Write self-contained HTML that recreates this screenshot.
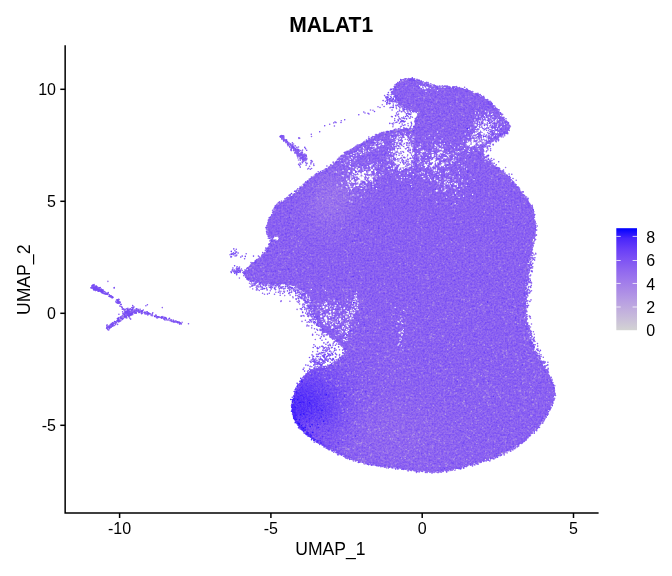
<!DOCTYPE html>
<html lang="en"><head><meta charset="utf-8"><title>MALAT1</title>
<style>html,body{margin:0;padding:0;background:#fff;overflow:hidden}svg{display:block;font-family:"Liberation Sans",sans-serif}</style></head>
<body>
<svg width="672" height="576" viewBox="0 0 672 576">
<rect width="672" height="576" fill="#fff"/>
<defs><linearGradient id="lg" x1="0" y1="0" x2="0" y2="1"><stop offset="0.000" stop-color="#0000FF"/><stop offset="0.100" stop-color="#4926FB"/><stop offset="0.200" stop-color="#673DF8"/><stop offset="0.300" stop-color="#7C51F4"/><stop offset="0.400" stop-color="#8E65F0"/><stop offset="0.500" stop-color="#9D77EC"/><stop offset="0.600" stop-color="#AA89E7"/><stop offset="0.700" stop-color="#B69CE3"/><stop offset="0.800" stop-color="#C1AEDE"/><stop offset="0.900" stop-color="#CAC0D9"/><stop offset="1.000" stop-color="#D3D3D3"/></linearGradient>
<radialGradient id="b0" cx="0.5" cy="0.5" r="0.5"><stop offset="0.00" stop-color="#4B28FB" stop-opacity="1.000"/><stop offset="0.12" stop-color="#4B28FB" stop-opacity="0.927"/><stop offset="0.25" stop-color="#4B28FB" stop-opacity="0.739"/><stop offset="0.38" stop-color="#4B28FB" stop-opacity="0.506"/><stop offset="0.50" stop-color="#4B28FB" stop-opacity="0.298"/><stop offset="0.62" stop-color="#4B28FB" stop-opacity="0.151"/><stop offset="0.75" stop-color="#4B28FB" stop-opacity="0.066"/><stop offset="0.88" stop-color="#4B28FB" stop-opacity="0.025"/><stop offset="1.00" stop-color="#4B28FB" stop-opacity="0.008"/></radialGradient>
<radialGradient id="b1" cx="0.5" cy="0.5" r="0.5"><stop offset="0.00" stop-color="#7C51F4" stop-opacity="1.000"/><stop offset="0.12" stop-color="#7C51F4" stop-opacity="0.927"/><stop offset="0.25" stop-color="#7C51F4" stop-opacity="0.739"/><stop offset="0.38" stop-color="#7C51F4" stop-opacity="0.506"/><stop offset="0.50" stop-color="#7C51F4" stop-opacity="0.298"/><stop offset="0.62" stop-color="#7C51F4" stop-opacity="0.151"/><stop offset="0.75" stop-color="#7C51F4" stop-opacity="0.066"/><stop offset="0.88" stop-color="#7C51F4" stop-opacity="0.025"/><stop offset="1.00" stop-color="#7C51F4" stop-opacity="0.008"/></radialGradient>
<radialGradient id="b2" cx="0.5" cy="0.5" r="0.5"><stop offset="0.00" stop-color="#9A74ED" stop-opacity="1.000"/><stop offset="0.12" stop-color="#9A74ED" stop-opacity="0.927"/><stop offset="0.25" stop-color="#9A74ED" stop-opacity="0.739"/><stop offset="0.38" stop-color="#9A74ED" stop-opacity="0.506"/><stop offset="0.50" stop-color="#9A74ED" stop-opacity="0.298"/><stop offset="0.62" stop-color="#9A74ED" stop-opacity="0.151"/><stop offset="0.75" stop-color="#9A74ED" stop-opacity="0.066"/><stop offset="0.88" stop-color="#9A74ED" stop-opacity="0.025"/><stop offset="1.00" stop-color="#9A74ED" stop-opacity="0.008"/></radialGradient>
<radialGradient id="b3" cx="0.5" cy="0.5" r="0.5"><stop offset="0.00" stop-color="#9067EF" stop-opacity="1.000"/><stop offset="0.12" stop-color="#9067EF" stop-opacity="0.927"/><stop offset="0.25" stop-color="#9067EF" stop-opacity="0.739"/><stop offset="0.38" stop-color="#9067EF" stop-opacity="0.506"/><stop offset="0.50" stop-color="#9067EF" stop-opacity="0.298"/><stop offset="0.62" stop-color="#9067EF" stop-opacity="0.151"/><stop offset="0.75" stop-color="#9067EF" stop-opacity="0.066"/><stop offset="0.88" stop-color="#9067EF" stop-opacity="0.025"/><stop offset="1.00" stop-color="#9067EF" stop-opacity="0.008"/></radialGradient>
<filter id="tex" x="200" y="60" width="380" height="430" filterUnits="userSpaceOnUse" color-interpolation-filters="sRGB"><feTurbulence type="fractalNoise" baseFrequency="0.55" numOctaves="2" seed="11" result="n"/><feColorMatrix in="n" type="matrix" values="-0.243 0 0 0 0.622  -0.271 0 0 0 0.635  0.058 0 0 0 0.471  0 0 0 0 1" result="c"/><feComposite in="SourceGraphic" in2="c" operator="arithmetic" k1="0" k2="1" k3="1" k4="-0.5" result="s"/><feComposite in="s" in2="SourceAlpha" operator="in"/></filter><clipPath id="cp"><path d="M245.2 273L245.2 273.1L245.4 273.7L245.8 274.7L246.5 275.8L247.2 276.8L248 277.6L248.7 278.1L249.4 278.5L250.3 278.8L251.6 279.2L253.5 279.7L255.9 280.3L258.9 281L262.1 281.6L265.3 282.2L268.2 282.6L270.8 282.8L273.4 282.8L275.9 282.7L275.9 282.7L278.4 282.6L278.5 282.6L281 282.6L281 282.6L283.5 282.7L286 282.7L286.1 282.7L288.5 282.8L288.6 282.8L291 283.1L291.2 283.1L293.4 283.7L293.6 283.7L293.7 283.7L295.8 284.6L296.1 284.7L298.1 285.9L298.2 286L300.1 287.3L300.2 287.3L302 288.7L302 288.7L303.6 290L305.2 291.1L305.2 291.2L306.6 292.3L306.7 292.3L308 293.4L308.1 293.5L309.3 294.8L309.4 294.9L310.5 296.3L310.6 296.5L311.6 298L311.7 298.1L312.5 299.7L312.6 299.8L313.4 301.5L313.4 301.6L314.2 303.6L314.2 303.7L315.1 306L315.1 306.1L316 309.1L316.1 309.2L317 312.6L317 312.6L318 316.3L319 319.7L320.1 322.6L321.2 324.9L322.3 326.9L323.5 328.7L324.9 330.4L326.3 331.9L327.9 333.2L329.7 334.4L331.8 335.5L331.8 335.5L333.9 336.8L334.1 336.9L336.2 338.5L336.2 338.6L338.5 340.5L338.5 340.5L341.1 342.7L341.2 342.8L343.6 345.2L343.8 345.4L345.7 347.7L345.8 347.8L345.9 348L345.9 348.2L346.8 350.3L346.8 350.5L346.9 350.7L346.9 350.9L346.9 351.1L346.9 351.2L346.9 351.4L346.4 353.4L346.3 353.6L346.3 353.8L346.2 354L346 354.1L344.6 356L344.5 356.2L344.3 356.3L342.3 358.1L342.2 358.2L339.9 359.9L337.9 361.5L336.1 362.9L336 363L334.1 364.3L334 364.4L332.1 365.6L332 365.6L329.9 366.7L329.7 366.8L327.4 367.8L327.2 367.8L324.5 368.6L324.3 368.6L321.4 369.1L321.3 369.1L318.3 369.5L315.5 370L313.2 370.8L311.4 371.7L309.8 372.8L308.4 374.1L306.9 375.6L305.4 377.2L303.9 379.1L302.4 381.1L300.9 383.2L299.6 385.4L298.4 387.6L297.3 389.7L296.4 392L295.6 394.2L294.9 396.5L294.4 398.7L293.9 400.9L293.6 403.2L293.5 405.4L293.4 407.6L293.6 409.8L293.9 412.1L294.3 414.3L294.9 416.6L295.7 418.7L296.7 420.8L297.9 422.8L299.4 424.7L301 426.6L302.8 428.5L304.6 430.4L306.4 432.1L308.2 433.7L310 435.3L311.9 436.9L314.1 438.4L316.5 440.1L319 441.7L321.8 443.3L324.6 445L327.6 446.6L330.7 448.3L334 450.1L337.4 451.8L340.7 453.5L344 455L347.3 456.3L350.6 457.5L353.9 458.7L357.2 459.7L360.5 460.7L363.8 461.5L367.1 462.2L370.4 462.8L373.7 463.4L377 463.9L380.3 464.5L383.6 465L386.9 465.5L390.2 465.9L390.3 465.9L393.6 466.4L393.6 466.4L397 466.9L397 466.9L400.6 467.5L404.1 468L407.4 468.5L410.2 468.9L412.5 469.2L414.3 469.4L416 469.5L417.8 469.7L420.1 469.8L420.1 469.8L423.1 470L423.1 470L426.3 470.3L429.8 470.5L433.3 470.7L436.6 470.6L439.8 470.3L443.1 469.9L446.3 469.4L449.6 468.8L452.9 468.1L456.2 467.4L459.5 466.6L462.8 465.8L466.2 464.9L469.5 464L472.8 463L476.2 462.1L479.5 461.1L482.8 460.1L486.1 459L489.4 457.8L492.7 456.6L495.9 455.3L499.2 454L502.5 452.5L505.8 450.9L509.3 449.1L512.6 447.3L515.9 445.4L518.9 443.4L521.8 441.3L524.6 439L527.2 436.6L529.7 434.2L531.9 432L533.9 429.9L535.7 427.9L537.2 426L538.7 424.1L540.2 422.2L541.6 420.2L543 418.3L544.3 416.4L545.5 414.4L546.6 412.4L547.8 410.2L548.8 407.9L549.9 405.6L550.8 403.3L551.5 401.1L552.1 399.1L552.5 397.1L552.8 395.2L553 393.4L553.1 391.7L553 390.1L552.8 388.6L552.5 387.2L552.1 385.6L551.5 384L550.8 382.2L549.9 380.3L548.9 378.4L547.8 376.3L546.6 374.2L545.4 372L544.1 369.8L542.8 367.5L542.8 367.4L541.4 365.1L541.4 365L540 362.6L540 362.6L538.7 360.1L538.7 360.1L537.2 357.5L537.2 357.5L535.8 354.9L535.8 354.9L534.5 352.3L534.5 352.3L533.3 349.8L533.3 349.8L532.3 347.5L532.2 347.5L531.3 345.4L531.3 345.3L530.5 343.2L530.5 343.2L529.8 341.1L529.7 341.1L529 338.9L529 338.9L528.3 336.6L528.2 336.6L527.5 334.3L527.5 334.3L526.8 331.9L526.8 331.9L526.2 329.5L526.2 329.5L525.6 327.1L525.6 327.1L525.2 324.8L525.2 324.7L524.8 322.4L524.7 322.4L524.4 320.1L524.4 320L524.1 317.7L524.1 317.6L523.9 315.2L523.9 315.1L523.8 312.6L523.8 312.5L523.7 309.9L523.7 309.9L523.8 307.2L523.8 307.2L523.8 304.5L523.8 304.4L523.9 301.6L523.9 301.6L524 298.7L524 298.7L524.2 295.7L524.2 295.6L524.3 292.6L524.4 292.5L524.6 289.5L524.6 289.5L524.8 286.5L524.8 286.5L525.1 283.7L525.1 283.6L525.4 280.8L525.4 280.8L525.8 278.1L526.1 275.5L526.4 273.1L526.6 270.9L526.7 268.9L526.9 266.9L526.9 266.9L527 264.9L527 264.8L527.3 262.8L527.3 262.7L527.7 260.4L527.7 260.4L528.2 258.1L528.2 258.1L528.8 255.7L528.8 255.7L529.3 253.4L529.9 251.3L529.9 251.2L530.4 249.1L530.4 249.1L530.9 247.1L530.9 247.1L531.4 245.1L531.9 243.1L532.4 241.3L532.8 239.5L532.8 239.5L533.1 238L533.5 236.5L533.7 234.9L533.9 233.1L534 231.1L534.1 228.8L534.2 226.5L534.1 224.2L533.9 221.9L533.6 219.6L533.2 217.3L532.7 215L532.2 212.8L531.5 210.6L530.8 208.6L529.9 206.7L529 204.8L527.9 203L526.7 201.1L525.3 199.2L523.8 197.2L522 195.3L520.3 193.3L520.3 193.2L518.6 191.2L518.5 191.2L516.9 189.2L516.9 189.2L515.3 187.1L513.7 185.1L512 183.2L510.3 181.3L508.5 179.5L506.5 177.7L504.5 175.9L502.5 174.2L500.5 172.5L498.5 170.9L496.4 169.3L494.4 167.8L494.4 167.8L492.4 166.3L492.4 166.2L490.5 164.8L488.7 163.4L487 162.1L486.9 162.1L485.3 160.8L485.2 160.7L483.8 159.4L483.7 159.3L483.6 159.2L482.5 157.9L482.4 157.7L482.3 157.5L481.7 156.3L481.6 156L481.5 155.8L481.2 154.6L481.2 154.4L481.2 154.2L481.2 152.9L481.2 152.7L481.4 151.4L481.4 151.3L481.6 150.1L481.7 150.1L481.9 148.9L482 148.8L482.3 147.7L482.4 147.6L482.4 147.5L482.9 146.4L483 146.2L483.1 146.1L484 145L484.1 144.9L484.2 144.8L485.4 143.6L485.6 143.4L487.4 142.2L487.6 142.1L489.9 140.7L490 140.7L492.6 139.2L492.6 139.2L495.1 137.9L497.4 136.6L499.3 135.5L499.3 135.5L501.2 134.4L503 133.4L504.4 132.5L505.6 131.8L506.3 131.2L506.7 130.8L506.8 130.6L507 130.2L507.3 129.7L507.3 129.7L507.6 129L507.9 128.4L508.1 127.9L508.1 127.4L508.1 127L508 126.5L507.6 125.8L507.2 125L506.6 124L505.9 123.1L505.3 122.2L504.5 121.2L503.7 120.2L503.7 120.2L502.8 119.1L502.8 119.1L501.8 117.9L501.8 117.8L500.7 116.4L500.7 116.4L499.6 114.9L498.5 113.3L497.3 111.7L496.1 110.3L494.7 108.8L493.3 107.3L491.8 105.9L490.3 104.5L488.8 103.1L487.2 101.9L485.7 100.7L484.2 99.5L482.6 98.4L481 97.4L479.4 96.5L477.7 95.6L476 94.8L474.2 94L472.3 93.3L470.3 92.5L468.2 91.8L466.1 91.1L463.8 90.4L461.3 89.9L458.4 89.4L455.2 88.9L451.8 88.5L448.6 88.2L445.9 87.9L443.7 87.8L441.9 87.8L440.3 87.8L440.2 87.8L438.7 87.8L438.5 87.8L436.9 87.7L436.7 87.7L435 87.4L434.9 87.4L433.2 87.1L433.1 87L431.4 86.6L431.3 86.6L429.7 86.1L429.6 86.1L427.9 85.6L427.8 85.6L426.2 85L426.1 85L424.5 84.3L424.5 84.3L422.9 83.5L421.4 82.9L419.9 82.3L418.2 81.7L416.5 81.2L414.8 80.7L413.2 80.3L411.8 80.1L410.5 80L409.4 80.1L408.2 80.2L407.1 80.4L405.9 80.7L404.8 80.9L403.8 81.2L402.8 81.6L401.8 82L400.9 82.5L400.1 83L399.2 83.6L398.4 84.2L397.7 84.9L396.9 85.7L396.2 86.6L395.5 87.5L394.9 88.4L394.6 89.2L394.4 90.1L394.5 91.2L394.8 92.7L395.3 94.3L396 95.9L396.7 97.4L397.4 98.8L398.2 100.1L399.1 101.3L400.1 102.5L401.2 103.6L402.6 104.6L404.1 105.6L405.7 106.5L407.5 107.4L409.1 108.3L410.8 109L412.6 109.6L414.5 110.1L414.7 110.2L416.2 110.9L416.4 111L416.6 111.1L416.7 111.2L417.7 112.1L417.9 112.2L418 112.3L418.1 112.5L418.2 112.6L418.3 112.8L418.3 112.9L418.6 114L418.7 114.2L418.7 114.4L418.7 114.6L418.7 114.7L418.7 114.9L418.5 116.1L418.5 116.3L418.4 116.5L417.9 117.8L417.8 117.9L417.3 119.2L416.9 120.4L416.6 121.8L416.5 123.6L416.5 123.7L416.3 125.5L416.3 125.7L416.2 125.9L415.7 127.4L415.7 127.6L415.6 127.8L415.5 127.9L415.4 128.1L414.5 129.2L414.3 129.3L414.2 129.5L414.1 129.6L413.9 129.7L413.8 129.7L413.6 129.8L412.1 130.3L411.9 130.3L411.7 130.4L411.5 130.4L409.6 130.4L409.4 130.4L407.3 130.1L405.1 129.9L403.1 129.9L401.1 130.2L399 130.6L396.7 131.1L394.4 131.6L392.1 132.1L392.1 132.2L389.9 132.6L389.8 132.6L387.7 133L385.7 133.4L383.4 134L380.7 135.1L377.5 136.6L373.7 138.5L369.8 140.7L365.8 142.9L365.8 143L362.2 145L362.2 145L358.8 146.8L358.8 146.8L355.5 148.6L352.4 150.3L349.7 151.8L347.4 153.3L345.8 154.4L344.9 155.3L344 156.3L344 156.3L343 157.4L342.8 157.5L341.3 158.9L341.2 159L338.9 160.8L338.9 160.8L336.3 162.8L336.3 162.8L333.4 165L333.4 165L330.5 167.1L330.5 167.1L327.8 169L327.8 169.1L325.3 170.8L325.2 170.8L322.8 172.3L322.7 172.3L320.4 173.8L318.1 175.2L316.1 176.6L314.3 177.9L312.8 179.1L311.3 180.3L309.8 181.6L309.7 181.6L307.9 183.1L305.8 185L303.5 187L303.5 187L301.1 189.1L301.1 189.1L298.6 191.2L298.6 191.3L296.2 193.2L296.1 193.2L293.7 195L293.6 195L291.2 196.7L291.1 196.7L288.7 198.3L288.7 198.3L286.4 199.7L284.4 201.1L284.3 201.1L282.5 202.3L282.5 202.3L280.9 203.2L279.5 204.1L278.4 205L277.3 206.2L276.2 207.8L275.2 210L274.2 212.3L273.2 214.7L273.2 214.7L272.2 216.8L272.2 216.9L271.2 218.6L271.2 218.7L270.3 220.1L269.5 221.3L268.9 222.4L268.6 223.7L268.3 225.3L268.3 227.3L268.3 229.3L268.6 231.2L268.8 232.8L269.3 234L270 235.2L270.9 236.4L271 236.5L271.7 237.7L271.8 237.9L271.9 238L271.9 238.2L272.3 239.5L272.4 239.6L272.4 239.8L272.4 240L272.4 241.3L272.4 241.4L272.4 241.6L272.2 242.8L272.2 243L272.1 243.1L271.7 244.4L271.6 244.6L270.9 246L270.9 246.1L269.9 247.7L269.9 247.8L268.6 249.6L268.5 249.7L266.9 251.8L266.9 251.8L265.1 254L265 254.1L263.2 256.1L263.1 256.2L261.4 258L261.3 258.1L259.6 259.6L259.5 259.7L257.7 261.1L257.7 261.1L256 262.4L254.4 263.5L253 264.7L251.6 266L250.3 267.4L249 268.8L247.9 270.1L247 271.2L246.9 271.3L246.1 272.1L246 272.2L245.4 272.8L245.2 273Z"/></clipPath></defs>
<g filter="url(#tex)"><g clip-path="url(#cp)">
<rect x="200" y="60" width="380" height="430" fill="#8A61F1"/>
<ellipse cx="298" cy="413" rx="96.80000000000001" ry="88.0" transform="rotate(0 298 413)" fill="url(#b0)"/>
<ellipse cx="318" cy="436" rx="57.2" ry="30.800000000000004" transform="rotate(30 318 436)" fill="url(#b1)"/>
<ellipse cx="332" cy="200" rx="48.400000000000006" ry="61.60000000000001" transform="rotate(20 332 200)" fill="url(#b2)"/>
<ellipse cx="395" cy="435" rx="132.0" ry="88.0" transform="rotate(0 395 435)" fill="url(#b3)"/>
</g></g>
<g fill="none" stroke-linecap="round" stroke-width="1.6">
<path stroke="#fff" stroke-width="1.3" d="M432 85.8h0M430.3 88.2h0M427.3 86.6h0M425.4 84.6h0M426 91.3h0M437.4 90.6h0M433.9 88.3h0M424.4 87.5h0M422.8 88.7h0M423.8 86.7h0M419.4 85.7h0M366.2 169.6h0M349.4 186h0M350.4 161.6h0M367.5 177.1h0M382.9 174.6h0M350.5 187.7h0M349.8 201h0M358.9 169.2h0M359.1 177.4h0M373.8 167.6h0M370.2 178.7h0M353.1 182.4h0M353.2 182h0M356.3 173.5h0M370.2 172.5h0M376.8 176.6h0M336.3 172h0M357.2 181.2h0M367.2 176.5h0M372.7 180.2h0M362.8 179.6h0M357.2 175.4h0M359.1 180.6h0M354 171.3h0M376.5 188.5h0M363.6 177.5h0M373 186.7h0M352.1 180.5h0M366 188.1h0M358.2 180.7h0M372.2 165.1h0M348 174h0M368.2 172h0M379.5 166.7h0M361.8 188.6h0M355.1 176.6h0M342.3 175.6h0M362.4 167h0M364.9 185.4h0M353.3 180.8h0M372.5 179.3h0M366.5 175.9h0M381.8 162.6h0M354.4 182.2h0M370.3 165.3h0M391.6 168.6h0M368.3 160.1h0M357.8 184.5h0M361 182.1h0M350.8 176h0M371.9 164.4h0M362.9 168.8h0M382 172.8h0M337.1 184.9h0M342.1 183.5h0M354.9 175.3h0M356.5 175.8h0M360.7 176.2h0M377.4 162.9h0M362.2 176.7h0M350.4 163.7h0M343 170.4h0M346.7 179.6h0M371.1 179.4h0M358 194.9h0M376.2 176h0M366.5 179h0M354.7 185.6h0M376.1 176.9h0M347 187.2h0M358 181.7h0M366.9 173.1h0M346.2 186.6h0M357 167.5h0M361.1 188.4h0M375.2 182.8h0M365.4 171.4h0M357.9 182.1h0M353.2 167.7h0M376.5 178.6h0M360.9 174.4h0M368.7 173.7h0M358.5 169.5h0M357.6 172.2h0M379.5 174.3h0M343.6 175.8h0M351 178.1h0M375 170.6h0M350.9 188.3h0M354.9 173.3h0M356.2 173.5h0M359.9 173.9h0M348.1 183.8h0M364.4 180.2h0M350.6 178h0M362.3 179.8h0M363 184.2h0M370.8 181.3h0M373.2 163.8h0M372.7 176.2h0M365.4 181h0M361.2 185.6h0M376 172.7h0M353.4 186.9h0M373.4 168.3h0M358.5 185.2h0M369.9 175.1h0M366.3 186.7h0M352.8 174.7h0M375.5 174.4h0M359.3 175.3h0M354.6 186.4h0M341.8 182.7h0M363.1 186.1h0M353.4 179.3h0M356.4 185.3h0M370.6 168.1h0M359 183.3h0M360.9 173.8h0M365 171.8h0M380 175.9h0M376.6 164.6h0M372.9 184.2h0M358.2 175.9h0M351.5 189.7h0M352.7 174.2h0M348.4 191.1h0M352 188.7h0M376.8 165.2h0M359.5 168.7h0M354.4 172.6h0M358.5 168.7h0M352 202h0M361.3 197.2h0M367.8 176.8h0M358.2 164.8h0M351.5 187.7h0M375 175.8h0M374 168.8h0M371.9 179h0M366.3 182.3h0M357.6 170.2h0M371.1 173.1h0M341.9 188h0M350.5 179.5h0M354.7 185.1h0M346.9 178.8h0M356.4 182.1h0M358.8 180.2h0M372 180.4h0M372.6 181.8h0M365.5 172.9h0M352.7 180.3h0M363.2 174.1h0M352.3 176.9h0M355.8 178.5h0M387.3 166.2h0M356.8 170.4h0M367.4 166.7h0M363.3 170.1h0M350.2 182.4h0M350.4 166.7h0M364.7 191.2h0M363.5 180.2h0M396.4 165.1h0M353 195h0M349.3 184.5h0M376.1 165.9h0M372.1 149.6h0M378.3 149.8h0M345.7 164.6h0M353.6 155.6h0M349.4 166h0M363.4 147.3h0M370.8 146.4h0M380.3 140.9h0M344.5 163.1h0M375.7 147.8h0M363.9 148.5h0M375 144.9h0M356.1 158.6h0M363.3 150.2h0M350.1 159.4h0M379.6 145.7h0M357.8 151.5h0M368.5 150.3h0M346.7 154.8h0M379 145.7h0M340.1 160.6h0M351.6 157.7h0M359.9 148.8h0M343.8 158.7h0M376 146.9h0M382.6 144.2h0M353.9 153.4h0M359.1 152.7h0M351.1 154.4h0M361.6 153.9h0M348.9 158.4h0M375.8 141.7h0M374.1 148.4h0M383.7 144.5h0M354.7 160.1h0M375.7 146.7h0M379 141.6h0M356.1 152.8h0M376.3 143.3h0M373 146.7h0M348 155.7h0M360.5 154.4h0M380 142.3h0M381.9 142.6h0M382.3 141.7h0M375 146.4h0M363.6 152.5h0M380.2 144.8h0M347.1 161h0M356.5 155.1h0M365.8 151.2h0M342 163.6h0M363.2 150.4h0M373.2 146.5h0M374.9 146.8h0M374.5 141.1h0M383.4 143.3h0M352.5 158.1h0M363.9 151.3h0M369.1 151.4h0M413 154.9h0M399.6 158.2h0M410.2 165.3h0M390.8 157.8h0M406.8 137.9h0M400 158h0M411 147.8h0M399.8 166.3h0M403 145.4h0M397.8 155.9h0M398 164.1h0M401.6 145.3h0M407.8 172.1h0M408.3 144.1h0M398.6 168.7h0M400.1 168.6h0M405.4 145h0M409.5 148.9h0M388 145.8h0M408.8 146h0M388.6 150.2h0M412 158.2h0M410.9 151.2h0M400.9 147.2h0M387.1 160h0M409.5 156.4h0M411.7 159.5h0M404.3 177.7h0M396.6 145.6h0M407.7 173.4h0M401.3 167.9h0M392.4 159.1h0M405.7 136.7h0M404.9 166h0M394.8 144.2h0M396.3 160.3h0M409.5 165.8h0M410.4 150.3h0M400.1 165.5h0M396.6 158.5h0M401.4 147.5h0M397.9 154.2h0M392.5 138.3h0M412 147.2h0M396.5 161.1h0M413.1 158.7h0M411 184.3h0M392.6 145.9h0M404.3 161.5h0M401.5 177.6h0M395.2 154.1h0M396.4 157.9h0M405.5 141.7h0M397.1 152.8h0M402.6 164.9h0M408.8 156.6h0M407.9 164.7h0M413.5 156.9h0M405 167.3h0M400.4 165h0M398.2 149.6h0M397.2 179.3h0M390.9 158.8h0M411.6 186.7h0M413.2 174.7h0M411.9 138.8h0M411.2 152.5h0M401.9 163.4h0M398.7 144.4h0M390.5 165.7h0M399.8 159.1h0M408.9 160h0M412.2 150.1h0M395.9 154.6h0M410.5 150h0M406.7 166.8h0M411.5 157.5h0M405.8 167.2h0M412.8 165.2h0M407 177.3h0M408.7 149.8h0M392.5 157.6h0M408 139.5h0M401.9 166.2h0M389.6 153.7h0M388.8 169.5h0M399.3 134.1h0M399.7 174.4h0M395.9 150.6h0M394.5 145.1h0M399.4 149.6h0M406.6 140.3h0M395.5 147.8h0M395.2 139.7h0M401.4 180h0M394.8 161.4h0M409.6 162.3h0M406.7 145.7h0M400.5 164h0M399.4 157.5h0M410.6 146.4h0M402.5 167.4h0M411.4 151.5h0M398.1 156.7h0M402.3 141.8h0M398.3 146.6h0M408.9 166.7h0M398.9 147.2h0M410.3 163.5h0M404.4 168.3h0M412.1 164h0M402.4 144.7h0M401.4 145.3h0M396.9 163.7h0M394 152.4h0M398.5 170.1h0M398.4 151.8h0M404.8 140.9h0M388.3 160.1h0M410.2 178.7h0M411 153.8h0M410.4 166.1h0M396.5 149.8h0M409.2 162.5h0M408.3 142.1h0M397 137.9h0M398.4 154.5h0M399.1 151.6h0M400.6 131.2h0M413.1 167.6h0M395.7 166h0M407.9 168h0M399.6 161h0M408.8 145.9h0M396.6 133.1h0M407.7 163.9h0M403.8 163.4h0M413.5 174.6h0M408.7 158.6h0M409.5 160.6h0M392.3 172.2h0M395 155.3h0M409.9 144.7h0M397.4 164h0M408.1 148.8h0M396.4 141.7h0M395.6 145.1h0M402.9 167h0M412.8 153.6h0M395.7 143.6h0M400.3 170.7h0M394.9 155.2h0M409.1 160h0M395.8 152h0M400.7 148h0M387.2 156.9h0M401.7 146.2h0M409.2 146.3h0M402 143.4h0M398.5 160.3h0M398.4 138h0M400.7 170.6h0M396.9 163.1h0M399.6 138.9h0M397.1 147.3h0M396.1 133.7h0M413.6 155.3h0M409.9 147.3h0M410.7 145.1h0M410.2 171.5h0M399.4 163.2h0M410.2 143.1h0M409.6 165.2h0M409.8 150.2h0M407.1 144.6h0M410.5 159.9h0M406.2 165.7h0M409.2 149.7h0M398.2 169.1h0M400.3 166.5h0M405.7 164h0M405.7 143.5h0M389 164.7h0M403 161.1h0M408.1 166.4h0M395.7 152.3h0M397.3 144h0M393.4 161h0M395 156.7h0M399.3 141.2h0M397.7 151.8h0M411.1 152.8h0M399.4 136.7h0M400 163.7h0M410.5 171.5h0M410.4 155.8h0M409.9 159.6h0M391.3 151.6h0M391.9 151.2h0M392.1 154h0M393.9 166.5h0M409.6 135.9h0M399.7 139.1h0M406.5 136.6h0M410.6 134.3h0M405.5 143.7h0M403.2 143.3h0M402.5 139h0M398.3 144.6h0M392.9 142.7h0M409.8 141.2h0M401.2 136.2h0M412.8 144.9h0M395.3 139.9h0M407.7 141.1h0M397.1 138.9h0M404.5 142.6h0M403.7 145.3h0M405.8 137.3h0M395.3 141.6h0M400.4 141.3h0M406.8 141.2h0M399.8 139.4h0M403.7 145.2h0M404.7 133.5h0M390.7 136.8h0M397.2 141.7h0M405.3 133.4h0M391.4 132.6h0M390.9 138.2h0M398.5 142.9h0M400 142.1h0M397.7 137h0M400.9 136h0M399.9 145.3h0M395.2 139.9h0M413 137.1h0M409 142.1h0M407.7 141.4h0M399.6 138h0M413 139.7h0M392.4 133.9h0M413.4 137.2h0M394.5 137.9h0M403.4 132.7h0M405.1 137.7h0M406.9 140.4h0M436.9 180.5h0M461.9 165.7h0M422.1 163.6h0M435.1 144.7h0M448.5 171.3h0M424.3 165.2h0M453.6 157.4h0M433.7 162.7h0M430.3 159.3h0M448.4 156.7h0M432.8 141.8h0M436.9 146h0M419.8 159.1h0M440.3 141h0M436.5 170.5h0M423 172.3h0M441.8 162.6h0M426.7 154.5h0M435.2 157.5h0M429.2 135.3h0M444.4 166.6h0M456 151.7h0M434.1 164.2h0M426.9 152.4h0M419.2 162h0M420.7 144.2h0M425.5 167.5h0M427.7 164.4h0M421.6 153.9h0M451.2 161.8h0M441.7 145.6h0M417.9 163.5h0M438 174.3h0M432.2 168.8h0M435.5 145.5h0M442.3 152.6h0M455.6 155.6h0M423.8 178.6h0M427.9 164h0M421.9 151.9h0M446.2 154.6h0M434.8 137.8h0M434.7 177.8h0M443.8 157.9h0M453.6 159.2h0M449 179.3h0M438.1 160.8h0M422.3 176.4h0M419.2 147.2h0M437 162h0M446.1 163.1h0M451.7 163.5h0M419.6 155.9h0M437.9 156.8h0M430.9 180.5h0M436.3 169.2h0M448.2 155h0M439.3 149h0M433.8 158.8h0M433.6 163.9h0M422.9 176.7h0M458.7 170.6h0M437.6 181h0M465.5 159.8h0M426.2 157.4h0M443.8 163.2h0M438.1 147.2h0M442.7 163.9h0M449.4 183.9h0M436.6 168.1h0M426.2 165.3h0M431.9 152.3h0M440.7 145h0M440.8 149.3h0M424.5 172.9h0M440.4 166.6h0M433.9 161.7h0M446.2 157.7h0M444.2 153.4h0M449.9 154.6h0M442.2 164.6h0M442.3 150h0M444.4 143.3h0M439.2 157.4h0M435.3 155.1h0M439.2 153.9h0M440 165.8h0M420.2 157.5h0M438 162.5h0M438 155.3h0M417.7 153.6h0M417.2 148.6h0M421.1 151.2h0M428.5 176.3h0M453.3 160.9h0M422.5 151.8h0M418.3 155.8h0M440.4 173.3h0M446.1 171.4h0M437.7 132h0M433.6 161.3h0M442.2 138.8h0M447.8 166.6h0M440.1 148.6h0M442.2 159.4h0M426 160.5h0M437.7 153.6h0M430.8 158.3h0M421.8 166.3h0M439.5 152.1h0M430.3 165.6h0M432.8 149.9h0M434.3 165.9h0M438.1 153.9h0M429.5 167.7h0M435.1 147.4h0M439.7 176.4h0M441.3 165.2h0M442.4 146h0M428.2 162.4h0M466.7 169h0M440.6 173.6h0M445 179.6h0M440.1 182h0M455.2 203.7h0M454.3 160.9h0M451.2 150.4h0M462.3 179.3h0M445.1 145.9h0M433.6 163.5h0M440.1 178.9h0M447.9 163.3h0M422.3 155.1h0M441.4 152.5h0M442 162.6h0M449 171.1h0M459.1 163.4h0M444.8 157.4h0M420.8 153.8h0M434.6 179.3h0M430.5 179.7h0M429.4 155.5h0M432.4 161.2h0M421.3 163.8h0M433.3 163.2h0M447.6 155.5h0M458.6 156.8h0M442.1 159.7h0M453.2 153.3h0M442.4 165.5h0M418.1 173.8h0M426.7 150.7h0M456.1 156.1h0M440.7 149h0M435.9 172.6h0M447.4 183.2h0M437.8 148.1h0M436.4 163h0M448.2 152.6h0M438.7 171h0M429.2 177.9h0M427.8 174.2h0M424.4 162.9h0M445.7 158h0M446.3 181.8h0M447.7 172.2h0M448.8 181.6h0M420.3 161h0M424.7 178.7h0M424.9 151h0M454.5 147.7h0M437.2 181h0M440.2 144.4h0M422 171.6h0M447 162.9h0M436.2 161.4h0M420.3 173h0M417.6 148.5h0M452.2 160.3h0M425.5 137.9h0M420.4 146.9h0M433 152.5h0M464.2 167.1h0M420.8 161.6h0M455.8 160.2h0M453.7 160.6h0M440.5 155.1h0M450.9 162.8h0M450.8 144.2h0M421.8 151.7h0M441.6 188.9h0M455 188.1h0M457.5 183.9h0M439.3 183.8h0M461.8 186h0M470.7 175.2h0M459.2 189.3h0M466.2 185.3h0M447.2 179.9h0M459.4 176.8h0M433.9 173.1h0M444.8 190.1h0M463.5 196.2h0M446 189.5h0M445.9 184.2h0M462 181h0M447.9 183.9h0M447.7 183.8h0M444.8 188h0M457.5 185.3h0M445 185.8h0M434.9 179h0M451.6 183.4h0M445.4 190.7h0M455.5 193.2h0M474 179.6h0M467.3 181.1h0M444.9 178.5h0M454 187.7h0M446.5 197.2h0M459.1 197.5h0M459.5 173h0M456 184.5h0M472.6 194.5h0M452.6 178.4h0M453.1 176.3h0M449.9 175.6h0M444.3 184.9h0M444 191.5h0M455.7 192.4h0M450.3 185.9h0M436.7 201.9h0M455.1 179.9h0M453.1 195.2h0M457.6 186.4h0M445.8 172.7h0M453.1 182.6h0M476.3 122.1h0M478.6 125.4h0M486.5 129.6h0M482.3 126.2h0M488.6 124.9h0M498.4 119.7h0M480.4 122.9h0M480.8 126.5h0M489.4 140h0M490.8 129.7h0M497.2 135.4h0M487.3 121.1h0M493.6 131.6h0M504.5 124.2h0M492.2 119.6h0M482.3 138.8h0M478.5 112.9h0M498.4 132.6h0M483.7 132.5h0M476.9 117h0M488.1 124h0M497.5 118.4h0M484.3 121.7h0M485.4 137.3h0M501.9 132.9h0M483.7 140.9h0M477.7 137.9h0M488.5 122.6h0M490.5 126.5h0M479.6 130.2h0M494.2 135.6h0M491.2 123.7h0M498.7 128.7h0M500.4 113h0M488.1 129h0M497.3 126.7h0M481.7 118.9h0M486.4 120.7h0M476 122.1h0M475.4 139.5h0M484.6 115.4h0M493.6 120.2h0M497.7 125h0M489.5 141.7h0M493.1 116.7h0M487.1 121.7h0M481.7 133.8h0M492.7 125.3h0M482.9 124.5h0M485.9 126.6h0M483.1 117.8h0M490.3 127.8h0M485.4 116.8h0M479.9 116.6h0M482.9 130h0M496.4 128.6h0M483.6 118.5h0M485.8 134.5h0M489.2 134.6h0M481.6 120.6h0M490.2 121.2h0M481.1 128.9h0M473.6 122.9h0M485.6 111.2h0M481.3 133.4h0M487.4 138.9h0M474.5 124.6h0M478.6 123.6h0M491 125.5h0M496.3 119.3h0M501.3 126.6h0M488.3 111.9h0M485.9 122.2h0M495.1 121h0M491 128.5h0M501.2 121.9h0M486.9 129.8h0M482.2 125.6h0M498.8 129.3h0M490.9 129.3h0M483.1 138.5h0M481.4 125.3h0M474.9 120h0M491.1 118.1h0M473.8 134.6h0M479.4 141.7h0M487.9 114.2h0M493.1 129.6h0M476.3 125.1h0M484.4 137.4h0M489.4 117.5h0M492.5 113.9h0M488.2 125.9h0M475.5 113h0M490.3 131.3h0M501.1 121.8h0M483 135.2h0M482.4 138.2h0M492.7 137.4h0M491.4 114.4h0M477 131h0M477.6 132.3h0M486.5 133.2h0M500.7 127h0M482.3 130.4h0M470.8 128h0M486.4 121.2h0M477.5 135.4h0M478.7 131.7h0M488.3 113.4h0M490.1 141.8h0M460.9 145.4h0M476.3 139.2h0M483.5 143.4h0M473.5 133.3h0M479.1 141.5h0M487 135.8h0M478.4 140.3h0M490.7 133h0M475.2 137h0M469.5 151.3h0M475.5 130.7h0M458.3 147.1h0M476.3 128.5h0M469.9 143h0M480.5 129.6h0M485.1 142h0M468.6 129.3h0M477.1 142.2h0M479 141.2h0M485.9 146.3h0M479.7 139.8h0M487 137.1h0M475.7 146.2h0M472.5 134.9h0M478.5 141.2h0M480.3 139.1h0M485.1 135.8h0M464.6 148.4h0M477.1 130.7h0M482.4 136.6h0M483 141.5h0M477.7 146.5h0M462.2 150.9h0M471.7 136.9h0M486.3 138.8h0M479.1 150.6h0M476.6 136h0M468 153.7h0M482.7 137.6h0M478.6 143h0M469.7 144.5h0M479.3 141.8h0M478.1 143.7h0M481.7 141.1h0M479.3 143.8h0M468.4 150.9h0M483.9 133.9h0M467.5 141.2h0M479.1 144.8h0M474.9 144.2h0M478 139.6h0M469.9 143.9h0M463.5 141.2h0M478.8 148.8h0M479.9 139.9h0M478.1 140.6h0M465.2 134h0M470.1 146.6h0M485.8 132.5h0M479.8 139h0M463.1 150.4h0M477.4 148.6h0M477.6 141.4h0M486.8 133.4h0M468.2 137.5h0M474 136.7h0M479.9 128.7h0M469.4 149.1h0M473.4 150.3h0M483.2 140.6h0M484.7 135.5h0M474.8 133.8h0M490.4 165.6h0M483.2 140.4h0M482.3 151.1h0M492.4 140.7h0M487.7 140.2h0M492.9 136.8h0M484.2 142.1h0M485.4 159.9h0M485.1 161.7h0M487.4 144.5h0M484.3 147.2h0M490.7 135.8h0M486.1 144.8h0M482.7 152.4h0M487.5 134.7h0M484.1 144.4h0M485.8 141.3h0M275.8 240.1h0M274.7 237.1h0M276.1 240h0M273.5 238.9h0M340.2 306h0M339.8 320.5h0M340.3 322.2h0M330.4 305.9h0M338.9 334.6h0M311.3 289.4h0M338.8 324.7h0M342.6 328.2h0M348.6 312.2h0M324.2 309.3h0M346.8 313.6h0M336 317.9h0M334.6 308.1h0M317.5 319.2h0M345.7 331.7h0M335.6 323.8h0M321.8 312.5h0M326.5 322.6h0M330 307.4h0M341.1 310.7h0M325 308.8h0M322 319.6h0M326 321.2h0M346.3 314.9h0M320.8 311.2h0M335.7 307.1h0M334 322.2h0M338.9 329.5h0M341.5 308.8h0M332.5 323.7h0M324.6 304.6h0M334.3 307.2h0M342.6 332.6h0M314.4 304.2h0M326.4 319.7h0M337.4 322h0M331.8 321.3h0M333.1 306.4h0M335 305.1h0M347.6 299.8h0M327.8 305.8h0M352 332.2h0M330.7 309h0M347 303.3h0M334.1 310.9h0M329.3 320.4h0M348.7 311.6h0M322.2 321.4h0M340 332.1h0M345.7 316.9h0M330.9 313.9h0M324.9 319.1h0M327.2 325.6h0M336.8 324.5h0M358.5 323.1h0M342.2 320.7h0M335.9 305.5h0M331.8 328.4h0M340.7 316h0M324.4 318.1h0M326.7 319.4h0M336.2 329.4h0M325 317.6h0M334.1 300.1h0M339.3 312h0M328.4 315.8h0M323.7 306.6h0M337.6 319.8h0M320.5 313.5h0M335.9 335.4h0M358.2 309.7h0M337.4 303.2h0M322.9 288h0M318.9 309.8h0M333.1 316.3h0M327.8 314.2h0M318.4 303.9h0M341.3 332.9h0M324.8 303.8h0M343.5 318.3h0M326.6 314.1h0M330.2 320.8h0M333.2 322.4h0M325.4 290.6h0M323.8 314.9h0M330.4 324.9h0M329.4 317.5h0M325.1 301.6h0M329 315.5h0M330.6 336.6h0M340.2 329.4h0M336 321.8h0M358.6 303.1h0M329.3 323.1h0M334.1 300.9h0M343.9 314.7h0M325.9 324.3h0M326.7 315.1h0M346.1 310.6h0M350 318.7h0M328.9 298.8h0M325.3 325.2h0M333.8 314.5h0M340.9 321.1h0M320.3 320.1h0M320.6 307.6h0M317.7 307.8h0M336.3 322.7h0M320.1 321.9h0M329.9 306.6h0M341.3 330.8h0M335.7 324.7h0M321.3 314.1h0M322.2 304.8h0M337.2 316.3h0M334.6 318.3h0M330.9 324.8h0M325.9 317h0M314 308.5h0M317.8 303.9h0M346.4 325.2h0M354.2 299.4h0M352.1 314.7h0M353.5 301.7h0M354.7 295.7h0M351.1 317.8h0M355.2 297.9h0M348.7 330.4h0M356.6 292.2h0M356.2 300.5h0M356.4 295.1h0M354.8 312.1h0M351.5 314.9h0M347.4 326.4h0M344.9 327.8h0M347.5 309.1h0M348.5 322.8h0M351 319.1h0M356 298.9h0M346.6 332.2h0M347.3 311.6h0M347.4 333.4h0M342.6 331.5h0M355.9 307h0M354.7 310.3h0M347.7 327.1h0M344.5 328.5h0M355.2 307.7h0M348 319.3h0M354.8 304.2h0M352 305.8h0M346.6 329.5h0M357.3 307.9h0M344.1 340.1h0M352.1 316.5h0M352.2 312.7h0M353.3 309.5h0M346.1 332.1h0M355.9 296.1h0M347.9 313.5h0M351.6 309.2h0M344.6 339.7h0M356.3 299.1h0M347 331.4h0M350 318.3h0M345.8 317.1h0M356.7 302.1h0M350.4 311h0M351.2 310.2h0M354 299.3h0M352.1 310.9h0M348 325.5h0M356.6 298.3h0M354.1 305.7h0M347.7 319.6h0M347.9 330.2h0M349 324.5h0M352.4 306.1h0M355 301.6h0M352.6 303.2h0M357.6 303.1h0M349.1 328.6h0M347.9 323.2h0M351.7 326.8h0M353.1 318.7h0M357.9 300.1h0M346.2 336.8h0M354.3 312.9h0M346.8 338.3h0M343.9 341.6h0M344.7 324.1h0M346 331.1h0M356.9 309.7h0M348.3 326.4h0M350.7 312.2h0M357.4 305.3h0M345.4 335.4h0M346.2 323.5h0M357.2 304.9h0M347.1 325.2h0M355.8 301.1h0M347.8 327h0M343.4 326.4h0M349 314.1h0M345.7 340.4h0M352.2 315.9h0M343.4 339.4h0M345 336h0M350.6 317.8h0M347.4 314.1h0M342.8 326.9h0M349.5 315.5h0M347.2 340.2h0M352.8 302.1h0M353.2 313h0M401.4 338.9h0M398 345.2h0M403.4 329.3h0M401.8 331.6h0M401.5 334.5h0M395.1 307.5h0M402.3 334.6h0M398.5 332.7h0M403.8 310.4h0M396.9 325.8h0M401.7 345.8h0M400.7 316.2h0M402.9 349.8h0M399.9 332.2h0M397.9 321.4h0M399.9 342.8h0M401.6 322.8h0M400.1 340.5h0M398.5 332.6h0M398.9 343.3h0M400 338h0M399.7 332.9h0M400.4 320.1h0M402.7 323.4h0M403.2 332.2h0M398.9 322h0M398.8 344h0M402.4 331h0M401.8 335.3h0M401.9 318.8h0"/>
<path stroke="#fff" stroke-width="2.3" d="M421.3 86.9h0M424.8 88.6h0M427.3 87.4h0M370.7 178h0M360.3 177.9h0M359.6 180.6h0M361.3 179.3h0M369.5 176.3h0M358.6 176.6h0M351.1 186.6h0M362.5 177.7h0M359.2 173.3h0M359.4 182.3h0M370.3 171.8h0M365 172.2h0M364.1 175.8h0M359.4 175.3h0M362.7 173.2h0M366.5 182.3h0M375.7 172h0M349.1 171.1h0M369.5 179.5h0M372.6 176.5h0M370.4 165.8h0M356.1 169.3h0M362.4 179.2h0M371.9 170.2h0M357.5 185.2h0M369.6 173.2h0M348.3 181.4h0M352.3 181.3h0M362.8 174.7h0M363.4 178.5h0M363.9 172.6h0M353.8 171.9h0M403.2 147.3h0M411.7 159.4h0M400.3 167.7h0M404.8 163.4h0M407.7 155.2h0M410.4 161.6h0M404.4 150.2h0M397.9 155.9h0M409.9 155.1h0M396.2 154.9h0M404.4 165.4h0M400.6 156h0M398.5 160.8h0M405.9 145.9h0M399.9 155.9h0M410.1 153.5h0M400.4 148.2h0M402.5 151.2h0M399.6 156.8h0M407.4 154.5h0M402.2 155h0M402 152.9h0M400.1 150.8h0M405 139.8h0M407.2 153.9h0M404.7 143.8h0M405.2 146.7h0M399.7 153.3h0M407.4 154.6h0M405.6 152.3h0M404.6 149.6h0M400.8 148.8h0M404.8 164.9h0M409.4 159.8h0M405.1 159.9h0M406.2 154h0M402.9 148.2h0M404.9 158h0M401.3 161.9h0M405.5 147.3h0M401.3 147.3h0M407.4 151.8h0M404.9 145.9h0M401.9 154h0M397.3 146.8h0M402.8 166.5h0M395.6 156.5h0M402.3 159.3h0M408.8 153.6h0M403.6 160.8h0M410.9 156.8h0M404.2 150.4h0M411.5 148.5h0M408.5 157.8h0M413.1 160.3h0M407.3 149.3h0M404.7 154.8h0M400.7 152h0M400.8 157.2h0M407.9 155.2h0M401.5 156h0M401.9 162.1h0M406.8 155.7h0M402.3 162.2h0M400.5 152.8h0M403.8 156h0M404.5 160h0M399.3 167.7h0M402 154.9h0M407.5 149.6h0M398.7 162.4h0M401.8 151.6h0M401.9 163h0M393.9 168.4h0M409.3 156.7h0M398.5 151h0M401.6 157.2h0M407.2 149.3h0M399.4 156.3h0M396.1 149.5h0M400 157.1h0M403.5 156.5h0M402.3 157.3h0M403.7 150.6h0M403.6 152h0M400.1 159.2h0M406.3 141.1h0M399.2 162.3h0M400.3 153.8h0M413.1 155h0M409.2 156.8h0M406.6 146.2h0M397.9 158.3h0M402.2 156.5h0M398.1 157.1h0M400.9 148.4h0M403 149.7h0M404.6 163.6h0M405.8 152.6h0M401.6 157.5h0M403.1 160.8h0M404.1 152.4h0M402.3 156.4h0M408.7 155.5h0M404.8 152.4h0M407 152.9h0M401.8 153.1h0M405.5 160.6h0M408.2 151.6h0M401.4 154.2h0M399.6 150.9h0M404.8 156.7h0M407.2 151.1h0M399.3 156.5h0M405.3 156.6h0M400.5 166.3h0M402.3 157.6h0M398.8 146.3h0M401.9 164.3h0M406.4 158.5h0M408.4 151.2h0M405.4 153.8h0M404.5 160h0M404.3 149.7h0M406.9 153.7h0M407.2 152.7h0M406.5 155.3h0M404.2 165.7h0M403 150.5h0M398.6 156.7h0M398.3 146.6h0M408.7 157.6h0M403.8 156.7h0M406.9 154.9h0M398.4 157.7h0M399.6 152h0M401.8 153.6h0M407.4 162.9h0M400.6 152.1h0M402.7 150.6h0M396.5 162.4h0M399.8 167.9h0M402.5 151.3h0M401.1 161.8h0M407.1 155.2h0M402.9 142.3h0M404.4 149.8h0M393.7 151.5h0M395.6 162.4h0M406.2 150.9h0M408.4 160.3h0M399.8 160.4h0M398.9 150.3h0M405.6 155.1h0M413.5 153.2h0M408.8 157.8h0M404.4 157.9h0M402.3 169.1h0M398.5 158.5h0M396.9 153.5h0M407.3 155h0M401.4 145.7h0M404.7 154.2h0M404.3 159.2h0M401.1 166.1h0M405.1 155.9h0M399.6 154.2h0M401.1 161.1h0M398.8 162.9h0M408.1 155.2h0M405 152.3h0M406.2 151.7h0M405.2 156.9h0M404.5 159.8h0M402.9 153.4h0M404.8 151.4h0M407 158.3h0M411.3 150.7h0M402.2 151.2h0M401.2 148.4h0M402.3 150.5h0M406.3 151.7h0M397.2 153.8h0M410.5 152.5h0M403.2 148h0M409.1 152.2h0M406.9 153.9h0M408.9 155.6h0M407.3 154.2h0M406.8 140.5h0M404.9 141.7h0M399.5 138.6h0M404.9 138.1h0M407.3 139.6h0M403.9 141.1h0M404.8 138.4h0M405 136.5h0M400 138.8h0M403.5 139.2h0M396.9 140.6h0M406.5 138.4h0M432.7 156h0M434.3 160.3h0M434.5 170.3h0M434.1 160.4h0M431.1 161.4h0M434.6 159.3h0M438.8 153.3h0M436.8 163.5h0M434.4 163.1h0M432.9 160.9h0M425.5 165h0M431.5 166.5h0M441.1 152.3h0M431.6 166.4h0M432.9 154.8h0M437.6 161.7h0M442.7 164.6h0M432.9 164.8h0M426.4 166.2h0M442.8 149.6h0M423.6 151h0M458.4 152.2h0M443.4 164.7h0M436.7 190.7h0M455.3 184.1h0M445.1 182.6h0M490.8 129.8h0M486.8 131.3h0M480.9 128.6h0M485.1 129.8h0M481.6 129.6h0M483.6 126.9h0M485.7 131.2h0M482.9 125.4h0M485.8 133.3h0M488 128.8h0M489.3 131.9h0M484.6 121.5h0M490.5 125.4h0M486.2 122.8h0M483.9 132.2h0M486.3 126.9h0M496.2 132.2h0M485.6 130.5h0M479.7 121.5h0M495.7 121.3h0M490.2 130.8h0M493.9 129.6h0M490.3 126.8h0M485.9 128.9h0M482 130.7h0M484.8 129.5h0M487.6 134.5h0M478.1 127.4h0M484.3 123.5h0M484.1 126.5h0M483.2 126h0M485.3 125.8h0M490.3 125.5h0M482.4 131h0M489.1 126.1h0M479.4 122.7h0M490.2 128h0M484.3 125.3h0M485.9 126h0M479.2 130.9h0M485.2 138.7h0M487 131h0M475.2 124.8h0M492.5 125.2h0M492.7 121.6h0M485.6 127.1h0M489.7 124.9h0M486.6 119.2h0M487.1 129.9h0M469.5 142.5h0M468.4 143.9h0M482.1 133.8h0M474.8 143.1h0M470.9 145.8h0M467.4 143.6h0M472.4 141.5h0M472.6 145h0M476 133.4h0M484.9 143.9h0M479.8 139h0M473.4 144.5h0M472.7 139.8h0M473.8 144.5h0M467.7 145.2h0M480.7 143.2h0M472.7 143.2h0M484.2 149.6h0M488.5 142.8h0M275 238.4h0M277 239.2h0M275.7 237.8h0M276.5 237.6h0M275.5 238.8h0M277.6 238.3h0M323.4 307.1h0M333.9 311.1h0M325.6 318h0M340 319.2h0M332.4 327.2h0M321.2 316.4h0M326.3 303.4h0M330.2 311.8h0M326.5 320.5h0M326.9 308h0M326.1 318.6h0M344.2 308.1h0M330.5 315.4h0M346.7 316.6h0M324.1 323.5h0"/>
<path stroke="#B89FE2" d="M419.1 112.2h0M408.9 379.6h0M362.2 376.6h0M451.9 205.8h0M357.1 443.8h0M390.4 438.9h0M350.9 195.8h0M484.2 344.9h0M378.7 143.5h0M513.2 371.9h0M367.6 431.7h0M530.8 386.8h0M365.3 153.1h0M355 324.9h0M488.7 439.3h0M525.7 369h0M424.8 422.8h0M474.9 137.9h0M451.3 241.9h0M442.7 335.7h0M517.9 323.6h0M388.8 156.8h0M522.5 302.4h0M459.3 323.1h0M362.4 300.8h0M345.1 398.8h0M417.7 222.5h0M524.2 203.5h0M414.7 447.1h0M445.3 414.3h0M515 306.6h0M457 195.2h0M532.6 399.5h0M454 137.7h0M437.2 100.2h0M455.5 421.9h0M367.3 410.8h0M427.3 466h0M464.6 247.5h0M338.2 385.3h0M494.5 370.4h0M485.9 370.2h0M346 291.5h0M377.8 354.5h0M407.4 307.4h0M500.6 454.7h0M337.3 209.5h0M322.6 187h0M379.7 164.7h0M398.6 361.1h0M426 274.8h0M506.3 195.3h0M436.5 373.2h0M362.1 342.2h0M496.2 121.9h0M405.2 458.6h0M464.1 299.6h0M360 443.5h0M433.9 354.9h0M346.9 295.8h0M457.7 379.8h0M480.4 305.2h0M310.3 289.6h0M478.2 343h0M450.4 465.2h0M332.9 319.4h0M397.9 434.7h0M417.1 229.3h0M456.9 101.7h0M379.6 327.9h0M523.9 309.7h0M447.6 349.4h0M383 427.8h0M527.9 354.8h0M513.2 299.1h0M488.5 305.5h0M402.1 380.9h0M514 189.9h0M466.7 459.7h0M498.2 123.6h0M399.9 263.8h0M379.4 320.1h0M330.8 370.1h0M298.6 228.8h0M446.2 466.1h0M354.5 242.6h0M380.5 183h0M280.1 271.8h0M485.8 236h0M383.6 167.9h0M445.6 369.3h0M489 105.3h0M408.6 438.7h0M414.1 434.3h0M388.6 466.1h0M409.4 461.6h0M476.6 230.1h0M449.6 457.3h0M548.9 380.1h0M405.2 456.2h0M435 439.3h0M460.7 424h0M485.7 376.4h0M378.4 362.4h0M481.8 304.6h0M371.6 310.8h0M541 369.9h0M389.5 435.8h0M369.4 379.8h0M369.7 447.3h0M492 204.8h0M460.5 385.1h0M517.3 241.1h0M531.8 415.8h0M280.3 253.9h0M314.9 196.7h0M359.5 271.3h0M482.9 427.6h0M433 305.1h0M387.6 182.3h0M332.8 261.8h0M314.9 311.1h0M505.6 204.3h0M419.8 444h0M298.5 241.2h0M463.7 344.2h0M483.9 396.8h0M425.7 196.3h0M465 405.9h0M480.1 412h0M334.8 172.1h0M424.1 97.9h0M383.3 207.2h0M387.2 404.5h0M463.3 187.9h0M491 385.1h0M483.8 397.8h0M349.7 272.4h0M351.2 337.8h0M419.1 432.6h0M449.1 157.5h0M484.4 211.6h0M352.8 170.1h0M515.5 322.3h0M446.4 318.7h0M289.2 280.3h0M414.4 137h0M391 303.9h0M368.4 429.4h0M363.9 307.8h0M474.7 161.4h0M533.9 347.8h0M319.8 323.7h0M436.8 472.2h0M352.4 459.8h0M432 145h0M519.5 265.4h0M367.2 169.4h0M524.4 345h0M344.2 262.9h0M492.7 230.3h0M471.4 411.4h0M319 320.7h0M384.3 284.1h0M459.6 340.8h0M464.6 170.2h0M472.2 455.3h0M369.1 407.5h0M328.3 276.4h0M350.1 289.4h0M413.3 142.3h0M505.7 376.8h0M458.7 290.6h0M332 316.7h0M418.6 440.4h0M389.1 408.1h0M342.7 440h0M406.1 449.5h0M462.3 145.6h0M360.8 152.5h0M445.9 243.3h0M404.6 318h0M481.4 375.6h0M531.4 362.3h0M289.1 257.8h0M293.5 251.6h0M414.8 265.4h0M464.4 401.2h0M359.3 399.4h0M400.1 407.7h0M517.7 360.6h0M494.1 412.8h0M347.4 409.1h0M419.4 409.5h0M384.5 136.1h0M341.3 228.6h0M477.2 230.8h0M442.4 245.4h0M421.2 227.7h0M456.7 151.7h0M475.9 417.9h0M506.2 224.3h0M453.1 344.4h0M408.5 349.5h0M515.9 353.9h0M513.9 440.1h0M489 256.3h0M332.4 198.3h0M434.5 369.8h0M361.4 442.7h0M394.8 370.9h0M374.2 369h0M322.7 198.6h0M353.3 394.6h0M380.8 174.6h0M348.3 449.4h0M124.9 317h0M403.9 109.6h0"/>
<path stroke="#9B75EC" d="M302.8 290.3h0M407.6 129.9h0M493.8 166.5h0M351.1 149.4h0M488.7 140.1h0M521.1 443.2h0M267.9 224h0M414.8 126.4h0M495.6 138.9h0M351.8 458.3h0M319.4 174.5h0M428.2 85.5h0M409 467.9h0M419.2 470.4h0M497.9 137.9h0M266.1 250.2h0M408.4 107.9h0M415.2 128.1h0M552.3 383.5h0M527.3 271.2h0M491.5 458.2h0M542.7 369.6h0M550.3 403.3h0M394.5 86.3h0M453.2 469.4h0M294.1 194.7h0M325.7 169.4h0M269.7 220h0M492.5 140.5h0M400.4 468.3h0M500.8 135.9h0M529.3 260.3h0M467.3 90.6h0M458 468h0M403.3 104.3h0M421.7 470.6h0M472.4 93.8h0M524.9 273.9h0M460.1 468.1h0M549.7 406.7h0M315.9 305.1h0M513.4 182.6h0M423.7 470h0M532.6 220.9h0M482.3 96.9h0M507.9 125.2h0M552 380.4h0M329 168.8h0M346.4 349.7h0M412.8 469.7h0M359.4 145.9h0M353.3 459.9h0M525.6 289.1h0M297.6 285.1h0M482.6 146.3h0M445.9 86.6h0M530.9 208.6h0M525.6 267.6h0M313 178.1h0M341.7 343.7h0M466 90h0M487.9 101.6h0M478.4 461.4h0M529 266.3h0M415.3 122.8h0M357 146.6h0M280.9 283.2h0M397.5 467.4h0M441.6 468.9h0M344.1 346.5h0M417.6 115.2h0M334.3 163.3h0M303.7 185h0M270.2 218.6h0M487.6 142.2h0M361.2 143.9h0M345 153.5h0M506.1 451.8h0M542.6 423.2h0M505.5 130.8h0M431.3 85.9h0M263.4 284h0M527.6 256.3h0M483 150.1h0M344.3 155.4h0M336.8 340.8h0M512.8 446.8h0M351 150.3h0M404.3 128.5h0M403.4 108.7h0M531.8 242.8h0M293.2 194.4h0M501 116.8h0M535 222.6h0M532.3 432h0M446.2 469.9h0M281.9 283.8h0M526.4 281.1h0M525.7 278.5h0M510.2 180.8h0M414.2 470.2h0M350.8 151.9h0M429.8 87.3h0M400.9 82.2h0M346.5 352.2h0M400.9 81.1h0M531.9 214.3h0M385.5 466.6h0M438.3 89h0M400.4 81.2h0M251.1 279.7h0M445.6 469.2h0M248.7 267.4h0M483.5 156.2h0M481.7 150.3h0M509.1 179.2h0M341.5 346.1h0M526.4 271.6h0M547.7 374.8h0M414.7 469.6h0M267.9 249.1h0M410.7 470.1h0M391.2 465.8h0M533.8 234.8h0M264.1 253.2h0M425.5 472.4h0M253.5 280.4h0M505.6 132.5h0M457 89.8h0M247.5 276.4h0M271.1 243.1h0M340.3 453.8h0M517.3 189.6h0M505.9 449.3h0M506.9 130.9h0M343.8 357h0M491 458.2h0M529.5 203.4h0M438.9 471.1h0M399.7 81.9h0M527.8 270.2h0M505.4 121.1h0M535.7 354.5h0M543 419.2h0M427 472.6h0M461.8 466.6h0M481.7 97.9h0M526.1 272.1h0M296 192.1h0M279.9 284.1h0M394.7 465.9h0M418.9 80.3h0M544.4 415.5h0M532 213.3h0M413.5 79.4h0M253 280.4h0M412.4 109.1h0M320.2 174h0M460.8 88.4h0M268.7 249h0M366.5 462.5h0M283.4 283.1h0M400.2 105.3h0M504.2 174.3h0M466.6 463.4h0M375.5 134.6h0M328.3 169.7h0M493 456.6h0M412.1 130.1h0M366.7 463.7h0M533.8 349.2h0M424.2 470.5h0M321 173.3h0M354.4 458h0M268.4 222.4h0M339.2 157.4h0M258.3 281.8h0M338.9 360.7h0M354.9 147.1h0M532.9 246.7h0M344.3 154.8h0M370.3 463.7h0M491 163.6h0M482.2 99.5h0M482.9 144.9h0M538.9 359.7h0M411.6 110h0M549.6 379.9h0M528.1 437.7h0M353.2 150h0M527.7 276.7h0M344.5 356h0M316.8 310.9h0M432.6 470.4h0M401.3 103.9h0M428.4 84.7h0M314.2 309h0M406.8 107.8h0M509.7 449.2h0M533.3 226.1h0M289.9 284.7h0M455.6 468.5h0M550.4 404.9h0M401.8 468.9h0M496.4 137.3h0M370.8 139.6h0M285.9 282.7h0M269.7 219.4h0M395.6 87.7h0M484.3 99.9h0M379.9 135.7h0M347.5 457h0M507.8 122.4h0M250.5 265h0M289.6 283h0M524 295h0M526.9 330.2h0M413.7 470.2h0M323.6 330.5h0M514.8 446.2h0M404.6 104.8h0M331.3 165.3h0M525.9 325.8h0M525.7 285.5h0M526.1 285.6h0M455.8 467.1h0M498.1 170h0M253.4 278.8h0M339.2 158.2h0M347 151.3h0M541.8 366.1h0M315.8 306.9h0M495 457.5h0M381.3 134h0M363.6 459.8h0M554.1 392.9h0M541.3 421h0M541.6 363.3h0M447 85.7h0M421.2 81.1h0M525.6 315.1h0M544.4 367.5h0M330.7 165.3h0M495.4 107.4h0M417 79.4h0M266.5 229.3h0M510.4 126.8h0M526.9 331.8h0M525.6 436.4h0M480.8 462.5h0M502.9 133.6h0M524.9 439.3h0M493.9 138.9h0M331 335.7h0M325 169.4h0M499 136.8h0M269.2 221.3h0M315 305.5h0M363.1 461.8h0M268.7 221.6h0M352.8 458.5h0M457.4 87.5h0M504.6 134.5h0M525.6 286h0M415.7 123.3h0M507.6 177.2h0M535 353.2h0M459.7 88.6h0M527.8 203.8h0M397.3 84.2h0M463.6 465.8h0M430.6 472.1h0M258.7 259.3h0M483.1 152.7h0M285.4 284.3h0M404.8 469h0M415.8 110.6h0M535.3 229h0M380.8 464.4h0M501.5 172h0M510.4 182.7h0M503.2 453.8h0M317.3 174.9h0M317.9 318.8h0M490.4 458.1h0M269.1 221.8h0M530.8 343.3h0M329.3 167.7h0M309.1 293.4h0M343 355.4h0M467.4 90.3h0M528.9 205.3h0M446.6 471.9h0M313.2 301.2h0M507.1 178.4h0M300.3 289.4h0M529.5 335.8h0M545.7 371.3h0M525.8 326.3h0M296.7 194.9h0M324.2 172.7h0M553 391.4h0M270.7 246.6h0M272.3 244.8h0M530.2 206.8h0M363 462.3h0M303.9 185.1h0M530.5 435.2h0M553.5 390h0M525.5 304.1h0M256.4 259.7h0M288.6 197.5h0M462.9 467h0M525.7 271h0M456.4 467.8h0M257.2 260.7h0M499.3 110h0M402.5 129.9h0M290 283.4h0M270.5 283.1h0M534 224.2h0M292.2 283.8h0M504.3 452.8h0M318.4 319.2h0M543.8 371.9h0M464.1 465.7h0M503.1 453.7h0M497.1 109.8h0M457.1 89.6h0M384.3 132.2h0M432.2 469.5h0M245.8 273.7h0M409.3 469.5h0M497.8 170.4h0M536 235.1h0M404.2 80.7h0M493.9 109.5h0M403.3 129.2h0M407.5 107.6h0M513.5 447.8h0M538.1 357.8h0M310.2 179.4h0M316.5 176.3h0M270.7 245.3h0M258.3 258.8h0M412.5 79.5h0M364.2 142.1h0M533.4 348.3h0M482.4 154.3h0M311.8 299.5h0M245 272.9h0M270.7 217.6h0M399.6 104.5h0M434 470.1h0M311.9 370h0M477.2 462.6h0M491.1 104.7h0M481.3 151.4h0M549.3 375.6h0M328 366.6h0M456.7 88.3h0M404.6 80.3h0M518 191.1h0M504.6 173.8h0M302.7 187.6h0M315 313.9h0M532.1 243.4h0M525.8 287.6h0M299.4 287.3h0M480.2 97.5h0M386.4 467.1h0M260.6 258.3h0M281.5 201.1h0M243.9 273.5h0M243.8 271.7h0M344.6 356.1h0M546.3 372.1h0M530.8 251.3h0M447 468.8h0M362.9 460.4h0M531.1 254h0M376.5 465.7h0M417.3 80.3h0M534.3 231.9h0M379.9 463.6h0M415.2 200.9h0M501.5 189.4h0M417.4 292h0M416 132.5h0M416.6 456.9h0M507.1 452.9h0M523.4 343h0M484.4 322h0M499 218.1h0M388.7 403.7h0M474.8 392.5h0M330.4 205.5h0M504.7 362.7h0M310.5 213.1h0M495.1 166.1h0M434.5 226.6h0M311.4 192.9h0M505.3 445.8h0M506.7 414.1h0M412.2 196.5h0M543.1 385.6h0M456.4 205.1h0M275.7 206.3h0M345.2 163.7h0M333.5 258.5h0M348.8 274.5h0M271.5 273.9h0M529.8 225.9h0M446.1 409.8h0M520.7 231.2h0M343.6 307.4h0M379.7 322.6h0M380.5 326.2h0M454.3 264.9h0M348.2 275.7h0M325.5 279h0M272.8 266.6h0M547.1 403.4h0M517.7 421.2h0M397.5 363.3h0M388.1 224h0M310.4 226.8h0M398.4 390.4h0M495.8 439.2h0M445.1 319.4h0M483.2 385.9h0M330.6 316.8h0M522.8 429.8h0M486.1 390.1h0M326.9 199h0M418 255.8h0M413.9 443h0M390 134h0M399.9 403.5h0M502.5 324h0M459.2 368.7h0M339.8 232.2h0M434.5 149.9h0M320.8 219.5h0M456.6 179.3h0M361.9 349.5h0M503.7 181.4h0M352 314.3h0M293.4 276.7h0M433.2 384.1h0M341.7 242.2h0M330.1 322.4h0M499.1 264.2h0M304.5 265.2h0M373.2 236.6h0M457.1 357.3h0M474 411.9h0M364.7 410.6h0M379.9 403h0M443.8 178.3h0M424.6 122.1h0M433.1 370h0M276.6 236.1h0M327.8 177.5h0M394.6 362.7h0M418.3 304h0M493.5 393.5h0M354.8 209.9h0M458.9 234h0M483.4 381.3h0M524 274.4h0M409.4 417.5h0M538.7 355.8h0M513.2 404.5h0M475.9 161.8h0M268.7 222.1h0M315.2 274.4h0M441.4 182.5h0M479.9 148.5h0M503.4 281.5h0M368.6 435.7h0M463.1 334.1h0M316.6 260.1h0M480.5 246.2h0M356.1 223.8h0M454.7 258.5h0M524.8 419h0M500.6 209h0M407.1 390.4h0M401 326.6h0M446.1 182.9h0M278.1 223.9h0M399.3 180.3h0M444.1 247h0M487.6 331.6h0M451.6 150.4h0M501.2 420.1h0M520.1 313.2h0M389.2 333.3h0M371.6 357.1h0M503.7 303.9h0M375.8 192.7h0M424.6 211.8h0M429.5 354.1h0M384.6 446.8h0M442.7 221.9h0M412.7 373.8h0M481.4 331.3h0M350 236.4h0M376.3 262.1h0M406.5 271.8h0M321.1 321.3h0M435.9 264h0M482.9 238.2h0M510.9 424h0M492.8 299.8h0M357.6 168.9h0M385.7 452.4h0M511.5 316.9h0M367.1 457h0M407.7 231.9h0M516.8 280.8h0M401.7 254.6h0M502.9 275.7h0M325.4 293h0M445.1 445.7h0M375.1 153.7h0M484.3 312h0M316.7 197.9h0M363 143.6h0M393.6 134.3h0M404.1 164.2h0M320.5 199h0M494.9 370.1h0M480.7 360.7h0M408.7 397.5h0M444.7 110.1h0M323.3 261.5h0M512.8 223.8h0M403.5 427.8h0M367.9 419.1h0M439.6 222.9h0M524.7 401.5h0M514.1 448.5h0M415.2 339.7h0M492.1 270.8h0M429.5 450.5h0M347.9 197.9h0M433.6 117.9h0M342.8 320h0M500.7 191.5h0M507.3 445.3h0M472.6 149.5h0M292.5 219.6h0M527.6 430.4h0M485 259.2h0M509.8 219.8h0M446.7 107.6h0M345.9 210.2h0M360.6 224.9h0M449.9 173.8h0M405.3 139.2h0M496.1 244.8h0M385.7 155.2h0M410.5 94.9h0M497.9 392.1h0M323.5 303h0M391.3 332.4h0M420.1 250h0M449.1 115.3h0M479.2 108.2h0M402.5 380.9h0M357.6 200.7h0M357.4 345.7h0M449.3 172.8h0M341.7 219.1h0M344.5 285.5h0M467.5 327.4h0M474.9 266.6h0M327.5 200.3h0M453.3 307.3h0M417.2 440h0M309.9 182.5h0M465.9 309.9h0M367.8 409h0M446.9 124.3h0M377.7 314.4h0M460.7 297h0M523.9 200.6h0M406.4 398.1h0M488.9 236.2h0M467.9 219.8h0M279.2 206h0M369 187.7h0M301.9 259.7h0M328 280.5h0M330.2 188h0M282.8 211.9h0M321.7 237.7h0M435.8 90.2h0M350.7 447.2h0M407.5 139.6h0M461 225h0M445.5 430h0M444.8 452.2h0M478.3 105.4h0M419.4 436.4h0M513.5 348.1h0M396.3 441.6h0M365.5 405h0M530.3 220h0M390.1 265.7h0M316.2 223.6h0M435.9 329.5h0M371.8 226h0M463.3 382.5h0M512.9 314.2h0M433.6 341.5h0M350.1 381.4h0M502.5 349.9h0M457.9 148.6h0M476.3 110.7h0M430.3 141.3h0M433.8 183.4h0M357.3 251.5h0M435.1 167h0M356.6 302.2h0M416.1 435.8h0M514.8 261.1h0M461.2 460.7h0M467 248.1h0M489.1 339.5h0M352.4 184.5h0M479.6 115.5h0M406.4 400.5h0M329.4 266.6h0M411.1 403.7h0M375.2 450.9h0M406 454.6h0M504.5 401.8h0M445.9 429.9h0M396.5 220.4h0M392.8 369.4h0M342.3 187.1h0M370.6 388.9h0M391 145.3h0M459.1 231.2h0M506.4 232.1h0M486.6 371.1h0M426.6 112.8h0M526 409.9h0M347.2 327.5h0M519.2 213.7h0M362.2 439.8h0M457.3 385.6h0M469.4 460.5h0M451.1 465.9h0M371.6 316.8h0M490.3 129.7h0M344.8 363.4h0M408.3 436.5h0M326 194.9h0M387.3 219.1h0M513.9 233.1h0M373.3 402.2h0M389.9 414.6h0M453 245.3h0M335.1 312.2h0M357.2 178.5h0M323.5 324.8h0M532.6 412.3h0M403.5 434.3h0M360.1 370.8h0M434.6 411.2h0M513.2 414.2h0M399.9 351.9h0M415.5 146h0M317.2 207.3h0M413 301h0M517.7 446.6h0M367.7 416.2h0M379.5 399.4h0M483.8 449.5h0M428.1 288.2h0M492.2 127.1h0M463.4 461.5h0M465.2 308.6h0M517.3 317.6h0M337.1 217h0M476.9 406.9h0M474.3 433.8h0M279.7 223.4h0M293.3 284.9h0M512.7 423.8h0M544.2 405.2h0M431.3 466.5h0M424.5 150.7h0M301 243.3h0M377 359.3h0M367.6 432.4h0M364.8 463.9h0M532.9 404.2h0M441.8 109.3h0M412 334.9h0M412.7 366.6h0M443.6 442.3h0M529.4 396.1h0M474.8 296.4h0M474.7 389.1h0M386.1 417.9h0M521.8 396.6h0M337.6 377.3h0M387.8 274.1h0M366.3 236.7h0M520.2 252.6h0M272.3 264.4h0M395.1 336.7h0M490.6 168h0M395.2 220.3h0M348.6 158.5h0M528.8 345.9h0M445.5 448.7h0M495.2 221.3h0M446.8 471.9h0M453.4 378.1h0M385 349.7h0M534.3 385.8h0M351.5 454.5h0M436.7 268.3h0M425.7 193.3h0M348.4 277h0M375.1 429.3h0M472 200.9h0M355.3 365.4h0M444.9 461.7h0M365 234.4h0M508.9 397.7h0M404.7 414.9h0M336.1 260.4h0M437.6 150.1h0M353.7 206h0M409.5 432.8h0M434.1 355.8h0M357.8 289.4h0M331 385.9h0M475.7 374.6h0M285.9 264.5h0M371.1 459.8h0M500.2 377.6h0M377.7 431.7h0M429 391.6h0M384.3 391h0M450.1 303h0M399.1 406.5h0M477.9 243h0M461 456.8h0M432.2 444.9h0M362.8 305.2h0M409.5 218.9h0M410.6 406.7h0M512.7 354.5h0M480.4 178h0M397.6 320.5h0M349.8 379.4h0M508.9 338h0M514 400.7h0M436.9 387.5h0M529.3 362.1h0M381.5 156.2h0M475.6 251.3h0M436.1 456.7h0M485.4 268.7h0M399.2 452.8h0M491.5 297.5h0M346.1 445.3h0M336.4 321.5h0M467.6 241.3h0M437.4 294.2h0M453.5 163.5h0M526.5 381.8h0M274 260.8h0M453.4 437.2h0M362.1 150.4h0M442.1 386.5h0M381.9 424.4h0M424.2 177.4h0M437.6 364.2h0M319.5 303.6h0M494 355.8h0M394 404.6h0M388.2 234.6h0M404.1 422.9h0M361.2 172h0M491.6 440.5h0M319.2 238.8h0M422.9 337.7h0M365.7 408.1h0M410.8 293.4h0M380.1 138h0M422.7 439.1h0M420.7 265.3h0M464.3 419.5h0M456.6 270.5h0M470.2 265.4h0M410.5 407.2h0M465.2 434.8h0M509.3 130.4h0M490.7 379.7h0M413.9 234.7h0M504.6 447.5h0M490.9 416.4h0M531.3 236.1h0M392.5 466.5h0M365.9 420h0M390.5 366.5h0M393.9 295.7h0M524.4 391.9h0M504 338h0M417 412.6h0M337.4 335.9h0M525.5 226.6h0M440 414.9h0M438.7 394.7h0M515.2 442.1h0M354.7 423.9h0M319.1 377.2h0M448.3 344.2h0M414 91.3h0M547.5 372.9h0M349.9 428.8h0M475.7 146.8h0M486.9 336.9h0M350.4 234.8h0M396.5 287.1h0M256.2 282.1h0M440.7 397.3h0M505.5 316.1h0M416.4 186.7h0M395.2 342h0M428.4 184.2h0M368.2 205h0M371.2 464.9h0M422.9 299.5h0M339.3 401h0M329.2 291.7h0M428.1 260.7h0M418 347.8h0M532.2 232.8h0M387.3 405.1h0M407.7 324.7h0M380.5 171.9h0M461.5 361.4h0M495.3 270.5h0M366.5 361h0M268.8 270h0M410.4 305.7h0M480 390.2h0M517.8 380.7h0M465.2 317.5h0M441.3 383.9h0M475.2 415.9h0M423.6 447.4h0M455.2 288.8h0M348.1 395.2h0M344.6 409.8h0M450.8 447.8h0M552.5 393.6h0M424.7 428.9h0M96.9 288.2h0M100.8 291.2h0M98.3 290h0M109.8 295.9h0M119.1 299.6h0M122.1 307.7h0M123.1 316.3h0M125.6 317.1h0M133.5 312.8h0M127.9 309.8h0M168.4 320h0M182.1 322.4h0M141.4 312.8h0M155.4 315.8h0M180.1 323.1h0M107.9 281.4h0M121.5 317.7h0M285.5 139.9h0M283.2 139.6h0M285.6 140h0M282.6 136.8h0M304.8 159.7h0M300.2 158.7h0M304.4 160.7h0M297.9 150.5h0M298.9 149.8h0M295.7 153h0M302.1 162h0M304.9 160.7h0M299.2 151h0M299.4 154.6h0M294.2 148.6h0M303 154.3h0M306.9 158.2h0M298.5 160h0M311.2 160.9h0M312.4 161.3h0M333.7 122.9h0M382.3 104.7h0M391.4 100.4h0M389 100.4h0M402.9 110h0M405.2 112.6h0M234.1 269.9h0M301.5 294.3h0M313.6 314.7h0M311.6 308.6h0M302.2 297.7h0M309.2 304h0M317.9 321.6h0M256.2 287.2h0M309.6 319.8h0M312.9 313.5h0M252.1 281.1h0M266.6 287.7h0M275.8 292.3h0M251 284.1h0M268.6 285.8h0M297.2 301.6h0M309.4 302.6h0M297.9 298h0M309.9 311h0M304.1 296.2h0M315.4 332.3h0M306.4 309.8h0M305.6 300.4h0M315.8 316.2h0M319.9 329.3h0M309.5 307.1h0M534.3 334.2h0M528.8 282.5h0M530.6 282.3h0M535.6 253.2h0M527.8 282.9h0M537.9 348.8h0M542.4 363h0M529.6 266.7h0M539.5 356.9h0M532.8 257.5h0M529.2 331.1h0M400.8 119.3h0M402 111.6h0M495.6 166h0M505.6 167.5h0M512.6 181.4h0M503.2 137h0M396.7 165.7h0M402.3 155.6h0M401.5 157.6h0"/>
<path stroke="#673EF8" d="M533.6 241.7h0M316.5 314.6h0M297.6 389.2h0M320.4 442.6h0M303.9 376.4h0M324.1 447.1h0M302.1 380h0M313.7 440.2h0M301.5 382.6h0M296 388.4h0M295 396.8h0M293.8 398.6h0M327.6 448.1h0M305.2 378.1h0M321.9 442.9h0M293.4 412h0M541.5 364h0M296.6 388.7h0M307.7 373.2h0M316.8 441.8h0M295.4 191.4h0M394.9 87.1h0M329.1 448.3h0M297.4 386.9h0M322.8 444.2h0M308.3 434.2h0M302.8 379.9h0M312.2 370.4h0M320.2 442.9h0M273.1 214.2h0M320.1 443h0M323.9 445.5h0M527.2 328.6h0M299.8 385.4h0M342.2 454.3h0M310.7 373.3h0M306.5 434.7h0M318.5 368.2h0M299.2 385.6h0M304.8 377.8h0M553.5 391h0M313.6 438.6h0M317.3 440.9h0M333.8 450.1h0M266.9 248.3h0M510.8 447h0M296.2 397.2h0M310.6 372.2h0M299.3 385.2h0M299.3 385.7h0M549.6 409.4h0M513.7 446.3h0M401.1 81.4h0M338.1 360.6h0M490.5 458.4h0M306.4 375.3h0M306.1 376.3h0M298.6 387h0M315.7 369.7h0M292.8 409.6h0M552.3 403h0M304.2 430h0M322.9 445.2h0M324.4 445.5h0M341.3 455h0M338.8 453.4h0M318.9 443.1h0M327.8 447.6h0M359.6 461.4h0M319.6 442.9h0M309 373.9h0M300.4 428.8h0M310.9 436.5h0M293.6 399.5h0M326.9 446.2h0M299.4 386.3h0M302.8 380.5h0M333.4 449.8h0M302.1 381.7h0M525.9 199.3h0M295.3 391.3h0M328.8 445.8h0M318.9 440.3h0M304.5 185.8h0M314.2 442.1h0M340.3 453.7h0M321 442.5h0M315.7 369.5h0M300.1 385.1h0M331.7 365.8h0M291.5 193.6h0M300.4 384.7h0M301.6 427h0M318.1 442.6h0M345.3 457.2h0M295.3 417.9h0M311.4 437.4h0M316 441.1h0M293.8 416.8h0M316.4 442.3h0M310.5 373.6h0M296.7 390.3h0M304 430.9h0M297.9 423.9h0M339.9 453.5h0M319.8 444.5h0M299.6 383.6h0M309.7 371.8h0M295.2 419.4h0M297 388.9h0M316.1 441h0M500.5 134.5h0M325.4 368.9h0M332.3 450.8h0M302.5 428.2h0M327 447h0M338 452.9h0M293.4 400h0M304.8 380.8h0M306.7 433.9h0M378.7 136.6h0M321.6 443.4h0M310.4 371h0M310.8 436.6h0M292.5 414.1h0M297.3 392.6h0M304.5 396.2h0M416.4 299.5h0M367.8 330.9h0M335 408.3h0M518.5 224.7h0M385.1 387.8h0M370.7 278.8h0M332.3 414.9h0M378.8 228.4h0M484.2 352.1h0M333.4 369.9h0M326.6 419.8h0M347.1 421.4h0M488 107.1h0M371.4 401.5h0M499.1 178.9h0M413.5 130.3h0M320.7 381.7h0M447 259.6h0M365.5 391.9h0M410.5 186.3h0M325.3 433.8h0M293.2 400.5h0M297.7 401.4h0M457.3 381.6h0M472.5 306.8h0M334.6 318.1h0M352.6 254.6h0M460.2 430.7h0M365.1 147.3h0M336 328.5h0M467.8 172.4h0M444.6 468.6h0M433.7 178h0M289.4 217.2h0M321.4 285.8h0M408.9 277.1h0M512 302.4h0M335.3 385.9h0M463.3 443h0M488.5 381.4h0M306.9 400.6h0M329.5 397h0M505.2 132.7h0M358 235.1h0M384.7 155h0M337 299.8h0M451.7 203.9h0M368 260.6h0M339.4 392.9h0M330.2 411.4h0M530.5 221h0M309.6 436.5h0M454.8 280.3h0M540.9 382.2h0M453.9 218h0M327.5 420.6h0M435.6 189.2h0M315.1 397.3h0M436.2 214.6h0M344 335.2h0M361.9 308.7h0M352.5 241.5h0M352.1 222.5h0M362.8 362.3h0M316 434.4h0M304.7 391.7h0M288.6 268.9h0M329.4 411.4h0M331.5 405.7h0M329 413.1h0M291.6 209.6h0M385.2 458.2h0M490.5 163h0M359.6 213.4h0M400.3 185.9h0M388.4 203.5h0M320.8 438.6h0M461.8 352.9h0M316.8 397h0M344.4 409.8h0M364.4 324.7h0M522.3 364.9h0M93.7 287.5h0M100.1 290.4h0M95.1 287.4h0M98.5 289.4h0M102.8 290.2h0M99.6 287.8h0M103.6 292h0M105.7 293.8h0M117.7 300.4h0M136.3 308.8h0M128.8 316h0M131.8 310.3h0M111.6 325.4h0M121.8 318.1h0M113.3 323.4h0M115.2 321.8h0M126.3 316.5h0M123.1 317.7h0M114.6 321.5h0M113.1 325.5h0M177.4 322.1h0M144.9 313.7h0M175.2 321.7h0M176 321.3h0M165 317.8h0M175.9 321.7h0M177.1 321.8h0M174 321.6h0M157.7 316.7h0M293.9 149.6h0M335 122h0M238.1 253h0M231.7 254.4h0M234.7 273.3h0M234.1 271.8h0M236.6 272.2h0M234.6 265.7h0M236.8 273.7h0M264.6 288.6h0M303.5 293.6h0M311.9 306.1h0M283.1 286.7h0M288.9 293.4h0M321 329.7h0M312.1 305.5h0M321.4 359.4h0M321.3 362.8h0M335.4 353.2h0M319.8 347h0M320.4 364.8h0M315.3 346.3h0M325.3 350.3h0M321.8 365.1h0M317.4 362.7h0M313.7 365.1h0M305.8 365h0M314.9 368h0M324.1 356.6h0M314.1 360.2h0M315.1 359.9h0M316.8 356.3h0M324.3 366.6h0M313.4 361.8h0M526.7 323.5h0M533.8 259.3h0M411.2 122.3h0M411.6 123.9h0M397.9 111.8h0M403.1 118.3h0M406.1 109.5h0M488.5 155.4h0M501.2 136.8h0M498.4 140.7h0M484.5 125.4h0M483.7 136.4h0"/>
<path stroke="#936AEF" d="M539.2 425h0M506.2 121.1h0M246.4 271.4h0M492.6 140.8h0M515.6 191.1h0M398 467.6h0M395 84.7h0M281.6 204.2h0M528.5 436.7h0M416 123.4h0M271.1 237.2h0M395.7 93.6h0M287.1 198.8h0M503.8 451.8h0M542.3 367h0M254.9 278.7h0M500.9 114.4h0M296.7 192.2h0M477.6 95.2h0M458.7 468.5h0M254.5 280.6h0M417.2 116.9h0M422.2 469.9h0M491.6 140.9h0M529.4 254.6h0M290.1 196h0M305 184.8h0M534.7 220.2h0M411.8 469.4h0M493.7 458.4h0M529.8 204.3h0M500.2 172.9h0M330.6 166.8h0M365.9 462.7h0M267.4 227.8h0M529.5 256.7h0M329.9 167.6h0M492 105.9h0M421.7 470.7h0M491.2 102.3h0M541.3 365.2h0M321.8 326.6h0M465.6 89.5h0M525.7 198.9h0M552.8 387.3h0M414.3 129.3h0M437.8 88.4h0M487 160.6h0M398.9 128.8h0M346.5 353.5h0M327.5 334h0M330.5 167.6h0M323.5 330h0M525.8 440.3h0M543.5 417.2h0M515.6 186.5h0M509.5 125.4h0M417.2 109.9h0M550.7 382.6h0M264.4 281.3h0M363.5 145h0M529 257.6h0M310.8 180.2h0M317.7 323.1h0M509.1 177h0M268.2 232.1h0M503.6 132.9h0M525.9 325.3h0M527.9 265.2h0M288.4 284.5h0M438 472h0M464.1 91.2h0M499.1 168.6h0M534.5 240.4h0M527.3 264.6h0M446.4 470.7h0M524.5 311.1h0M318.6 174.2h0M403.5 79.9h0M378.7 135.5h0M324.6 329.7h0M524.4 313.7h0M391.6 130.9h0M263.2 282.6h0M316.2 174.2h0M396.4 467.6h0M271.3 220.5h0M268.6 222.9h0M245.3 275.9h0M262.6 255.9h0M388.3 468.1h0M515.1 445.6h0M380 134.6h0M316.6 316.6h0M339.7 342.1h0M286.2 199.2h0M351.5 150.1h0M449.8 88.3h0M440 87.7h0M544.3 419.5h0M249.6 268.9h0M535.5 429.7h0M541.5 364.5h0M526.4 281.6h0M396.9 467.8h0M346.3 352.2h0M513.2 184h0M492.2 458.6h0M465.3 466.5h0M549.7 379.9h0M266.2 227.3h0M315.4 304.8h0M307.6 371.5h0M494 456.4h0M383.9 466.7h0M324.1 328.9h0M531.7 248.5h0M540.2 358.4h0M362.8 460.7h0M312.1 301.1h0M378.8 135.7h0M531.1 246.2h0M530.3 251.2h0M341.7 359.5h0M276.3 281.6h0M378.1 465.1h0M307 184.9h0M304.2 186.2h0M272.4 216.7h0M308.3 294.2h0M267.2 227.8h0M275.8 206.3h0M532.6 433.1h0M521.4 193.5h0M509.5 180.2h0M310.6 182.2h0M318 319.3h0M537 355h0M312.1 178.6h0M522.8 195.6h0M325.1 170.5h0M493.5 167.7h0M529 255.5h0M547.2 414.3h0M524.8 286.5h0M264.9 252.6h0M317.4 321.6h0M295.6 283.9h0M271.9 215.3h0M379.8 135.5h0M510.8 451.2h0M394.5 96.6h0M372.1 138.8h0M477.6 462.3h0M481.9 461h0M503.9 453.2h0M496.3 456.8h0M380.6 465.4h0M520.7 194.1h0M307.1 183.5h0M449.1 469.3h0M293.8 284.1h0M466.6 463.5h0M481.4 98.3h0M494.8 108.6h0M375.3 136.4h0M326 169.1h0M321.6 327.2h0M302.6 186.7h0M310.3 294.7h0M253.6 263.3h0M274.8 283.4h0M528 268.2h0M487.5 102.2h0M321.9 326.5h0M271.4 283.5h0M468.3 92.1h0M524.8 323.4h0M360.9 462.1h0M339.7 158.9h0M472.9 463.7h0M399.1 82.8h0M459.5 89.7h0M462.8 90.4h0M302.6 188.2h0M247.9 278.3h0M527 260.3h0M531.5 342h0M316 310h0M414.6 121.2h0M271.9 284.1h0M425.6 83.5h0M401 82.4h0M337.3 341.8h0M395.2 94.7h0M343.7 345.4h0M264.9 253.2h0M504.1 122.1h0M413.6 111.9h0M502.6 114.4h0M344.9 348.6h0M343.4 344.9h0M533.3 216.5h0M542 367.2h0M416.3 469.1h0M508 127.8h0M415.7 80.6h0M268.4 247h0M345.9 153.1h0M405.1 130.3h0M400.8 81.9h0M490.8 456.3h0M406.5 468.1h0M448.8 88.1h0M401.2 104.9h0M272 240.3h0M397.2 466.1h0M437.9 87.1h0M348.9 457.4h0M311.7 298.4h0M523.8 313.2h0M479.5 96.7h0M528.8 203.2h0M375.9 135.3h0M538.2 427.4h0M547.7 374.2h0M268.1 251.8h0M486.7 142.8h0M419.1 471h0M269.5 248.9h0M315.7 176.1h0M299.6 188.6h0M270.1 233.2h0M320.7 325.5h0M398.8 468.6h0M257.2 260.7h0M356.7 146.1h0M530.5 206.2h0M470.7 465.2h0M445.3 470.4h0M541.1 419.6h0M328.7 167.7h0M400.3 83.7h0M525.3 313.1h0M549.9 410.1h0M492 140.7h0M349.1 455.5h0M326 332.2h0M518.7 445.9h0M396.2 96.4h0M436.8 87.4h0M534.7 238.9h0M409.4 468.4h0M454.9 470.2h0M408.9 79.8h0M390.6 130.7h0M525.3 319.2h0M473.5 93.7h0M355.7 146.3h0M345.3 455.9h0M499.8 136.3h0M396.1 130.1h0M344.9 351.8h0M433.5 85.3h0M510.4 180h0M380.8 135.3h0M316.8 175.1h0M390 466.7h0M549.1 408.6h0M490.8 103.6h0M533 209.9h0M363.4 462.4h0M381.5 466.1h0M402.1 81.6h0M463.7 467.9h0M359.1 146.4h0M467.8 90.6h0M388 133.6h0M305.4 185.4h0M453.3 87.6h0M310.1 294h0M395.9 101h0M524 296h0M391.9 467.7h0M553.3 388.2h0M250.9 280.4h0M319.4 175.5h0M463.8 92.1h0M451.5 468.6h0M369.3 138.9h0M270.3 219.2h0M421.2 470.6h0M528.9 434.2h0M383.6 465.4h0M257.8 281.4h0M315.1 306h0M303.1 186.5h0M430.4 87h0M285.4 282.2h0M403.3 468.8h0M269 249.9h0M386.2 134.1h0M528.1 201.4h0M553.4 387.2h0M347.4 457.2h0M507.4 130.8h0M332.2 335.8h0M377.1 464.9h0M547.1 410.9h0M524.1 441.4h0M251.4 266.5h0M551.9 388.9h0M533.9 223.2h0M525.8 279h0M307.6 182.5h0M313.3 305h0M518.8 191.1h0M524.9 286.5h0M249.2 267.2h0M532 342.4h0M248.3 277.7h0M353.5 149.5h0M533.2 210.4h0M456.8 88h0M286.9 201.1h0M381.1 465.7h0M538.1 361.2h0M408.5 80.2h0M357.4 146.4h0M330.9 366.5h0M399.6 467h0M319.1 323.6h0M246.2 273.5h0M438.6 472.4h0M524.3 312.1h0M296 193h0M459.8 467h0M341.2 158.2h0M552.2 394.1h0M398.7 103.3h0M533.2 235.6h0M265.2 282.2h0M487.5 162.5h0M314 306.4h0M532.3 247.6h0M306.3 293.3h0M416.6 120.2h0M315.4 311.8h0M532.5 207.5h0M545.6 416.2h0M482 148.2h0M343.5 355.9h0M380 135.7h0M547.2 411.5h0M536.6 352.9h0M268.3 232.9h0M521.4 193.5h0M339.2 159h0M528.6 202.8h0M316.8 312.9h0M498.8 170.6h0M367.9 462.5h0M346.5 456.8h0M428.9 85.1h0M393.4 93.3h0M301 287.7h0M505.3 122.9h0M247.7 267.9h0M494.4 139.8h0M408.9 469h0M269.8 244.8h0M408.8 469.7h0M340.6 454.2h0M525.1 321.8h0M491.3 165.6h0M526.4 199h0M525.8 311.6h0M322.6 173.1h0M527.2 277.1h0M530.9 241.6h0M313.2 178.4h0M502.9 173.5h0M263.1 282.8h0M524.7 310.6h0M265.4 281.1h0M400.2 103.1h0M416.1 82.6h0M468.8 90.8h0M275.8 208.9h0M291.7 283.6h0M501.1 172.5h0M527.2 333.9h0M503.7 171.8h0M388.4 467.1h0M286.4 283.8h0M535 233h0M322.7 328.8h0M448.2 89.3h0M352 150h0M437 86h0M335 339.8h0M499.8 171h0M336.7 339.4h0M493.9 166.5h0M475.4 95.3h0M485.6 144.1h0M549.2 380.2h0M320.9 323.8h0M506.5 176.9h0M462.1 465.9h0M255.1 284.2h0M379.6 465.1h0M456.8 88h0M404.6 105.7h0M311.7 305.6h0M507.1 179.9h0M524.8 292h0M342.3 345.9h0M505.3 122.9h0M513.2 183.4h0M492 140.7h0M246.3 276.3h0M341.7 343.7h0M333.2 162h0M529.4 254.6h0M477.9 461.5h0M309.7 295.1h0M321.4 367.6h0M464 465.5h0M416.2 469.7h0M526.9 260.8h0M354.2 147.8h0M482.2 460.3h0M380.2 135.1h0M315.6 309.6h0M415.6 122.8h0M377.4 463.3h0M499.5 135.6h0M526.9 280.1h0M533.5 241.7h0M489.7 103.3h0M275.1 207.5h0M270.1 219.7h0M387.1 466.1h0M279.3 204.7h0M555.5 395.5h0M504.8 121.5h0M534 227h0M406.1 107h0M525.2 301.6h0M472.8 463.3h0M544.8 414.5h0M533.8 214.8h0M322.9 329.8h0M261.4 256.9h0M533.9 224.2h0M393.8 93.7h0M524.3 293.5h0M392.7 465.5h0M525.7 305.6h0M537.1 427.1h0M496.8 167.6h0M525.7 280h0M431.1 471.4h0M340.5 342.6h0M550.5 383.7h0M355.4 148.9h0M526 274.5h0M478.1 94.3h0M524.8 315.2h0M343.6 353.3h0M316.6 174.7h0M532 211.3h0M299.2 188.9h0M486.8 459.8h0M529.6 258.3h0M346.8 154.3h0M531.4 244.3h0M496.6 111.5h0M286.2 199.2h0M528.8 335.5h0M401 467.6h0M530.9 243.6h0M517.7 443.5h0M314.2 307.4h0M275 212.3h0M446.7 88.7h0M250.1 267.3h0M424.8 82.8h0M483.7 461.5h0M508.3 123.2h0M337.7 161.2h0M484.1 160h0M535.5 355.2h0M400.8 83.6h0M372.6 136.6h0M530.8 245.1h0M283.9 282h0M397.7 100.4h0M435 470.1h0M344.9 349.8h0M485.4 160.1h0M553.2 396.7h0M274.2 212.5h0M271.3 217.4h0M513.8 183.5h0M523.8 319.4h0M504.7 177.4h0M506.5 121.4h0M413.5 110.6h0M248.8 270.1h0M306.1 184.6h0M525.8 330.5h0M524.9 313.2h0M312.3 180.4h0M482.6 153.7h0M539.5 358.2h0M533.7 241.7h0M470.8 92.5h0M255.4 281h0M490 143.2h0M493.3 138.9h0M342.7 156.8h0M550.9 407.2h0M304.5 186.6h0M507.6 177.9h0M541 364.8h0M528.3 339.4h0M478.3 461h0M547.9 375.2h0M486.2 100.6h0M501.8 136.6h0M428.1 471h0M507.2 127.5h0M525.9 281h0M417.3 124.6h0M489.3 102.3h0M292.4 285.1h0M269 282.5h0M248.9 268.8h0M308.9 295.8h0M525.5 198.5h0M275.3 282.4h0M398.5 101.6h0M435.5 89h0M483.5 154.6h0M508.7 449.3h0M259.3 281.4h0M546 373.4h0M283.4 283.7h0M329.8 166.6h0M526.6 324.1h0M541.3 421.6h0M493.2 106.1h0M541.3 420.4h0M548 376.3h0M263.1 282.9h0M485.7 160.6h0M503.9 132.5h0M443.5 86.7h0M536.9 428.2h0M530.1 255.8h0M269.5 222.4h0M532.9 244.1h0M296.5 285h0M270.8 236.8h0M401.5 129.9h0M247.6 278.7h0M350.5 458.8h0M382.2 464.8h0M362.1 461.8h0M338.3 341.4h0M271.9 283.7h0M416.3 469.1h0M332 166.2h0M321 325.9h0M528 332.6h0M545 370.6h0M551.6 381.1h0M363.1 144.2h0M259.1 259.8h0M507 177h0M521 441.4h0M533.6 225.1h0M526 319.1h0M256.8 261.1h0M270.2 245.7h0M534 351.4h0M261.7 255.8h0M494.9 108.5h0M470.6 464.9h0M379.2 464.7h0M267.6 225.9h0M492.4 141.4h0M490.7 457.6h0M378.1 135.4h0M523.5 195h0M409.9 110.5h0M518 189.8h0M446.9 86.6h0M344.5 353.9h0M537 426.4h0M393.4 89.3h0M534.2 234.4h0M482.5 151.6h0M269.3 246.9h0M265.7 282.1h0M385.1 465.8h0M291.9 284.9h0M466.9 464.5h0M414.1 128.1h0M370.3 139.6h0M504.7 175.2h0M526.9 325.6h0M299.1 190.3h0M393.2 465.3h0M309.9 369.4h0M277.3 205.8h0M473.2 94.4h0M402.7 107h0M439 471.9h0M541.5 365.1h0M395.9 86.7h0M316.6 368.8h0M482.7 147.1h0M397.6 98.8h0M363 462.1h0M320.5 173.5h0M547.2 376.2h0M330.1 336.4h0M331.6 165.7h0M525.6 308.1h0M267.3 250.6h0M523.1 314.8h0M510.3 449.2h0M256.4 281h0M302.7 377.9h0M547.2 410.9h0M271.5 215.2h0M410.8 469h0M301 288.6h0M355.1 148.3h0M535.1 235.9h0M346.8 352.8h0M505 174.9h0M410.2 128.3h0M546.2 369.9h0M397.8 102.1h0M296.1 286.8h0M452.9 87.2h0M523.2 441.2h0M307.8 295.3h0M397.9 83.5h0M365.8 463.4h0M501.7 115.1h0M512.7 181.9h0M248.8 268.2h0M495.4 108.1h0M321.9 325.4h0M408 108.8h0M471.7 92.8h0M395.2 130.6h0M533.5 348.8h0M524.2 297h0M300 287.3h0M497.8 135.7h0M341.9 160h0M334.5 360.8h0M490.5 103.9h0M416.9 122h0M491.8 103.2h0M416.2 125h0M404 105.8h0M358.4 147.1h0M495.9 138.3h0M311.3 369.8h0M340.1 342.4h0M494 167.1h0M253 263.3h0M246.9 270.4h0M293.5 284.9h0M307.3 374.1h0M303.3 186.8h0M528.8 204.9h0M537 356.1h0M291.8 283.1h0M531.8 250.6h0M507.8 133.8h0M259.2 259h0M399.1 102.3h0M542.9 366.6h0M279.2 203h0M269 224.2h0M496.9 169.1h0M550 409h0M334.3 341.5h0M493 456.7h0M498.3 112.6h0M365.4 462.5h0M525.2 315.7h0M517.7 189.3h0M528.2 203h0M523.6 440.9h0M329.4 447.8h0M345.3 153.2h0M267.6 227.8h0M306.3 182.6h0M456.3 87.8h0M476.9 463.4h0M551.8 403.3h0M332.2 336.7h0M271 217.2h0M329.2 167.5h0M331.6 364.5h0M432.1 86.8h0M527.9 267.2h0M266.9 232.3h0M246.7 277.7h0M497 109.3h0M535.3 351.9h0M266.7 225.8h0M413.3 469.5h0M533.9 211.8h0M415.8 127.4h0M348.2 455.2h0M414.1 470.8h0M348.2 152.3h0M422.3 469.2h0M397.5 467.3h0M267.2 225.4h0M295.2 284.9h0M296 191.4h0M549.8 404.7h0M318.4 175.7h0M527.4 200.7h0M499.3 136.3h0M265.2 282.3h0M524.3 315.7h0M405.2 129.5h0M484 97.9h0M304 184.5h0M507.3 122.1h0M526.5 438.9h0M267.1 282.9h0M531.4 240.2h0M512.5 448h0M508.6 178.2h0M518.6 443.9h0M532.1 248.1h0M270.4 247.6h0M406.3 78.8h0M404.4 109.1h0M425.4 83.9h0M526 282h0M491.8 166.6h0M425.9 82.9h0M553.1 387.7h0M255.3 262.3h0M492.7 106.6h0M341 340.6h0M316.6 315.1h0M279.1 203h0M298.1 286.3h0M353 459.3h0M510 181h0M501.3 135.8h0M417.8 80.2h0M528.8 337.6h0M316.8 176.8h0M521.2 443.3h0M270.9 242.5h0M316.4 315.1h0M520.1 442.8h0M530.1 253.2h0M273.8 211.3h0M303.7 186.4h0M531.1 208.1h0M550.6 386.1h0M513.4 183.2h0M528.7 434.7h0M363.2 145.5h0M276.8 283.7h0M418.1 114.5h0M341.8 356.3h0M313.9 304.3h0M526.3 326.7h0M338.4 159.6h0M253.9 280.7h0M310.4 296.7h0M414.2 469.9h0M353.2 149.1h0M322.2 327.3h0M410.2 128.6h0M344 155.8h0M530.8 346.1h0M340.5 344.9h0M364.9 460.4h0M488.4 460h0M492.2 107.9h0M282 202h0M284.9 282.9h0M519.7 443.1h0M251.6 281.6h0M496.9 109.4h0M462.2 88.8h0M338.5 361h0M503.9 133.4h0M271.2 217.4h0M415.4 125.4h0M486.1 457.9h0M491.5 456.8h0M497.2 137.7h0M385.5 463.3h0M324.5 367.4h0M455.9 467.8h0M367.6 461.7h0M267.2 227.3h0M354.9 458.2h0M340.7 359h0M474.6 464.2h0M553.4 398.7h0M258.9 281.2h0M448.2 469.9h0M486.5 162.9h0M498.4 455.5h0M417.6 119.6h0M520.1 442h0M292.3 196.6h0M348.3 151.4h0M527.6 334.3h0M279.9 283.1h0M538.2 426.2h0M480.7 462h0M394.9 134h0M460.6 89.5h0M412.7 109.8h0M469.4 464.4h0M393.5 94.4h0M408.3 78.6h0M247.6 279.5h0M336.6 161.5h0M392.4 467.4h0M266.2 253.6h0M546.1 414.2h0M364.2 143.2h0M301.1 289.2h0M550.5 401.8h0M431.6 470.5h0M529 254h0M308.2 294.3h0M266.1 282.7h0M479.7 462.2h0M544.3 369.3h0M432.6 471.9h0M476.2 93.5h0M335.7 340.6h0M246.8 278.9h0M251.3 267.2h0M457 468h0M268 249.8h0M304.7 186h0M300.1 186.8h0M497.9 455.5h0M523.5 440h0M270.9 247.3h0M401.1 102.2h0M275.2 280.2h0M312 303.9h0M337.1 452.4h0M536.4 353h0M331.7 334.5h0M549.9 379.3h0M407.8 107h0M470.6 91.5h0M315.9 311.6h0M403.3 469.4h0M529.1 339.1h0M259.2 260.8h0M317 318h0M524.4 294h0M377.7 135.6h0M311.1 297.5h0M393 466.7h0M395.8 129.1h0M279.3 203.3h0M526.1 272h0M269.9 217.8h0M440.4 471h0M450.4 467.8h0M374.8 137.5h0M291 284.1h0M323.7 172h0M347.3 456.1h0M279.4 281.7h0M403.8 105.3h0M484 461h0M306 292.7h0M532.3 349.4h0M479.1 462h0M278.9 282.4h0M245.8 270.1h0M426.7 470.2h0M498.4 170.4h0M502.6 173.8h0M533.7 219.4h0M360.6 461.6h0M470.3 91.1h0M511.8 183.3h0M383.8 463.9h0M493.4 137.9h0M359.5 461.9h0M386.3 132.4h0M378.6 465.1h0M316.3 313.1h0M247.2 276.2h0M319 173.9h0M507 122.3h0M265.3 281.7h0M544.3 369.3h0M273.3 212.6h0M483.9 157.2h0M308 181.5h0M356.1 147.1h0M534.4 217.2h0M319.9 174.5h0M353.5 461h0M365.7 142.7h0M490.8 141.6h0M472.1 464.7h0M357.5 146.6h0M359.2 145.4h0M396.4 92.4h0M392.9 93h0M326.4 168.7h0M530.4 252.8h0M368.3 140.2h0M288.8 197.8h0M495.1 168.2h0M300.2 288.8h0M274.3 282.8h0M268.3 238.3h0M535.9 223.5h0M415.7 122.3h0M383.1 133.5h0M452.7 466.7h0M269.7 222.9h0M291.8 283.4h0M478.5 95.7h0M459.3 90.9h0M366.9 463h0M416.8 120.6h0M554.6 398.4h0M292.3 285.4h0M348.8 457.8h0M357.3 147.3h0M472.8 91.5h0M549.5 407.1h0M319.1 322.5h0M306.8 184.7h0M315.4 307h0M519.7 190.3h0M266.9 233.9h0M415.2 470.2h0M271.3 240.3h0M247.9 277.2h0M453.4 87.1h0M377.7 135.6h0M543.3 418.2h0M525.3 322.8h0M457.8 467h0M504.2 133.9h0M543.9 366.6h0M475.1 93.6h0M455.8 88.2h0M500.7 453.4h0M530 341.5h0M525.2 321.8h0M492.9 457.6h0M548.9 408.5h0M535.8 235h0M484.1 158.3h0M401.7 106.7h0M368.8 463.3h0M437.5 472.4h0M341.4 360.7h0M432.1 84.8h0M537.1 358.3h0M544.4 416h0M248 277h0M533 242.6h0M499.6 135.9h0M301.4 287.2h0M526.7 202.9h0M411 110.3h0M490.2 141.6h0M544.2 368.2h0M480.9 461.2h0M554.8 385.8h0M316.5 310.4h0M419.2 470.2h0M393.1 130.5h0M269.9 240.9h0M526.6 327.2h0M530.6 248.2h0M308.9 295.1h0M249.6 279.6h0M368.6 138.7h0M442.5 85.8h0M251 262.6h0M420.2 470.5h0M271.4 284.5h0M333 339.1h0M454 468.2h0M415.7 124.9h0M522.5 191.9h0M525.2 307.6h0M554.2 399.9h0M268.5 219.9h0M481.9 150.4h0M526.8 276.1h0M528.1 331h0M276.5 205.1h0M552 403.9h0M519.2 444h0M248.9 280.3h0M553 399.6h0M527.5 256.7h0M547.7 412.9h0M488.1 459.2h0M536.3 427.2h0M329.1 367.9h0M503.7 176.3h0M250.8 266.6h0M534.2 235.3h0M366.8 461.1h0M315.1 309.8h0M532.3 343.3h0M533.9 344.8h0M297.5 286.3h0M388.7 131.9h0M546.5 370.3h0M344.2 355.7h0M323 330.4h0M532.3 205.3h0M331.8 336.4h0M317.9 175.9h0M507.6 124.3h0M308.9 180.3h0M377.1 135.4h0M549.6 376.6h0M319.5 323.9h0M281.3 202.8h0M274.7 209h0M272.3 243.5h0M282.2 202.4h0M498.5 169.4h0M393.4 93.9h0M259.4 281.3h0M528.3 201.2h0M397.9 83.5h0M523.6 312.7h0M504.6 176h0M511.5 322.7h0M443.7 373.2h0M450 457.4h0M406.7 365.8h0M376.6 165.4h0M528 234.8h0M338.5 180h0M358.8 227.5h0M458.7 424.2h0M457.4 441.8h0M432.8 131.7h0M399.1 431h0M353.6 346.3h0M352.3 305.1h0M434.4 207.1h0M483.9 217.4h0M486 236.3h0M354.3 200.7h0M380.7 220.2h0M502.6 332.6h0M438.7 455.8h0M352.1 336h0M504.1 331h0M337.2 234h0M382.9 426.1h0M471.6 358.9h0M463.2 208h0M378.5 155.8h0M460.1 142h0M323.6 181.6h0M431 382.1h0M432.9 252.9h0M477.4 447.9h0M385.5 165.8h0M383.7 419.5h0M388.5 145.2h0M468.5 161h0M467.2 244.7h0M393.1 445h0M426.9 194.1h0M435.9 265.8h0M491.7 200.8h0M412.4 172.5h0M446.2 147.7h0M500 330.9h0M362.4 184h0M304.9 246.9h0M429.2 405h0M397.8 188.6h0M526.9 205.7h0M315.3 288.5h0M407.4 470h0M360.6 243.3h0M389.4 441.1h0M441.1 213.9h0M305.6 199.1h0M387.1 448h0M483.1 390.3h0M468.5 315.2h0M434.2 391.1h0M493.4 168.3h0M483.3 248h0M464.6 244.1h0M433.5 184h0M527.8 213.2h0M413.8 397.7h0M399.5 319h0M468.6 119h0M358.1 196.7h0M332.8 259.8h0M395.6 229.1h0M416.6 93.7h0M419.9 229.6h0M542.7 414.6h0M529.3 358.1h0M505.6 302.7h0M401.6 235.9h0M419.5 100.8h0M422.2 223h0M423.4 230.6h0M482.6 204h0M485.9 374.2h0M344.5 299.6h0M288.5 272.4h0M285.2 256.9h0M296.3 281.1h0M304.4 280.8h0M425.7 412.1h0M510.1 359.3h0M396.9 445.8h0M359.1 274.4h0M436.7 139.3h0M480.3 339.4h0M425.9 230.4h0M445.8 241.5h0M479.2 310.9h0M393.3 352.6h0M361.1 397h0M377.6 242.2h0M400.2 463.6h0M431.2 217.5h0M329.2 230.7h0M412.4 110.4h0M298.3 264.5h0M411.9 334.4h0M464.9 158.3h0M413.7 445.7h0M400.9 377.2h0M457.6 171.2h0M462 244.8h0M483.1 445.5h0M357.4 430.4h0M510.3 264.4h0M279.6 212.5h0M467.6 110.9h0M407.2 206.2h0M380.3 211.8h0M476.3 326.5h0M330.9 366.9h0M479.1 161.1h0M444 188.3h0M317 183.6h0M448.2 220.3h0M394.2 433.5h0M356.2 271.1h0M352.7 187.2h0M514.2 368.6h0M538.2 413.6h0M406.3 291.7h0M349.2 246.5h0M462.1 373.5h0M416.2 375h0M524.9 307.1h0M453.9 206.9h0M489.3 183.6h0M396.6 302.3h0M341.4 371.7h0M472.8 213.9h0M486 450.9h0M440.8 417.3h0M469.7 376.7h0M316.5 263.5h0M470.1 373.3h0M450.8 442.8h0M269.5 260.9h0M490.8 404.9h0M502 413.1h0M434.9 346h0M409.7 456.1h0M497.3 239.7h0M454.7 353.6h0M278.5 217.9h0M298.8 229.5h0M449.5 417.2h0M499.4 175.7h0M408.5 80.9h0M446.6 111.5h0M356.4 194.5h0M499.9 416.7h0M531.3 378.6h0M451.7 261.6h0M339.3 281.3h0M336.5 382.4h0M426.6 282.4h0M392.2 225.5h0M351.2 187.4h0M331.6 284.8h0M420 332.5h0M452.1 255.9h0M496.7 432.5h0M455.9 443.6h0M534.3 370.2h0M427.8 420.5h0M357.9 450.6h0M445.8 404.7h0M342.6 338.9h0M482.8 149h0M536.4 385.3h0M479.8 438.6h0M429.7 450.1h0M402.4 356.1h0M515.2 217.4h0M478.8 352.1h0M413.3 233.4h0M490.9 299.9h0M439.7 118.1h0M415 310.2h0M409.2 267.2h0M494.6 354.8h0M415.7 275.3h0M358.8 356.8h0M491.4 451.4h0M444.7 452.9h0M442 330.6h0M445.8 372.1h0M409.2 196.6h0M374 148.3h0M413.7 297.6h0M503.4 410.8h0M481 346h0M400.5 422h0M344.3 338.3h0M438 382.2h0M464 369.1h0M458.4 425.4h0M409.2 309.8h0M490.1 441h0M485.5 265.6h0M413.3 155.6h0M396.9 196.4h0M392.2 259.5h0M415.1 214.6h0M515.1 424h0M504 395.5h0M392.4 449.4h0M393.1 242h0M513 330.9h0M285 272.6h0M408.4 199.8h0M401.7 378.3h0M512.8 212.1h0M470.6 167.6h0M398.9 277.3h0M479.6 260.2h0M379.8 297.8h0M406.7 203.9h0M484.5 425.9h0M411.3 402.8h0M366.3 382.7h0M451.1 97h0M528 212.2h0M421.2 421.8h0M535.6 351.2h0M471.4 197h0M397.2 407.4h0M320.5 177.7h0M398.2 132h0M503.5 428.2h0M449.3 360h0M319.9 185.2h0M357 184.1h0M505.9 295.6h0M526.6 288.4h0M416.6 287.8h0M435.9 134h0M363.5 241.9h0M380.3 382.2h0M388.6 400.9h0M372.1 439.2h0M497.8 415.4h0M288.3 247.9h0M496.7 187.8h0M343.2 323.1h0M448 115.6h0M349.2 348.6h0M365.2 217.1h0M376 243.8h0M344.5 341.2h0M299.5 207.6h0M471.8 273.7h0M357.2 276.3h0M535.4 360.5h0M439.4 413.6h0M497.1 306.7h0M517.1 268.3h0M506.3 267.7h0M415.3 426.1h0M407.8 163.8h0M316.4 248.3h0M393.8 348.3h0M499.9 257h0M400.6 348.7h0M458 109.7h0M471.1 335h0M446.6 243.9h0M333.7 180.1h0M377.5 286h0M354.6 348.4h0M421.2 108.2h0M451 111.8h0M455 304.1h0M410.1 308.6h0M483.6 448.5h0M424.1 359.1h0M430.2 288.8h0M435.5 465.1h0M488.6 436.1h0M424.1 335.8h0M407.3 270.5h0M386.9 344.2h0M409.4 248h0M349.5 401.7h0M418 93.4h0M397.2 386.5h0M297.3 195.4h0M335.2 316.8h0M488.5 110.9h0M490.1 399.4h0M379.2 348.5h0M457.8 362.1h0M522.9 219.8h0M431.5 227h0M298 216.3h0M417.4 116.9h0M381.7 205.7h0M380.5 325.1h0M370.4 448.4h0M342.9 356.3h0M546 390.6h0M315.1 262.3h0M386.9 381.7h0M371.6 371.3h0M480.7 259.1h0M424.9 241.4h0M426.6 126.6h0M452.4 371.1h0M467.8 213.3h0M440.9 456.4h0M413 349.2h0M501.2 132.3h0M430.6 335.9h0M358.6 274.7h0M327.8 256.5h0M496.9 204.8h0M542.5 370.1h0M442.7 184.3h0M498.4 368.5h0M395.3 221.2h0M356.1 306.1h0M521.3 356.7h0M318.1 305h0M256.5 267h0M480.1 364.2h0M368.6 194.3h0M300.5 216.9h0M449.2 438.9h0M426.9 422.3h0M444 336.1h0M546.1 403.9h0M435.6 99.4h0M402.7 162.5h0M339.4 204.5h0M446.9 147.6h0M388.1 437.5h0M343.6 288.2h0M302.3 224.9h0M286.6 264.2h0M466.1 388.8h0M507 256.9h0M445 329.3h0M439.4 150.7h0M351.3 185.7h0M509.1 444.2h0M446.8 235.7h0M456.7 306.6h0M436.1 469.9h0M341.9 282.8h0M514.2 218.6h0M256.7 262h0M377.2 240.7h0M380.6 434.3h0M404.5 133.2h0M322.8 288.1h0M422.1 280.6h0M498.1 322.9h0M361.4 345.3h0M374.1 316.7h0M362.9 351.3h0M463.1 237.1h0M462.1 242.3h0M358.4 333.2h0M299.3 193.5h0M346.5 174h0M306.5 282.5h0M385.2 276.8h0M403.7 433.2h0M356.6 238.2h0M554 387.3h0M362.1 161.1h0M363.2 410h0M385.8 141h0M432.4 289.1h0M468.8 357.8h0M284.9 275.3h0M446.2 261h0M447.3 197h0M363.3 366.6h0M329.5 302.6h0M495.7 455.1h0M466.7 215.2h0M500.7 386.2h0M428.4 140.1h0M369.7 300.3h0M410.9 395h0M384.6 209h0M388.1 216h0M484.8 250.2h0M498.4 402.3h0M462 251.3h0M434.7 322.9h0M497.8 350.9h0M489.2 289.7h0M274 252.7h0M484.7 246.9h0M523.1 222.5h0M329.5 245.1h0M355.7 271.3h0M387.5 132.6h0M407.3 165.4h0M336.3 200.5h0M419.7 350.3h0M347.1 277.3h0M317.7 191.2h0M406.3 275.6h0M366.5 416.3h0M385.1 289.5h0M351.8 238.3h0M400.5 140.1h0M453.5 264.4h0M451.7 447.2h0M390.6 385.9h0M416 364.2h0M303.3 207.7h0M430.9 425.9h0M478.3 438.2h0M286.9 241.6h0M313.1 207.4h0M443.7 306.4h0M467.9 266.9h0M404.5 213.5h0M492.1 292.6h0M426 145h0M429.1 433.5h0M478.3 297.4h0M330.2 269.4h0M339.9 329h0M423.3 168.9h0M498.7 341.1h0M454.6 315.1h0M329.3 220.3h0M348.5 345.7h0M359.7 407.7h0M388.9 427.7h0M411.1 98.3h0M517.9 303.4h0M521.8 235.3h0M315.9 215.5h0M327.6 180.6h0M373.6 249.5h0M492.8 193.6h0M519.8 263.1h0M468.9 410h0M532.4 234.1h0M393 461.2h0M429.7 315.9h0M515.3 329.4h0M445.5 253.7h0M495.7 214.1h0M497.1 118.5h0M396.1 185.7h0M441.7 411.6h0M485.5 401.1h0M516 290.4h0M310.4 285.3h0M427.4 133h0M367.7 280h0M406.6 319.9h0M441.2 368.6h0M512.6 416.6h0M387.6 203.1h0M351.8 244.2h0M442.1 324.2h0M271.2 237.5h0M516.7 267.3h0M345 291.5h0M307.2 285.2h0M411 455.5h0M355.9 278.4h0M347.6 198.5h0M289.1 232.8h0M379 263.4h0M366.9 267.8h0M432.9 96.2h0M267.7 276h0M526.3 372.8h0M474.3 455.5h0M361 172.1h0M404.4 157.4h0M533.7 380.7h0M443.3 434.7h0M470.4 162.8h0M415.5 202.8h0M339.8 323.7h0M414.6 310.3h0M441.9 101.6h0M386.7 225.2h0M367.7 252.4h0M378.9 384.4h0M291.9 215.2h0M310.8 231.3h0M388.2 135.7h0M318.7 305.9h0M344.8 435.2h0M440.6 459.8h0M419.4 413.4h0M393.4 175.8h0M302.8 235.3h0M332.5 286.1h0M463.1 249h0M433.2 112h0M429.6 446.1h0M546.6 381.2h0M449.6 88.6h0M380.8 317.5h0M332.1 313h0M423.9 95.9h0M491.1 451h0M479.8 289.7h0M463.6 445.4h0M544 399h0M492.3 261.5h0M324.6 301.5h0M405.8 278.7h0M360.2 305.9h0M383.6 391.6h0M374.7 201.1h0M427.5 350.1h0M452.5 89.9h0M408.6 188.5h0M495.2 449.5h0M294.5 207.7h0M339.8 242.1h0M507 295h0M346.4 296.2h0M321.2 234.7h0M505.9 176.7h0M380.7 195h0M285.3 198.6h0M331.7 337.1h0M401.9 440h0M502.5 288.7h0M426.4 411.5h0M339.5 316.9h0M422.8 111.1h0M417.5 382.8h0M382.5 180.5h0M407.8 257.2h0M419 339.8h0M348.2 228.6h0M401.6 138.7h0M347.9 350.1h0M517 194.6h0M338.2 243.6h0M317.1 296.7h0M355 284.8h0M418.7 312.2h0M415 200.9h0M425.4 294.6h0M372.8 427.1h0M430.1 302.1h0M349.8 199.2h0M458.2 135.2h0M482.2 226h0M391.4 364.1h0M511.1 261.1h0M419.3 244.7h0M366.1 186.6h0M494.4 409.9h0M404 132.1h0M380.8 228h0M409.7 292.9h0M481.3 309h0M441.4 335.5h0M393.4 317.5h0M370.1 213.5h0M486.4 175.6h0M462.5 426.5h0M510.3 337.4h0M418.1 271.5h0M346.9 315.8h0M493.7 451.1h0M467.8 317.5h0M322.7 192.6h0M445.8 437.6h0M326.8 253.7h0M467.2 332h0M339 197.9h0M462 395.9h0M458.8 408.4h0M507.4 190.7h0M442 245.8h0M417.6 410.9h0M406.4 85.6h0M429.8 468.2h0M452.3 282.5h0M317.8 192.5h0M344.6 450.1h0M365.1 147.4h0M436.3 460.9h0M404.3 286.1h0M449.8 295h0M507.8 184.5h0M408 162h0M428.9 371h0M452.7 324.2h0M421.6 335.2h0M356.6 266.2h0M352.7 212.5h0M432.7 443.7h0M511.4 281.7h0M417 107.6h0M475.1 265.5h0M488.4 295.7h0M432.7 233.7h0M410.3 87.9h0M284.8 231.2h0M392.4 466.7h0M441.6 145.4h0M407.1 452.4h0M99.2 287.8h0M96.1 286.7h0M102.8 290.6h0M101.3 289.8h0M94.4 287.2h0M101.4 290h0M100.1 291h0M97.7 288.5h0M93.4 287.6h0M95.6 290.6h0M99.4 290h0M93.6 286.5h0M92.9 287.6h0M111.5 296h0M109.8 296.5h0M112.3 297.4h0M105.1 293.5h0M105.4 292.6h0M117.1 302.9h0M123.4 309.4h0M121.4 306.5h0M129.6 313h0M128.8 309.9h0M135.6 310.1h0M136.4 310.5h0M130.1 309.4h0M128 312.3h0M126.8 314h0M125.1 311.5h0M135.5 311h0M132.1 313.4h0M135.6 310.4h0M126.9 315.7h0M124.5 310.2h0M131.2 312.2h0M132.2 312.5h0M133.1 311h0M138.1 309.7h0M123.1 317h0M111.5 323.6h0M111.3 327.3h0M125.2 316.9h0M121.3 318h0M114.9 322.3h0M125 315.2h0M121 320.6h0M108.1 326.7h0M118.7 321.9h0M114.5 325.4h0M107 326.1h0M124.8 317h0M113.1 322.5h0M108.3 327.5h0M169.9 320.6h0M174.8 322.1h0M155.9 315h0M171.2 319.7h0M146.6 312.1h0M140.9 311.5h0M154.9 316.6h0M167.5 320h0M175.3 321h0M141.7 311.2h0M140.9 311.2h0M178 323h0M162.9 316.6h0M142.4 313.2h0M139 312.6h0M161.6 318.2h0M162.3 307.6h0M285.7 141.3h0M282.3 137h0M284.3 140.1h0M286.1 142.2h0M288.2 142.6h0M287.8 143.9h0M288.8 144.3h0M281.2 137h0M281 137.3h0M284.4 139.3h0M283.2 139.2h0M288.4 143.4h0M285.3 140.5h0M288 143.2h0M288.6 144.7h0M300.2 155.4h0M295.6 150.6h0M293.4 148.1h0M304.5 156.3h0M304.8 159.5h0M303.5 156.9h0M300.3 150.6h0M302.3 155.6h0M305.3 158.5h0M298.3 155.4h0M303.8 158.6h0M301.5 158.8h0M303.6 155.6h0M292.3 145.1h0M293.7 147.6h0M302.6 150h0M297.3 156.1h0M299.8 153.7h0M297.7 150.7h0M301 154.1h0M294.4 150.2h0M298.3 152.5h0M297.5 153.3h0M302.5 160h0M301.9 155.8h0M305.4 158.1h0M291.4 148.9h0M293.6 144h0M297.9 157.9h0M296.8 147.3h0M303.2 161.3h0M299.4 156.5h0M306.4 158.9h0M301.6 154.3h0M303.2 160.1h0M290.8 149.7h0M296.4 149.5h0M298.1 151h0M304.9 159.5h0M302.4 152.6h0M310.9 163.9h0M307.1 163.2h0M299 138.4h0M311.5 136.5h0M370.5 110h0M373 110.3h0M400.8 107h0M396.5 108.6h0M404.2 111.4h0M404.8 118.5h0M389.6 103.4h0M408 111.9h0M406.5 113.8h0M404.2 107.4h0M231.3 253.6h0M235.4 271.5h0M236.2 269h0M239.4 278.1h0M242.2 270.5h0M295.3 290h0M271.4 286.5h0M311.2 307.6h0M283.6 291.2h0M271 286.6h0M312.1 317.3h0M307.8 316.2h0M261.9 287.7h0M316.1 319h0M256.8 286.2h0M297.3 295.6h0M289.9 289.2h0M313.1 308.3h0M308.5 301.2h0M297.3 290.5h0M264.5 294.3h0M270.3 290.8h0M278.7 286.1h0M291.7 291.1h0M314.5 323.8h0M319.6 323.5h0M249.5 283.3h0M259.3 290.5h0M262.9 284.5h0M305.1 298.5h0M256.9 285.9h0M318.2 320.9h0M315.2 317.4h0M269.9 285.6h0M316.1 314.6h0M307.9 314.1h0M258.2 285h0M302 292.3h0M304.9 294.3h0M303.5 293.5h0M276.1 286.7h0M279.6 285.4h0M317.5 319.4h0M271.4 287.5h0M282.8 286.7h0M304.7 294.6h0M253.8 285.5h0M315.6 314.4h0M250.1 286.9h0M263.7 284.6h0M266.5 288.4h0M251.6 282.6h0M257.5 286.3h0M314.3 312.1h0M297.8 292.7h0M313.8 308.7h0M292.9 288.7h0M259.8 283.9h0M314 311.6h0M294.1 289.2h0M317.6 325.8h0M293.1 297.8h0M281.2 300.7h0M289.9 301.2h0M311.8 319.6h0M311.7 307.2h0M300.3 308.7h0M308.2 308.4h0M302 321.4h0M296.2 299.4h0M302.1 299h0M292.8 296.8h0M297.1 309.4h0M314.3 319.3h0M308.6 316.6h0M320.6 325.5h0M316.9 334.5h0M321.7 330.5h0M315.3 339.5h0M311.7 327.9h0M312.9 318.8h0M315.5 313.1h0M311.3 314.9h0M312.5 313.6h0M302.3 298.3h0M307.7 300.9h0M322.7 328.5h0M299.4 301.6h0M308.8 325.9h0M307.4 305.9h0M322 330.8h0M304.1 316.1h0M335.9 357h0M332.7 359.6h0M320.9 366.5h0M325.8 350.1h0M326.5 366.8h0M325.8 347.4h0M330.3 351h0M323.5 348.9h0M326.1 350.2h0M324.3 347.9h0M336.8 336.9h0M320.1 359.6h0M326.9 348.4h0M313.7 358.9h0M318.9 359h0M323.4 362h0M314.4 359.7h0M324.6 361.5h0M530.5 318.3h0M532.5 268h0M539.5 351.8h0M529.3 325.8h0M543.1 362.5h0M529.3 328.5h0M530.3 316.6h0M531 299.9h0M535.3 344.7h0M531.6 283.1h0M528.2 277.4h0M533.1 253.3h0M527.1 279.9h0M531.7 253.7h0M534 254.9h0M545.1 369.1h0M530.7 257.6h0M533.1 258.4h0M531.5 257.9h0M527.3 291h0M528 293.6h0M545.3 367.3h0M530.7 287.5h0M529.6 329.8h0M532.2 252.5h0M529.6 271h0M526.8 307.8h0M542.9 361.7h0M526.9 314.8h0M528.7 327.1h0M527.7 279.9h0M531.3 282.3h0M530.5 259.5h0M527.4 289.5h0M531.9 336.2h0M530.5 327h0M532.1 258.1h0M530.8 262.5h0M529.5 328.9h0M529.3 270.7h0M528.4 327.4h0M543.8 361.4h0M527.4 303.2h0M528.5 278.1h0M410.5 126.7h0M391.5 116.5h0M392.9 126.7h0M408 123.6h0M401 121.8h0M393.1 124.9h0M397.9 114.9h0M409.4 118.2h0M388.4 99.4h0M391.9 93.9h0M387 103.4h0M487.8 148.2h0M488 146.1h0M488 156.8h0M495.2 140h0M486.5 157.7h0M486.6 156.4h0M486.4 156.7h0M493.9 159.4h0M516.2 180.2h0M504.7 135.7h0M498.7 139.9h0M406.1 172.2h0M408.5 159.8h0M408.6 149.3h0M410.9 158.4h0M410.8 141.3h0M402.3 141.7h0M396.2 146.6h0M403.4 175.5h0M410.3 150.6h0M393.9 154.8h0M481.8 126.1h0M496.5 127.2h0M485.4 119.5h0M476.7 134.7h0M491 122.2h0M491.1 129.9h0"/>
<path stroke="#A37FEA" d="M532.9 348.5h0M345.3 152.3h0M541.7 421.3h0M553.4 385.7h0M349 458.6h0M504.5 452h0M270.9 282.5h0M492.7 163h0M274.8 209h0M383.4 132.7h0M301.5 186.2h0M518.6 444.8h0M532.4 343.8h0M507.1 127.2h0M332.7 337.8h0M490.5 459.8h0M452.2 88.9h0M487.8 459.6h0M521.5 192.1h0M419.4 80.4h0M472.7 464.9h0M486.4 101.2h0M506.6 130h0M407.5 467.9h0M434.5 85.6h0M489.7 101.9h0M315.7 176.9h0M408.1 80.7h0M437.3 469.1h0M365.8 460.7h0M529 252.5h0M395.6 130.4h0M501.6 135.4h0M265.1 282.8h0M508.9 127.7h0M316.9 311.3h0M460.2 466.7h0M554.1 392.4h0M313.8 176.8h0M419.2 470h0M336.4 162.9h0M533.2 238.1h0M365 462.4h0M508.8 180.2h0M466.3 90.6h0M503.9 117.2h0M405.2 128.7h0M250.2 268.1h0M268.5 225.5h0M527.9 261h0M269.6 249.6h0M528.9 266.3h0M496.4 138.2h0M310.7 298.9h0M409 467.7h0M427.6 83.9h0M343 344.6h0M505.8 177.7h0M528.3 265.7h0M524.8 327h0M528.1 259.5h0M404.8 468.9h0M443.3 470.6h0M252 265.1h0M479.4 461.1h0M352.4 148.7h0M483.5 146.1h0M268.3 226.4h0M294.5 285.2h0M515.2 444h0M316.1 179.1h0M528.1 256.9h0M326 369.2h0M507.2 122.8h0M526.1 438.4h0M502.2 117.2h0M409.3 79.6h0M491.7 457.4h0M246.8 270.3h0M308.5 294h0M523.7 194.8h0M473.8 94.3h0M407 108.5h0M502.3 118.4h0M483.7 96.4h0M302 288.1h0M350.6 150.4h0M524.2 291.5h0M483 147.2h0M365 141.4h0M461.2 466.3h0M531.2 248.8h0M448.2 469.6h0M445.5 463.5h0M311.5 258.8h0M445.1 184.5h0M483.7 216.5h0M494.8 304.9h0M368.4 377.7h0M511.3 250.3h0M453.8 380.5h0M465.6 286h0M451.2 149.7h0M394.5 361.3h0M508.6 127.8h0M368.8 289h0M286.4 217.9h0M341.8 332.5h0M418.6 275.7h0M539.1 410.6h0M364.5 247.8h0M358.3 209.2h0M296.2 245.4h0M430.6 340.5h0M326.5 229.1h0M496.7 372.3h0M394 421.9h0M487.8 359.4h0M411.3 311.6h0M442.5 151.4h0M359.4 188h0M396 353.6h0M357 233.1h0M414.3 239.3h0M283.9 228.2h0M508 281.7h0M430.4 372.6h0M471 158.9h0M381.3 414.7h0M367.8 181.1h0M485.7 422.7h0M334.5 212.5h0M397 132.9h0M382.5 432.9h0M407.5 367.8h0M362 146.6h0M322.8 205.5h0M318.4 199.5h0M430.3 434.3h0M486 357.8h0M452.3 469.5h0M355.7 239.1h0M438 458.5h0M430.8 446h0M347 452.5h0M440.1 318.9h0M371.2 151h0M348.2 225.3h0M484.9 375.9h0M386.2 338.5h0M517.6 369.6h0M522.3 383h0M436 87h0M284.1 250.4h0M468.1 276h0M363.7 270.3h0M407.4 256.5h0M277.4 256.5h0M459 157.1h0M382 462.4h0M393.5 188.7h0M537 356.3h0M421.5 212.7h0M523.6 300.8h0M527.1 391.2h0M364.5 190.1h0M452.6 204.6h0M464.6 348.7h0M436.2 385.8h0M512 336h0M512.4 247.8h0M437.3 434.9h0M471.1 396.9h0M398.9 379.3h0M373.1 175.4h0M383.9 419.8h0M384.3 356.5h0M344 218.9h0M488.9 254.3h0M466.8 423.8h0M369.8 241.7h0M357.9 212.1h0M429 256.9h0M468.7 96.4h0M337.8 172.8h0M456.1 96.2h0M338.8 189.2h0M389.4 355.7h0M510.3 278.9h0M345 314h0M424.7 316.7h0M430 368h0M347.3 168.7h0M448.1 117.4h0M513.9 339h0M416.3 237.9h0M380.3 241.9h0M466.5 280.2h0M428.1 291.2h0M400.5 451h0M323.3 320.9h0M360.5 208h0M506.5 450.6h0M369.3 426.8h0M490.1 127.3h0M432.9 438.6h0M367.7 157.3h0M333.9 321.7h0M292.6 218.7h0M313.9 192.7h0M361.4 391.7h0M472.9 352.4h0M439.7 294.4h0M352.1 309.5h0M516.3 313.8h0M364.6 387.1h0M487.3 376.3h0M488.9 195.6h0M376.3 372.2h0M396.5 296.7h0M387.1 187.4h0M515.8 378.9h0M405.5 238.6h0M492.8 214.1h0M529.1 367h0M402.3 438.7h0M344.6 452.1h0M535.6 398.9h0M304.1 223.9h0M506.8 357.6h0M412.9 410.4h0M401 333.9h0M407.7 97.2h0M473.2 221.7h0M371.2 191.9h0M384.1 291.5h0M440.5 362.1h0M420.9 251.5h0M469.5 464.1h0M459.7 214.5h0M451.1 310.1h0M522.6 418h0M434.6 348.5h0M357 271h0M337.3 239h0M422.2 145.3h0M415.1 425.2h0M506.3 385.3h0M371.9 220.3h0M503.8 189.8h0M423.7 421.9h0M410.6 382.2h0M506 441.1h0M351.1 279.2h0M438.6 382.1h0M383.4 360.8h0M348.9 318.6h0M474 380.6h0M340.3 438.9h0M465.7 421.5h0M387 349.1h0M475.9 385.2h0M349.8 236h0M410.6 363.1h0M396.6 422.2h0M534.4 371.2h0M408.5 452h0M490.8 455.3h0M465.5 422.8h0M521.8 415.6h0M323.4 373.2h0M357.5 441.1h0M419.2 431.7h0M415.4 179.2h0M504.5 330.9h0M430.2 394.7h0M393.2 431.5h0M443.6 382.1h0M454.5 155.9h0M360.1 418.1h0M455 277.1h0M530.2 391.4h0M469.6 369.7h0M467.3 313.4h0M367.5 401.2h0M510.9 341.9h0M446.7 356.4h0M473.6 123.4h0M454.4 393.9h0M411.7 344.9h0M433.5 426.5h0M516.4 213.2h0M358.3 396.1h0M421.5 194.5h0M354.8 447.2h0M509.8 284.7h0M390.7 457.7h0M363.7 408.7h0M428.2 364.1h0M386 299.7h0M449.2 259h0M377.4 319.2h0M352.1 283.9h0M433.4 369.1h0M274.4 243.4h0M409.8 402.9h0M479.5 141.3h0M429.9 428.4h0M383 459.4h0M455.5 376.5h0M427.2 160.2h0M365.7 376.1h0M346.6 289.4h0M283.1 266.5h0M354.5 349.9h0M341.4 222.1h0M418.3 446.2h0M499.8 263h0M451.9 371.4h0M426.2 278.3h0M508.2 431.6h0M512 283.6h0M457.9 243.8h0M302.6 196h0M250.2 279.6h0M345.2 300.2h0M366.5 146.6h0M442.9 415.6h0M369.4 448.8h0M424.1 341.4h0M260.8 267h0M385.9 292.3h0M292 243.9h0M414.2 214.1h0M492.5 276.9h0M488.7 437.7h0M413.1 427.9h0M287.2 250.3h0M454.3 207.8h0M462.3 201.7h0M271.2 244.3h0M472.4 199.7h0M385.7 431.5h0M476.4 289.9h0M348.1 262.8h0M511.7 445.8h0M452.3 440.9h0M360.6 445.3h0M438.6 134.9h0M517.2 389.8h0M522.9 398.4h0M471.9 114.5h0M456.8 132.3h0M476.3 423.4h0M502.8 365h0M370.2 408.5h0M488 392.2h0M392.3 466.8h0M381.2 384.4h0M526.7 397.2h0M520.1 390.9h0M311.6 301.3h0M447.8 422.1h0M446 406.7h0M418.4 347.3h0M407.6 398.5h0M291.6 284.7h0M469.7 364.9h0M364.3 149.6h0M368.9 186.3h0M479.6 228.5h0M399.7 351.7h0M396 416.5h0M406.1 244.2h0M431.4 133.2h0M525.4 422.8h0M340.5 216.7h0M401.3 316.3h0M468.2 376.2h0M472.8 146.9h0M462.1 307.5h0M494.4 396.5h0M495.4 216.6h0M352 412.2h0M523.5 238.6h0M413.9 340.2h0M446 322.6h0M376.4 438.2h0M503.1 441.1h0M379.3 400.6h0M519.8 210.5h0M286.2 207.2h0M372.9 203.8h0M391.9 413.9h0M359.2 424.2h0M346.7 363.2h0M332.1 336.7h0M313 229.9h0M471.1 135.1h0M367.9 424.4h0M492.3 348.1h0M398.4 425.9h0M395.3 433.2h0M366.7 423.1h0M496.5 358.1h0M364.8 230.6h0M418 156.6h0M413.1 439.3h0M421.9 400.4h0M402.9 223.7h0M359.9 361.5h0M339.9 447.7h0M386.5 447.5h0M506.5 301.4h0M395.2 430h0M345.5 384.6h0M521.1 316.9h0M555.2 393.4h0M387.2 375.7h0M407 381.1h0M488.9 400.4h0M469.7 430.3h0M347.8 394.4h0M423.1 136.3h0M407.6 264.8h0M475.8 378.7h0M412.4 369.8h0M356 442.5h0M400.2 197.3h0M499.4 268.5h0M359.5 435.1h0M353.7 347.2h0M522.5 376.7h0M425.3 318.5h0M368.1 366.8h0M485.1 414.1h0M350.9 435.8h0M429.8 298.3h0M524.8 269.4h0M402.2 404.3h0M365 327.6h0M451 404.3h0M445.7 410.9h0M346.3 453.7h0M462.3 121.7h0M439.5 364.9h0M276.4 258.9h0M403.7 365.9h0M370.5 348.7h0M520.9 344h0M373.3 447h0M430.9 422.4h0M526.2 217.7h0M461.9 312.5h0M375.1 385.3h0M444.7 91.9h0M539.6 376.8h0M352 396h0M422.9 284.7h0M464.6 359.8h0M341 391.2h0M405 258.7h0M384.4 222.4h0M428.8 427.3h0M422.6 470.4h0M443 296h0M417.1 426.7h0M354.3 441.3h0M416 387.6h0M379.9 291.7h0M373.1 317.5h0M349.8 211.3h0M467.1 244.2h0M504.5 319.9h0M344.2 440.5h0M398 436.4h0M438.6 356h0M465.7 207.2h0M435.3 355h0M425.7 454.5h0M540 362.3h0M356.3 398.9h0M416.4 313.2h0M459.6 130.6h0M285.5 198.8h0M386.6 300.6h0M440.9 178.3h0M360.6 201.2h0M463 436.3h0M521.1 311.4h0M482 121h0M402.5 426.4h0M437 252.2h0M457.9 420h0M498.9 444.6h0M466.4 451.5h0M430.9 92.4h0M357.4 388.1h0M360.9 393.4h0M456.3 241.9h0M451.4 302.9h0M472.1 452.1h0M520.4 419.8h0M396.6 433.7h0M388.2 420.1h0M326 372.8h0M421.6 205.1h0M481.4 410.5h0M385.5 236.2h0M522.9 196.6h0M345.6 298.3h0M443.2 247.8h0M422.2 445.7h0M423.1 119.9h0M437.5 451.9h0M335.3 368.1h0M467.4 407.1h0M337.6 394.9h0M414.1 328.9h0M479.1 449.8h0M455 393.3h0M478.1 142.1h0M446 186.2h0M414.9 364.8h0M387.9 413.1h0M381.7 137.1h0M372.5 406.4h0M378.9 415.3h0M448.6 283.8h0M451.9 443.5h0M528.5 361.5h0M363.3 154.8h0M465.3 364.6h0M494.1 318.9h0M507.7 309.5h0M546.4 402.3h0M470.8 413.4h0M483.8 358.2h0M385.9 356h0M420.5 461.4h0M362.6 357.7h0M447.7 353.9h0M439.3 340.5h0M470.2 175.3h0M444.3 292.6h0M384.8 359.2h0M524.4 232.4h0M462.2 335.3h0M460.3 221.9h0M449.9 341.2h0M426.6 105.6h0M444.2 197.9h0M346.7 357.1h0M389.7 233.9h0M127.2 312.9h0M132.7 314.7h0M129.5 314.9h0M158.6 317.4h0M283.3 136.9h0M294.3 149.5h0M303.8 154.8h0M295.1 151.6h0M306.2 158.6h0M303.3 157.9h0M284.7 295.6h0M252.7 288.9h0M301.6 295.9h0M281.9 288.4h0M313 314.4h0M284.6 291.2h0M307.7 300.8h0M534.2 346.5h0M529.7 317h0M531.1 267.6h0M399.2 153.2h0"/>
<path stroke="#B194E5" d="M344.8 154.7h0M408.8 469.3h0M511.1 448.6h0M407.4 469h0M552.4 390.1h0M447.3 87.5h0M491.5 178.4h0M492 176h0M488.7 405.5h0M430.3 98h0M324.8 216h0M505.5 311.3h0M338.6 188.3h0M525.3 251.9h0M447.6 315.7h0M254.3 276.1h0M347.8 374.8h0M524.9 223.8h0M463.8 401.2h0M449.9 138.8h0M428.5 308h0M421.7 193.4h0M474.8 379.6h0M489.6 273.7h0M296.2 246.7h0M262.4 277.3h0M449.2 387.7h0M291.6 238.3h0M489.5 387h0M422.7 191.1h0M357.3 362.6h0M411.5 105.3h0M394.1 314.4h0M532.6 344.4h0M535.1 376.3h0M397.6 88.5h0M438.8 329.2h0M412 395h0M397.7 430.4h0M429.7 193.8h0M491.6 345.4h0M467.3 429.7h0M298.1 229h0M345.6 250.5h0M371.1 367.5h0M392.8 328.1h0M518.3 410.9h0M506.3 350.6h0M491.1 243.8h0M515.8 364.6h0M500.5 397.9h0M419.4 166.3h0M503.5 428.9h0M393.4 382.3h0M357.3 391.3h0M433.8 253.7h0M444.5 443.1h0M386.9 398.9h0M494 387.1h0M457.8 166.9h0M355.2 403.1h0M524.6 337.5h0M447.2 161h0M478.4 384.1h0M405.4 404.6h0M477 371h0M506.4 376.6h0M351.8 388.5h0M456.9 449.3h0M349.1 304.6h0M451.9 423.7h0M472.2 423.3h0M350.3 300.9h0M488.7 193h0M546.7 397h0M496.9 391.4h0M428.8 316.8h0M439.5 466.4h0M361.5 277.3h0M346.1 449.2h0M434 334.5h0M517.7 206.5h0M357.4 375.2h0M341.1 316.8h0M327.6 215h0M528.2 426.9h0M393 314.2h0M510.8 312.3h0M449.9 312.7h0M499.6 396.6h0M486.1 380.5h0M500.3 375.3h0M429.3 362.1h0M342.6 289.1h0M420 196.8h0M345 393.1h0M401.3 231.2h0M444.7 119.7h0M439.9 438.7h0M450.7 105.5h0M385.4 381.1h0M446.7 378.2h0M344 414h0M523.4 408h0M444.7 390.1h0M405.1 322.8h0M360.6 453.8h0M414.7 346.8h0M505.1 441.9h0M439.2 458.5h0M510.7 418.7h0M406.8 334.2h0M347.5 317h0M488.6 327.8h0M392.5 331.8h0M376 429.2h0M524 378.2h0M498.3 426.2h0M401.5 458.4h0M355.3 421.5h0M470.3 101.2h0M454.7 347.5h0M462 418.1h0M362.8 426.8h0M333.1 364.4h0M362.6 458.9h0M370.3 432.1h0M445.1 234.6h0M477.2 386.7h0M502.5 365.1h0M406.1 85.4h0M479.9 140.3h0M404.1 367.6h0M331.1 300.3h0M467.7 285.9h0M494.8 441.7h0M348.5 366h0M360.9 361.2h0M452.5 114.5h0M461.8 317.3h0M512.5 312.7h0M458.6 466.9h0M505.4 214.1h0M402.3 161.1h0M340.5 363.1h0M487.9 371.3h0M392.4 438.9h0M356.6 424.3h0M277.5 236.3h0M418 408.3h0M428.5 410.1h0M493.3 352.2h0M432.8 446h0M479.9 359.8h0M449.5 342.5h0M451.5 252.5h0M391.9 320.4h0M503.2 317.6h0M499.7 136.6h0M467 359.6h0M371.9 461.2h0M441.8 234h0M390.6 160.6h0M512.6 372.3h0M396.6 396.5h0M437.3 244.9h0M437.1 254.7h0M487.5 382.9h0M308.9 211.3h0M420.3 393.3h0M354.4 233h0M524.7 339.1h0M427.2 421.7h0M353.5 448.6h0M353.2 349.1h0M383.8 387.5h0M324.9 377.5h0M344.4 327.7h0M527.7 340.4h0M432.5 447.8h0M533.7 241.8h0M409.4 152.5h0M482.9 310.7h0M425.3 403.1h0M466.1 393.6h0M429.2 453.9h0M471.7 447.2h0M423.5 437.2h0M522.6 379.8h0M356.4 326.7h0M364.8 243.8h0M533.7 392.2h0M504.2 355.2h0M477.8 170h0M437.5 182.9h0M263.7 271.3h0M421.9 372.9h0M408.2 359.4h0M443 336.6h0M432.2 111.9h0M348.9 449.3h0M528.9 359.7h0M450.7 362.7h0M416.1 323.1h0M394.3 431.6h0M361 318.5h0M318.4 185.7h0M385.2 357.4h0M524.5 410.2h0M476.7 443.5h0M406.6 397.1h0M477.8 131.1h0M519.2 391h0M394.3 458.3h0M500 342.8h0M362.2 389.9h0M251.3 277h0M400 368.3h0M369.7 248.3h0M391.6 316.8h0M346.2 435.7h0M365.7 370.5h0M359 427.2h0M533.9 372.3h0M295.6 270.1h0M502.9 353h0M417.2 449.8h0M351.2 335.2h0M381.7 394.2h0M387.6 351.1h0M371.2 454.2h0M516.7 187.3h0M526.2 244h0M388.3 376.4h0M462.5 377.5h0M503 392.9h0M364.8 348.1h0M347.3 256.2h0M443.4 127.9h0M448.1 453h0M377.3 353.8h0M549.8 392.2h0M343.1 447.2h0M315.9 369.4h0M251 267.2h0M393.6 359.4h0M390.3 173h0M474.9 429.5h0M487.3 402.5h0M310.4 254.7h0M362.2 380.4h0M517.9 369.5h0M482 292h0M425.5 228.8h0M446 202.9h0M520.4 390.9h0M478.9 434.9h0M418.9 465.9h0M536.6 403.1h0M479.2 374.3h0M361 283.6h0M455.5 221.8h0M387.8 351.7h0M497.4 174.7h0M419.7 377h0M433.3 405.6h0M423.7 444.4h0M521.5 358.1h0M529.7 383.3h0M433.1 465.3h0M420.4 246.8h0M366.3 144.1h0M371.2 231.9h0M430.3 338h0M296.5 269.3h0M343 411.3h0M387 302.5h0M428.3 350.6h0M473.1 379.3h0M369 396.1h0M511.6 289.2h0M372.3 403.2h0M538.7 367h0M494.7 404.2h0M517.6 424.3h0M430.2 264.7h0M456.1 262.3h0M370.5 455.7h0M395.6 176.9h0M318.2 371.7h0M467.2 436.9h0M419.5 451h0M485.1 390.6h0M446 463.2h0M363.8 205h0M405.1 342.3h0M430.6 214.5h0M369 175.5h0M519.2 207.6h0M343.9 196.2h0M491.3 361.2h0M440.9 365.9h0M421.9 340h0M500.4 267.4h0M440.1 373.7h0M401.3 352h0M439.8 230.6h0M475.1 365.8h0M469.4 438.4h0M444.4 400.1h0M431.4 193.1h0M375.4 177.4h0M368.1 395.8h0M414.4 330.4h0M501.9 270.8h0M524.1 363.6h0M439.5 276.3h0M375.4 402.9h0M433.1 337.5h0M367 315.5h0M462.1 438.8h0M318 199h0M343.1 415.7h0M364 162.2h0M379.3 428.6h0M337.6 324.7h0M302.4 186.5h0M377.5 284.7h0M317.3 197.3h0M472.6 463.1h0M475.6 407.9h0M399 253.5h0M383.1 410.5h0M425.2 377.8h0M347.9 448.8h0M330.1 379.8h0M315.5 196h0M500.9 307h0M423.2 292.7h0M474.3 161.4h0M376.9 166.8h0M439.3 440.8h0M402.9 414.4h0M469.4 300.3h0M345.6 198.3h0M420.7 405.2h0M375.2 463.6h0M453.7 377.6h0M409.7 367.2h0M530.6 415.2h0M457 97.1h0M477.2 440.8h0M364.4 327.8h0M424.5 385.7h0M343.3 290.8h0M383.3 452h0M475.9 110.5h0M504.5 285.2h0M454.4 390.3h0M340.9 385.3h0M493 111.6h0M394 247.2h0M453.5 459.3h0M428.1 278.9h0M469.8 269.6h0M452.3 470.2h0M495.8 356.1h0M409.8 442.8h0M302.8 271h0M460.5 319.4h0M362.8 347.5h0M431.7 330.1h0M399.6 446.4h0M506.1 323.4h0M253.1 269.8h0M375.2 331.4h0M412.5 435.2h0M487.9 348.9h0M533.3 404.2h0M322 310.6h0M405.2 276.3h0M360.3 458.6h0M386.9 425.1h0M522.5 383.8h0M367.2 317.9h0M368.4 230.1h0M347.9 337.6h0M453.2 318.3h0M408.5 450.8h0M378.4 343.6h0M524 332.8h0M247.4 275h0M431.3 432.3h0M261 267.2h0M510.5 450.1h0M363.8 400.8h0M448 218h0M477.2 385.8h0M493.1 377.9h0M523 437.3h0M539.3 395h0M479.3 403.4h0M447.5 464.2h0M476.2 328.7h0M462.8 402.8h0M470.4 463.2h0M308.4 282.5h0M279.2 202.4h0M463.5 115.6h0M122.1 317.8h0M123.2 316.4h0M123.5 317.5h0"/>
<path stroke="#2811FE" d="M295 407.2h0M299.1 426h0M306.1 433h0M294.1 418.3h0M300 426.5h0M310.5 436.2h0M301.6 425.8h0M299.5 423.9h0M292.2 409.2h0M292.6 402.8h0M296.2 419.5h0M302 428.1h0M298.7 425.1h0M297.1 423.8h0M295.8 415.3h0M305.9 434h0M307.4 432.3h0M293.9 416.8h0M294 396.1h0M296.2 422.1h0M302.6 429.5h0M305 429.9h0M314.2 440.3h0M298.5 423.4h0M295.1 419.4h0M294.2 400.1h0M303.7 431.2h0M294 412.8h0M302.3 429.8h0M294.7 417h0M293.2 407.2h0M302.6 427.5h0M293.3 412.5h0M311 435.6h0M303.6 428.5h0M293 400.9h0M299.6 424.4h0M294.8 417h0M294.2 412.8h0M299.1 425.3h0M310.3 426.8h0M300 402.5h0M312 424.7h0M294 416.6h0M300.8 414.8h0M299.6 419.8h0M292.9 412.6h0M303.5 414h0M322 410.3h0M323.5 421.2h0M305.1 427.4h0M309.6 402.7h0M312.8 432.4h0M297.4 399.8h0M326.2 394.8h0"/>
<path stroke="#7F55F3" d="M394.6 96h0M273.9 284.2h0M325.4 446.7h0M255 262h0M349.7 458.3h0M542.9 420.9h0M264.6 283h0M399.3 102.8h0M268.4 248.8h0M311.2 372.2h0M290 283.5h0M514.2 448.1h0M522.1 194.3h0M303.9 381.4h0M456.9 90.7h0M479.9 461.3h0M503.6 132.9h0M479.9 461.1h0M552.8 387.8h0M339.7 357.6h0M504.7 452.4h0M328.1 366.7h0M416.6 471.1h0M526.8 270.6h0M526.5 200.1h0M523 194.8h0M523.7 305.6h0M245.6 272.8h0M270.2 246.3h0M295.7 285.2h0M447.7 88.5h0M412.4 80h0M376.7 134.6h0M526.7 317h0M542.9 420.3h0M256.9 259.5h0M491.4 102.9h0M510.5 450.7h0M320.2 322.1h0M541 421.4h0M531.7 208.8h0M497.1 137.6h0M418.1 117.2h0M267 232.8h0M477.1 464h0M268.8 236.8h0M485 457.8h0M311.8 177.5h0M501.8 133.6h0M484.9 460.5h0M524.4 310.6h0M484 143.2h0M279.6 204.5h0M256 262.5h0M473 464.1h0M457.1 89.4h0M303.7 377.5h0M309.7 374h0M442.2 469.6h0M255.8 263h0M367.5 141.9h0M362.5 143.2h0M268.9 236.2h0M527.4 276.7h0M549.4 407.1h0M528.9 262.2h0M415.2 120.3h0M496.8 168.4h0M510 180.4h0M528.6 261.2h0M525.3 322.8h0M515.3 184.2h0M485.8 99.6h0M322.4 329h0M398.6 87.2h0M508 130.2h0M244.6 272.7h0M318.6 174.3h0M482.4 153.7h0M268.1 227.8h0M287.8 286.3h0M308.8 292.9h0M438.4 470.7h0M533.6 222.7h0M306.2 185.5h0M424.8 84.1h0M412.5 129.1h0M512.6 449.3h0M410.8 469.2h0M532.2 206.5h0M506.3 175.6h0M525.6 303.1h0M524.4 299.1h0M359.7 147.4h0M465.8 466.1h0M333.8 452.3h0M456.1 466.6h0M371.8 140.3h0M508.3 450.7h0M270.2 245h0M336.8 449.7h0M528.9 203.7h0M350.4 457.7h0M525.8 322.2h0M481 153.7h0M496.9 455.6h0M304 377.7h0M385.2 465.2h0M271.6 246.4h0M530.3 251.7h0M340.3 453.7h0M308.1 374.9h0M326.5 332.2h0M521.1 193.1h0M325.9 445.9h0M542 417.9h0M435.4 85.9h0M319 322.1h0M275.3 282.9h0M527.3 326.5h0M272.1 242.7h0M317 441.4h0M300 189.1h0M403.2 104.4h0M340.4 453.6h0M278.4 204.9h0M293.1 284.5h0M280.1 203.6h0M530.9 245.7h0M446.2 88.7h0M506.8 132.4h0M324.8 331.4h0M417.4 119.6h0M480.2 460.6h0M447.4 86.6h0M524.3 440.9h0M406.8 106.8h0M533.2 345.6h0M489.6 163h0M524.8 267h0M540.9 361.4h0M292.9 408.1h0M392.8 94h0M261.6 282.6h0M291.7 283.6h0M298.6 287.5h0M483.8 151.3h0M313 306.2h0M304.3 379.8h0M524.9 306.6h0M415.5 111.2h0M524.8 321.8h0M480.2 154.5h0M483.5 461h0M316.9 175.2h0M359.4 462.2h0M528.1 261.6h0M287 282.4h0M426.7 85h0M288.2 198.7h0M492 458.3h0M268.7 244.8h0M533.9 430.1h0M343 158.7h0M407.2 128.9h0M422.6 471.4h0M300.3 187.8h0M527.7 273.7h0M400.1 103.3h0M551.9 382.6h0M397.1 130.1h0M310.8 178.6h0M306.3 291.5h0M350.2 150.9h0M379.7 136.4h0M524.2 198.3h0M287.9 283.4h0M334.5 450.9h0M355.6 461h0M386.2 131.8h0M527.5 269.2h0M545.1 371.7h0M318.1 319.3h0M547.7 413.4h0M336.7 362.7h0M504.2 452.6h0M271.9 283.8h0M400.3 82.9h0M409.7 128.8h0M419.1 472h0M455.6 468.5h0M369.1 140.6h0M418.4 117.9h0M478.8 95h0M526.8 328.2h0M397.2 100.8h0M326.9 334.9h0M251.2 265h0M546.2 417.2h0M341.5 155.6h0M284.9 199h0M451.9 467.8h0M534.3 433.3h0M521.2 193.7h0M549.1 408h0M379.5 134.7h0M333.6 450.5h0M399.1 466.6h0M397.3 99h0M505.8 122h0M464.4 89.9h0M394.5 130.1h0M289.1 195.4h0M539.5 427.2h0M552.1 384.6h0M270.9 284.1h0M406.3 106.7h0M443.3 470.3h0M312.5 302.1h0M518.1 444.1h0M394.4 129.5h0M334.2 363.7h0M278.4 283.6h0M434.9 85.8h0M528 204.9h0M424.7 84.3h0M497.6 138.3h0M314.2 302.5h0M483.9 98h0M284.9 283.2h0M264.6 253.6h0M346.6 456.7h0M524 315.2h0M507.3 124.4h0M496.9 138.1h0M545.5 370.3h0M318.6 315h0M439.5 86.1h0M506.9 450.1h0M482.7 148.9h0M405.8 469.3h0M276.3 283.4h0M453.9 467.7h0M319.8 319.7h0M339.1 342h0M480 461.3h0M315.5 306.4h0M524.6 282.4h0M388.8 132.1h0M342.6 454.7h0M531.9 249.6h0M491.9 139.4h0M495.6 457.7h0M487.5 143.1h0M270.2 243.9h0M399.3 104.1h0M455.6 468.6h0M495.5 456.1h0M527.9 331h0M317.4 310.7h0M525.1 438.9h0M357.1 147.9h0M534.4 228.5h0M496.3 138.1h0M280.3 204h0M357.5 148.7h0M282.4 282.5h0M478.3 96h0M264.3 255.4h0M527 323.5h0M503.8 117.9h0M275.4 285.4h0M525.5 303.6h0M297.7 384.2h0M396.4 85.9h0M393.7 89.3h0M268.1 230.2h0M508.5 128.4h0M397.4 467.8h0M525.3 292.1h0M504.9 121.5h0M400 129.5h0M466.8 88.9h0M503.6 174.9h0M340.9 358.5h0M533.5 429.8h0M461.3 466.8h0M553.3 396.7h0M545 413.6h0M330.2 337.2h0M488.1 459.1h0M522.7 305.6h0M316.6 369.1h0M536.8 426.9h0M391.3 132.1h0M541.1 364.7h0M471.4 464.1h0M338.9 162h0M536.7 430.7h0M508.4 127h0M319.6 369.4h0M384.9 467.2h0M325.3 171.7h0M328.7 333h0M524.6 321.9h0M405.3 78.9h0M318.8 370.3h0M301.5 187.7h0M311.8 300.2h0M526.9 437.1h0M539.1 427.5h0M270.1 233.2h0M269.3 231.9h0M516.8 186.9h0M345.2 351.9h0M336.8 340.1h0M489.8 161.9h0M528.6 264.7h0M403.3 468.9h0M533.8 214.3h0M344.1 348.4h0M463.5 89.7h0M339 158.8h0M334.8 362h0M344.1 454.9h0M377.6 465.3h0M339.6 452.8h0M248.6 278.7h0M271.4 242h0M529.2 340.7h0M369.7 140.6h0M301.7 288.4h0M338.7 161.7h0M537.3 359.4h0M335.5 362.1h0M328.2 365.7h0M305.1 186.5h0M538.9 425.4h0M376.5 136.4h0M533.3 217h0M333.7 449.3h0M363.5 142.8h0M268.5 236.4h0M318.9 442.2h0M290.1 282.9h0M515.3 186.7h0M506.6 130.6h0M552.4 388.8h0M378.4 463.2h0M277.4 206.3h0M442.5 87.3h0M461.1 89.5h0M307.5 373.6h0M524.8 308.1h0M394.8 96.5h0M541.8 420.7h0M341.2 343.5h0M386.3 132.5h0M284.5 201.1h0M273.3 282.4h0M407.1 109.3h0M272.2 238.8h0M344.6 456.2h0M432 473.1h0M525.6 294.1h0M377.9 136h0M455.5 90h0M317.6 368.8h0M502.1 118h0M552.6 382.9h0M244.9 274.5h0M330.2 448.4h0M243.3 272.6h0M315.2 308.7h0M255.7 279.5h0M394.5 466.9h0M500.5 114.1h0M416.3 118.6h0M383.4 132.7h0M400.6 104.8h0M535.5 354h0M534.4 215.2h0M534.9 429.8h0M459.7 88.5h0M357.6 147.8h0M487.7 99.5h0M343.4 358.1h0M342 357.3h0M395.7 97.7h0M313.8 308.6h0M477.3 94.7h0M313.5 304.4h0M322 368h0M527.5 201.7h0M524.6 325.5h0M256.2 261.1h0M319.2 441.6h0M525 313.7h0M460.5 89.7h0M264.2 282.6h0M504.7 178.2h0M325.3 366.5h0M521.7 441.6h0M432.1 471.3h0M519.6 189.1h0M312.5 437.5h0M400.9 131.6h0M518.2 187h0M494.3 109.1h0M293.7 284.5h0M290 283.8h0M357 147.8h0M526.9 283.7h0M524.7 291h0M531.4 249.4h0M351.3 458h0M514.4 186.2h0M488.8 163.9h0M498.3 135.6h0M545.4 413.8h0M504.6 121.7h0M365.9 462.5h0M297.3 192.9h0M488.9 143.3h0M312.9 369.9h0M355.1 459.1h0M456.2 88.6h0M245.8 277.3h0M345.9 349.4h0M502.5 118.3h0M479.2 96.5h0M510 450.8h0M520.5 192.3h0M283.8 201.1h0M369.4 140.1h0M529.3 254.6h0M415.4 128.2h0M322 368.3h0M247.6 279.5h0M333.1 337.2h0M533.7 229h0M544 370.6h0M323.4 330.1h0M482 152.6h0M259.4 257h0M524.7 295h0M529.9 341h0M326.9 166h0M554.9 394.4h0M524.5 284.9h0M262.9 256.2h0M553.5 395.7h0M496.5 138.4h0M534.5 351.7h0M344.2 349h0M547.2 414.2h0M413.5 110.6h0M348.9 457.6h0M404.2 466.3h0M544.9 418.7h0M540.7 423.6h0M327.8 333h0M279.9 283.1h0M448 468.7h0M293.4 195.6h0M396.1 84.4h0M527.9 271.2h0M318.4 367.7h0M463.6 89.3h0M486.4 102h0M481.8 153.2h0M502.1 118h0M299.5 288.8h0M484.1 459.7h0M400.5 129.6h0M498.2 112.1h0M396.6 84.2h0M529 256.1h0M406.9 468.7h0M317.7 310.1h0M400.7 130.3h0M397.2 99.1h0M535.5 225.1h0M548.1 375.7h0M269.3 234.8h0M361.9 144.1h0M528.5 334.5h0M525.2 321.3h0M384.6 465.4h0M533.1 235.6h0M467.7 463.9h0M433.5 88h0M302.1 381.2h0M408 80.2h0M312.9 304.1h0M525 287.5h0M526.6 333.5h0M284.4 282.9h0M366.1 142.4h0M351.3 458h0M408.6 107.6h0M527.7 259.9h0M434 471.7h0M410.3 80.3h0M316.7 315h0M290.1 196.1h0M530.8 342.3h0M477.7 96h0M290.5 284.1h0M269.5 219.9h0M278.4 283.2h0M407.6 107.4h0M509.2 127.3h0M503.7 120h0M405.3 79.2h0M554 391.9h0M467.6 89.7h0M441 86.2h0M486.4 144.1h0M503.7 120h0M310.7 297.2h0M313.4 370h0M280.4 284.1h0M325 444.5h0M472.5 466h0M320.9 172.2h0M356.8 460.4h0M532.4 214.7h0M530.1 204.7h0M303.5 381.6h0M272 216h0M528 262.6h0M346.1 352.1h0M409.4 468.5h0M271.5 240.9h0M522 440.5h0M499.4 135.5h0M483.2 100.6h0M327.5 366.6h0M379.1 465.2h0M270 224.8h0M523.8 441.1h0M525.5 320.2h0M528.8 207.5h0M401.5 82.2h0M259.7 282.4h0M280.4 282.1h0M393.3 92.4h0M268.6 249h0M483 153.2h0M524.7 438.4h0M472.3 463.4h0M457.6 468.3h0M337.7 162h0M335.2 336.3h0M469.2 91.1h0M529.7 258.8h0M268.2 229.2h0M505.4 131.5h0M341.4 343.3h0M392.9 93h0M332 335h0M453.5 468.3h0M415.7 120h0M496.3 108.6h0M322.3 170.7h0M511.3 447.9h0M290.3 197.4h0M430.4 85.4h0M341.8 454.1h0M522.1 194.2h0M496.8 455.5h0M498.2 137.4h0M428 86h0M495.1 108.3h0M499 454.3h0M375.3 137.4h0M552.9 389.2h0M459.2 468.8h0M269.9 238.5h0M431.6 471.5h0M280.9 282.7h0M326 445.7h0M412.2 81.1h0M551.9 379.3h0M503.5 118.8h0M526.7 326.1h0M467.7 90.9h0M494.7 106h0M344.3 152.6h0M478.2 464.1h0M553.7 391.4h0M541.7 420.1h0M346.9 455.9h0M550.6 408.2h0M541.3 361.2h0M380.9 466.7h0M465.8 90.6h0M342 159.2h0M370.4 462.9h0M525.6 438.7h0M536.3 427.1h0M534.4 237.8h0M394 93.6h0M290.4 194.6h0M501.5 454.9h0M460.6 466h0M502.2 134.3h0M528.8 206.5h0M247.3 271.5h0M281.4 283.3h0M413.8 80.2h0M337.5 159.3h0M266.5 251.9h0M532.2 209.2h0M467.7 465.6h0M253.2 264.4h0M545.9 416.4h0M319.1 324.1h0M498.3 137.7h0M272.8 240.9h0M531 344.9h0M537.2 226h0M398.3 131.2h0M538 362.4h0M520.7 194.1h0M546.4 372.6h0M513.2 186.6h0M512.9 183h0M543.5 368h0M516.1 444.6h0M348.5 457.2h0M321.2 369.6h0M458.9 467.4h0M395.9 97.6h0M434.1 472.5h0M524 290h0M399.5 81.7h0M267.7 248.3h0M423.3 469.3h0M379.2 134.1h0M353.8 148.1h0M266 227.8h0M272.9 284.5h0M336.1 340.9h0M311.3 371.8h0M378.5 465.9h0M399.3 100.4h0M434 470.3h0M321.3 443.9h0M439 86.3h0M251 280.1h0M317.9 319.8h0M322.2 172.5h0M446.8 87.5h0M355.3 458.7h0M530.4 253.8h0M509.4 448.7h0M341.2 359.7h0M422.5 82h0M534.8 214.6h0M336.3 163.5h0M317.6 441.5h0M525.3 304.6h0M528.1 265.2h0M344.1 454.8h0M392.9 92.5h0M287.4 283.3h0M319.3 367.3h0M440.7 469.6h0M518.9 443.6h0M405.2 129h0M299.2 387.8h0M314.3 368h0M495.9 109.6h0M263 254.3h0M256.2 281.8h0M507.7 132.8h0M339.8 344.3h0M512.8 184.4h0M259.2 282h0M271 237.3h0M467.7 91h0M549.1 377.4h0M533.4 218.4h0M533.1 210.9h0M504.3 119.5h0M530.2 205.8h0M410.2 128.4h0M310.4 181.2h0M322.5 368.2h0M551.8 401.7h0M456.6 89.1h0M542.8 422.7h0M399.5 103.2h0M481.8 153.7h0M349.6 457h0M523.9 199.8h0M510.4 179.3h0M268.8 250.4h0M415.2 118.8h0M395.8 96.1h0M371.2 464.1h0M317.5 316.3h0M487.8 101.8h0M311.7 299h0M554.2 391.9h0M393.8 97h0M505 451.9h0M319.8 322.3h0M379 465.8h0M330.9 333.9h0M417.1 80.9h0M513.8 182.9h0M345.4 152.4h0M373.2 464.2h0M321.9 326.5h0M275.7 209.4h0M277.6 208.8h0M525.4 302.6h0M526 281.5h0M519.1 189.5h0M264.9 255.3h0M515.7 447.7h0M524 284.9h0M342.1 345.4h0M553.9 395.3h0M541.6 363.3h0M497.2 112.3h0M542 419.7h0M524.2 300.1h0M404.8 79h0M400.7 79.6h0M394.2 465.9h0M304.7 379h0M305.3 375.6h0M394.4 90.9h0M442.2 469.1h0M527.7 330h0M455.1 89.3h0M425 83.7h0M268.6 250.3h0M380.7 135h0M352.2 152.3h0M527.9 203.7h0M471.4 92.4h0M530.5 340.7h0M532.9 346.9h0M538.2 426.7h0M403.4 468.7h0M494.2 168.6h0M320.5 368.7h0M536.3 352.5h0M529.8 254.7h0M395.2 95.8h0M392.3 131.4h0M255.6 261.1h0M304.6 185.2h0M314.2 305.8h0M436.9 470.6h0M491.3 104.5h0M350.7 152.8h0M295.3 285.9h0M401.7 102.9h0M332.6 338.9h0M303.3 291.2h0M343.3 343.5h0M452.8 87.4h0M273.7 211.2h0M322.8 329.3h0M528.5 434.6h0M552.5 384.4h0M534.9 353.2h0M396.7 84.2h0M553.3 400.2h0M383.6 133.5h0M296 392.7h0M499.3 170.8h0M427.6 85.4h0M466.8 464.1h0M542.1 369.4h0M413.3 80.1h0M413.1 79.1h0M375.4 463.3h0M434.1 85h0M289.3 197.7h0M547.2 413.1h0M393.1 88.8h0M320.2 370h0M533.8 232.9h0M342.1 342.5h0M490.8 457.9h0M502.4 117.7h0M426.2 470h0M338.7 454.7h0M299.7 386.5h0M499 168h0M497.9 138h0M326.4 169.7h0M395.7 469.1h0M399.6 84.9h0M340.2 359.1h0M382.2 135.2h0M338.1 362.1h0M548.5 409.4h0M315.2 309.2h0M324.1 328.4h0M343.8 349.2h0M483.4 96.9h0M390.8 131.7h0M334.5 450.9h0M360.1 145h0M480 94.8h0M315 370h0M530.3 341.9h0M395.4 88.5h0M401.3 104.7h0M525.5 439.3h0M531.8 342.4h0M446.4 87.1h0M497.6 110h0M387.7 131.9h0M271.6 242.6h0M266.4 249.2h0M314.5 304.6h0M328.3 365.8h0M320.4 367.8h0M358.3 460.5h0M330.6 165.1h0M486.2 143h0M274.3 282.2h0M290.8 198.1h0M513.8 184.2h0M535.7 230h0M321 368.1h0M512.9 184.3h0M296.9 190.9h0M522.3 440.1h0M258.4 256h0M312.3 370.7h0M434.4 85.8h0M371.8 139.2h0M549.4 406h0M552.9 385.8h0M277.9 283.8h0M368.8 137h0M276.7 206.2h0M442.3 470.4h0M528.3 325.8h0M278.9 283.6h0M356.8 147.3h0M351.6 457.3h0M496.3 455.4h0M534 224.6h0M550.6 380.5h0M270.9 283h0M278.4 205h0M271.3 245.1h0M483.9 144.8h0M525.3 331.2h0M507.9 122.9h0M298.5 388.5h0M502.8 118h0M527 276.6h0M302 289.7h0M342.1 158.5h0M358 148.5h0M484.3 460.2h0M523.5 304.1h0M341.7 156.5h0M492.7 108h0M270.7 232.3h0M265.2 282.5h0M286.7 198.1h0M405.4 468.6h0M269.6 248.4h0M316.8 370.2h0M333.8 338.1h0M522.9 195.5h0M499.3 455h0M342 344.9h0M524.1 307.1h0M294.1 194.7h0M483.9 157.9h0M255.7 279.5h0M530.5 249.2h0M287.4 284.5h0M416.9 80h0M530.7 246.7h0M354.5 457.7h0M341.6 454.5h0M509.6 178.7h0M498.2 453.5h0M392 467h0M328.5 167.4h0M517.5 192.8h0M327.7 448.8h0M316.6 308.8h0M517.4 446.7h0M402 129.9h0M404.3 106.1h0M400.9 103.8h0M551.5 401.1h0M264.2 282.4h0M498.9 112.8h0M524.9 307.6h0M533.1 212.5h0M316.9 308.7h0M318.5 311.4h0M392.9 467.9h0M404.8 129.4h0M440.4 471.2h0M538.8 425.3h0M294.7 193.8h0M539.2 358.3h0M533.4 352.2h0M525.3 311.1h0M527.1 200.3h0M340.5 341.2h0M253.8 281.2h0M269.5 283.5h0M270.5 219.4h0M369.6 462h0M318.5 318.6h0M344.3 355h0M532.5 347h0M318.3 370.2h0M415.8 120h0M367 141.9h0M402.5 106.3h0M404.3 129.3h0M257.9 280.9h0M380.1 134.8h0M321.6 368.5h0M358.5 461.5h0M303.5 376.7h0M311.2 178.4h0M260.4 258.8h0M497.1 168.8h0M505.7 132.6h0M301.1 288.4h0M392.4 467.7h0M524.1 293.5h0M275.3 205.9h0M296.4 286.1h0M527.5 201.1h0M320.5 324h0M307.7 374.4h0M244.7 271.9h0M277 204.2h0M351.4 459.2h0M503.1 172.5h0M539.5 358.8h0M491.5 105.7h0M526 288.1h0M525.7 294.1h0M398.8 83.8h0M328.9 333.5h0M488.5 460.2h0M506.1 121.2h0M490.1 101.4h0M487.7 163.8h0M314.4 177.6h0M509.2 178.4h0M516 184.9h0M322.5 171.1h0M421.2 81.2h0M406.2 128.4h0M527.8 202.7h0M532.2 245h0M511.9 446.9h0M403.8 129.6h0M506.7 133.1h0M533.2 349.5h0M326 169.1h0M322.1 326.4h0M326.4 331.8h0M306.8 291.8h0M286.4 284.2h0M480.1 158.7h0M524.7 439.9h0M441.7 469.6h0M495.5 167.6h0M531.8 242.9h0M266.5 283.6h0M397.2 95.9h0M364.6 143.8h0M481.2 95.8h0M552.8 402.1h0M283.9 282.7h0M525.1 292.1h0M345.5 350.1h0M495.7 138.1h0M324 330.2h0M503 171.8h0M324.5 329.8h0M531.1 432.9h0M506.2 178.7h0M331.1 364.8h0M475.9 94.4h0M379.5 136h0M328.1 447h0M528 257.9h0M452.9 468h0M513.3 185.3h0M262.5 283.6h0M506.8 131.7h0M359.1 145.3h0M412.2 78.5h0M257 280.6h0M353.3 149.3h0M525.7 280h0M484.3 158.1h0M326.4 168.8h0M250.7 281.1h0M498.6 169.3h0M535 229h0M541.4 421.1h0M495.9 455.8h0M320.5 171.6h0M297.1 287.9h0M273.1 212h0M334.6 363.4h0M264 255.1h0M480.6 155.2h0M357.3 145.1h0M415.7 121.4h0M274.7 207.3h0M527.8 199.2h0M345.8 348.9h0M416.2 112.5h0M353.1 148.8h0M407.9 79.6h0M264.2 256h0M305.8 182.7h0M508.3 180h0M321.8 327.1h0M344.9 353.6h0M525.5 304.6h0M320 443.3h0M488.7 103h0M272.4 283.9h0M339 340.6h0M524.6 302.1h0M337.9 361.1h0M420.3 82h0M404.4 105.2h0M508.9 126.2h0M540.6 361.6h0M491.3 103.7h0M411.7 78.8h0M476.9 94.4h0M515.5 186h0M554 393.8h0M351 151.2h0M496.4 110.4h0M271.8 214.7h0M248.2 279.4h0M420.7 82.4h0M483.8 156h0M544.6 417.3h0M397.4 99.5h0M472.1 462.8h0M477 94.3h0M315.1 310.8h0M273.9 209.1h0M461.7 88.7h0M287.7 199.7h0M530.5 339.7h0M290.5 283.8h0M342.3 356h0M309.7 372.6h0M337.6 451.4h0M496.1 138.7h0M256.5 282.6h0M525.4 299.1h0M444.9 86.5h0M328.1 168.6h0M417.6 471.5h0M506 118.7h0M334.9 450.2h0M482.8 460.4h0M533.2 245.8h0M310 300.5h0M346 345.6h0M527.3 264.6h0M488.4 101.8h0M258.5 280.7h0M286.9 283.2h0M375.8 137.4h0M343.5 156.1h0M423.1 81.7h0M267.4 228.8h0M446.7 469.6h0M408.7 129.2h0M416.6 119.8h0M497.6 401.1h0M335 304.4h0M424.3 413.3h0M412.5 269.3h0M434.8 213.4h0M272.3 260.2h0M518 424.4h0M469.7 157h0M455.8 396.8h0M466.5 322.6h0M318.9 229h0M488.3 295.2h0M510.5 324h0M364.3 201.1h0M522.5 357.4h0M523.9 292.6h0M365.8 409.2h0M325.8 324.3h0M377.1 264.6h0M486.3 313.7h0M381 279.9h0M300.7 235.6h0M363.9 282.1h0M390 345.2h0M442.1 182.7h0M495.3 232.1h0M363.5 156h0M482.6 209h0M380 258.7h0M524.9 257.4h0M368.2 363.4h0M482.6 362.1h0M521.4 384.7h0M514.1 361.5h0M408.1 215.4h0M330.8 439.4h0M453.7 253.6h0M388.4 292.3h0M396.8 297.6h0M513.5 294.6h0M493.2 436.6h0M337 424.5h0M428.7 350.3h0M344.7 281.8h0M484.8 375.6h0M519.4 272.1h0M421.9 163.6h0M349.8 311.5h0M451.5 167.7h0M373 247.6h0M472.4 274.4h0M422.7 148.2h0M429.2 264.1h0M366.1 192.3h0M360.5 382.5h0M518.1 400.8h0M455 266.1h0M382.6 353.4h0M343.7 418.2h0M490.4 381.3h0M351.5 285.9h0M435.4 163.7h0M478.2 136.8h0M338.3 275h0M360.1 196.1h0M341.3 442.6h0M366.3 433.2h0M455.6 124.1h0M388 409.5h0M430.6 203.7h0M404.1 460.5h0M346.2 206h0M427.3 369.8h0M450.4 91h0M372.6 379.2h0M384.7 370.5h0M450 313.2h0M485.3 284.5h0M489.8 454.3h0M395.1 381.7h0M517.9 347.7h0M486.6 221.4h0M311.6 244.7h0M418 86.5h0M521.3 439.2h0M387.4 303.9h0M380.9 347.9h0M518 197.6h0M334.6 174.6h0M405.4 316.4h0M324 279.6h0M506 447.1h0M442.9 322.7h0M332.5 166h0M536.5 389.4h0M411.3 254.2h0M300 260.9h0M470.8 217.8h0M450.1 239h0M436.4 331.2h0M411.6 413.2h0M453.8 102.8h0M499.8 227.8h0M460.7 105.6h0M277.1 224.3h0M458.5 390.6h0M382.8 255.7h0M468.4 210h0M265.5 260.9h0M393.2 303.1h0M461.5 106.4h0M310.6 191.1h0M498.9 365.4h0M324.6 294.7h0M343 416.1h0M498.3 319.6h0M425.8 397.4h0M415.9 219.6h0M325.1 325.9h0M531.1 242.1h0M408.4 399.7h0M289.4 232.6h0M460.6 108.3h0M336.7 213.6h0M423.1 111.2h0M360.9 211.4h0M477.4 164.2h0M441.2 104.8h0M344.1 414.7h0M312.2 381.9h0M520.2 299h0M433.4 271.8h0M508.5 185.9h0M482 284.2h0M421.8 332h0M353.8 382.7h0M427.6 226.8h0M513.5 382.5h0M449.3 256.2h0M534.5 424.2h0M475.3 97.1h0M471.1 109.3h0M467.7 324.5h0M480.6 318.2h0M455.5 437h0M454.7 339.5h0M467.4 454.6h0M366.1 421.2h0M411.5 361h0M440.4 136.2h0M360.9 319.5h0M394.2 390.3h0M488.6 237.1h0M481.1 424.3h0M373.1 447.5h0M345.7 399.2h0M481.6 398.2h0M391.1 254.4h0M406.8 365.3h0M513.4 442.1h0M332.8 289.7h0M515.5 194.9h0M493.9 458.9h0M519.1 207.5h0M417.7 104.7h0M376.9 392.3h0M388.3 201.2h0M500.5 120.7h0M403.3 405h0M304.2 245.3h0M491.5 131.1h0M418.2 289.5h0M520.3 372.1h0M489.9 426.9h0M435.4 470.7h0M445 325.1h0M419.1 129.6h0M488.2 128.4h0M501.7 429.3h0M398.5 342.8h0M342.1 384.5h0M437.2 137.1h0M512.2 355.2h0M383.7 215h0M441.7 395.5h0M543.7 420.9h0M500 272.8h0M356 314.4h0M290.7 234.3h0M518.7 319.2h0M388.6 427.6h0M426.3 322h0M362.8 462.2h0M334.6 325.4h0M472.6 265.7h0M475.7 303.6h0M393.7 302.5h0M366.3 428.6h0M517.3 380.5h0M352.6 189.9h0M485.5 128.7h0M487.3 258.5h0M381.7 221.5h0M347.4 357.6h0M317.2 175.8h0M385.2 312.1h0M448.7 150.7h0M505.5 129.1h0M492.5 265.2h0M378 315.1h0M412.4 83h0M501.2 277.3h0M324.4 399.5h0M446.5 113.1h0M440.4 402.5h0M454.4 233.3h0M437.7 308.1h0M282.2 235.3h0M315.5 271.1h0M494.4 328.2h0M433.1 403.8h0M418 429.1h0M515 202.5h0M498.6 271.5h0M364.2 350.9h0M361 343.3h0M433.6 151.3h0M417 287.1h0M419.5 331.4h0M388.3 401.2h0M395.6 312.3h0M457.3 400.8h0M416.1 346.6h0M424 245.7h0M324.7 209h0M400 140.4h0M460.9 390.7h0M330.6 294h0M323 248h0M321.8 439.9h0M393.7 313.3h0M398.7 265.2h0M409.3 309.3h0M502.3 286h0M421.9 91.4h0M523.9 415.1h0M452.3 315h0M483.1 362.2h0M426.5 334.7h0M421.5 437.9h0M456.3 211.4h0M471 325.7h0M376 220.6h0M467.1 363.9h0M325.2 378.7h0M336.4 323.1h0M392.4 322.4h0M419.7 169h0M353 458.4h0M440.5 355.5h0M435.7 272.3h0M435.5 95.8h0M456.2 129.6h0M376.9 183.7h0M534.6 430h0M484.4 319.8h0M390.9 256.5h0M286.7 238.1h0M462.5 315.1h0M387.9 280.3h0M374.5 274.5h0M416.7 132.7h0M387.9 360.7h0M315.5 246.7h0M432.1 468.6h0M490.8 389.1h0M475.9 437.9h0M461.4 391.1h0M509.1 181.2h0M518 244.7h0M502.9 275.3h0M493.4 451.9h0M491.7 290.9h0M535.8 412.4h0M417.7 414h0M286.8 218.7h0M482.3 107.9h0M363.9 239.1h0M353.2 353.4h0M289 242.7h0M500.5 346.7h0M450.5 414.6h0M504.6 353.6h0M398.7 94.3h0M481.8 446.9h0M348 431.7h0M503.2 370.5h0M461.2 202.6h0M500.6 253.2h0M480.2 412.9h0M439.8 156.8h0M486 273.7h0M493 112.3h0M445.2 124.3h0M443.5 194.8h0M487.3 223.8h0M479.5 286.8h0M460.9 169.6h0M500.7 327.6h0M466.3 178.9h0M396.3 154.8h0M352 220h0M511.3 193.8h0M276.1 241.5h0M451.9 337.6h0M290 219.2h0M312 217.1h0M531.2 373h0M521.8 424.7h0M457.4 159.5h0M454.4 365.9h0M364.7 340.4h0M462.4 96.7h0M478.8 345.5h0M395.9 374.5h0M338.8 386.6h0M437.6 236.8h0M355.1 241.4h0M356.7 410.1h0M372.4 451.5h0M369.1 207.4h0M530.5 343.4h0M335.4 386h0M269.3 263.2h0M428.1 339.5h0M445 296.6h0M412.9 209.8h0M427 310h0M374 448.6h0M330.9 397.7h0M397.1 86.5h0M422.8 113.1h0M433.4 369.4h0M499.4 368h0M475.1 294.6h0M442.7 434.2h0M298.9 214.7h0M486.1 255.3h0M459.6 290h0M518.2 295.2h0M500 445.5h0M465.5 122.8h0M352.3 381.3h0M471 377.3h0M451 422.9h0M511.6 447.3h0M262.1 278.9h0M506.1 385.6h0M492.8 392.2h0M535.1 221.8h0M489.7 329.9h0M401.4 199h0M349.5 393.8h0M309.4 376.8h0M342.7 245.4h0M469.3 204.6h0M425.8 222.3h0M393.7 344.1h0M492.8 135.2h0M400.1 463.2h0M440.3 162.7h0M537.5 363h0M507 371.6h0M426.1 137.4h0M424.6 115.1h0M452.5 361.3h0M407.7 155.1h0M470 192.3h0M472.6 292.3h0M374.3 317.2h0M405.6 250.8h0M369.2 252.6h0M372.6 212h0M422.6 354.9h0M322 314.4h0M364.9 409.6h0M356.4 328.9h0M321.6 388.8h0M521.8 237.7h0M406.7 287.9h0M346.4 239.7h0M380.1 167.1h0M400.5 342.4h0M465.2 275.3h0M344.9 414.7h0M333.5 367.7h0M482.1 365.9h0M338.3 380.8h0M280.9 257h0M273 282.2h0M377.4 158.5h0M333.8 306.7h0M334.3 377.7h0M430 221.4h0M431.7 329.8h0M419.1 337.6h0M363.8 320.1h0M498.3 379.2h0M414.8 197.3h0M436.4 229.1h0M456.7 144.3h0M414.5 328.4h0M294.7 236.1h0M483.4 336.3h0M362 353.4h0M464.8 221.1h0M412.5 463.7h0M484.1 230h0M434.5 426.8h0M363.8 293.6h0M304 273.6h0M450.2 387.2h0M454.5 163.7h0M460.1 170.7h0M409.8 388.2h0M343.8 397.5h0M321.4 425.1h0M329 254.9h0M402.8 185.2h0M312 265.1h0M463.1 364.1h0M392 430.3h0M302.8 275.9h0M448.1 339.8h0M376.2 187.3h0M525.8 277.6h0M326.2 396.6h0M441.9 176.5h0M478 380.1h0M494.2 198h0M308.3 262.6h0M277.3 265.1h0M376.7 172.5h0M437.6 461.6h0M416.6 380.4h0M445.9 446.6h0M479.5 240.9h0M396.5 372.6h0M436.9 253.9h0M436.7 173.4h0M495 432.5h0M358.6 210h0M423.2 334.7h0M481.3 345.3h0M451.4 214.7h0M476.1 310.1h0M316.4 387.7h0M330.5 214.5h0M437.3 376h0M507.3 128.9h0M471.2 372.8h0M536.5 429.9h0M474.7 165.3h0M473 411.4h0M542 398h0M386.5 264.6h0M431.3 405.1h0M427.7 169.4h0M385.6 458.6h0M410.2 150.3h0M511.3 351.2h0M267.5 251.9h0M369.6 289.4h0M458.8 368.6h0M497.9 423h0M452.5 105h0M525.5 224.6h0M320.1 306.6h0M391.1 132.7h0M314.7 413.8h0M439.5 279.6h0M437.3 386.2h0M467.5 379.5h0M418.7 176.8h0M446.6 471.8h0M410.2 180h0M397 335.9h0M478.3 301h0M308.9 242.3h0M436.6 182.8h0M319 279h0M284.1 208.1h0M463.6 201.6h0M399.3 252h0M325.5 221.9h0M424 373.4h0M462.9 183.6h0M523.6 343.1h0M462.2 352.8h0M370.7 332.5h0M414.4 304h0M405.5 358.9h0M512.6 373.6h0M333.5 292.9h0M341.9 305.4h0M499.5 273.6h0M474.5 426.6h0M396.5 432.2h0M375.9 236.5h0M291.1 251.8h0M420.6 374.1h0M511.9 371.4h0M269.9 269.9h0M284.2 224h0M464 419.2h0M502.3 302.8h0M509.8 252.7h0M322.7 378.4h0M529.1 234.6h0M535.2 424.2h0M394.5 228h0M406.8 381.4h0M528.8 363h0M437.7 235.3h0M394.6 387h0M470.8 427.7h0M464.7 286.4h0M287.5 266.9h0M415.1 403.5h0M334.6 285.9h0M461.5 431.8h0M449.5 424.9h0M376.8 380.3h0M269.4 231.2h0M527.5 394.7h0M471.3 321.7h0M502.5 324.5h0M381.4 245.5h0M409.3 461.7h0M365.3 262.7h0M504.5 243.1h0M522.2 404.1h0M379.6 259.1h0M454.5 151.7h0M407.8 150.9h0M485.5 222.8h0M477 310.9h0M385.6 399.5h0M423.7 349.7h0M457.2 203.2h0M480.6 372.9h0M452.6 254.7h0M485.9 329.7h0M327.3 401.4h0M347.8 397.2h0M444.1 277.8h0M422.9 437.4h0M342.4 379.9h0M378.3 213.4h0M355.7 200.7h0M404.5 465.7h0M322.8 245.5h0M370.3 291h0M517.8 403.5h0M499.7 376.4h0M297.9 235.6h0M418.3 106.9h0M520.9 304h0M425.5 472.1h0M391.5 362.9h0M433 272.1h0M346.9 233.1h0M356.2 370.3h0M295.4 275.8h0M533.8 374h0M456.2 230.2h0M427.7 89.5h0M374.5 211.4h0M392.1 296.3h0M411.3 221h0M427.1 453.1h0M446.6 258.8h0M380.6 412.4h0M448.5 208.3h0M353.8 369.4h0M375.1 218.2h0M426.5 154.9h0M437.1 288.5h0M505.4 265.6h0M432 442.1h0M455.4 164.9h0M462.6 361.5h0M390.4 284.7h0M482.8 359.7h0M419.4 383.1h0M500.9 241.6h0M468.3 376.5h0M434.1 354.5h0M372.7 399.6h0M448.4 384.1h0M440 396.8h0M370.9 360.6h0M341.9 257.2h0M506.4 447.9h0M439.9 386.1h0M346.9 206.5h0M446.8 246.1h0M423.3 319.8h0M456.7 266.6h0M333.6 409.3h0M381.1 174.2h0M407 390.9h0M334.4 371.4h0M436 368.7h0M410.5 194.6h0M370.3 344.1h0M471.7 235.8h0M324.6 396.7h0M496.2 450.9h0M494.5 370.3h0M267.6 234.8h0M411 180.3h0M363.2 412h0M479.1 433.6h0M320.6 390.3h0M432.7 193.9h0M390.7 190.8h0M409.2 276.8h0M495.5 194h0M245.6 270.9h0M523.9 387.4h0M493.6 109.4h0M471.3 306h0M516 316.3h0M375.4 422.4h0M505.7 317.6h0M492.4 353.5h0M318.6 277.4h0M479.5 399.6h0M433.4 352.2h0M430.6 158.5h0M414.2 225.5h0M403.4 208.8h0M100.1 287.6h0M100.2 290.7h0M97.5 288.3h0M94.1 288.1h0M97.7 290.4h0M102.9 289.9h0M102.9 291.5h0M93.7 285.5h0M94.7 287.1h0M97.4 288.7h0M97.2 287.6h0M102.3 290.8h0M93.9 286.6h0M94.1 284.6h0M102.2 292.8h0M102.3 292.1h0M92.5 287h0M92.8 285.3h0M97.9 288.8h0M98.4 291.3h0M97.5 290.2h0M93.4 286.4h0M93.4 286.9h0M101 290.3h0M94.5 287.3h0M100.7 289.5h0M94.9 289.2h0M97.1 288.2h0M98.5 289.1h0M101.3 291.2h0M92.9 287h0M100.9 289.5h0M96.1 288.6h0M95.5 287.8h0M99.2 289h0M95.2 286.7h0M102.1 292.4h0M98 288.4h0M93.6 287h0M94.7 287.9h0M93.5 287.5h0M94.2 289.9h0M94.8 286h0M96.2 287.4h0M93.8 288h0M92.6 286.6h0M98.8 289.5h0M101.2 289.4h0M112.1 297.6h0M110.6 295.8h0M112.5 296.8h0M111.2 296.3h0M106.8 293.7h0M106.5 293.2h0M106.4 293.8h0M110.5 296.6h0M107.4 293.8h0M110.6 295.8h0M110.3 295.7h0M112.2 297.4h0M104.7 291.6h0M109.4 294.7h0M119 302.8h0M117.8 302.6h0M119.4 301.7h0M119.7 301.9h0M118.9 301.2h0M118.2 300.7h0M118.5 299.4h0M117.9 301.9h0M116.6 300h0M117.8 303.2h0M124.2 309.2h0M122.1 307.3h0M123 308.9h0M122.8 308.9h0M131.9 311h0M128.4 313.4h0M126.8 308.7h0M123.2 315.2h0M133.9 311.2h0M130.9 313.5h0M132.7 307.3h0M126.6 313.9h0M122.7 317.5h0M128.9 314.7h0M134.7 310.1h0M127.5 315.3h0M134.6 312.9h0M131.7 307.7h0M125.4 312.7h0M128.5 313.5h0M131.6 311.9h0M125.3 313.3h0M125.7 312.9h0M130.7 319.1h0M127.9 313.6h0M124.2 316.4h0M129.9 313.1h0M133.9 311.5h0M131.2 311.6h0M140.1 309.2h0M129.2 313h0M129.4 312.6h0M129.2 313h0M126.2 313.1h0M128.9 314.1h0M133.7 307.8h0M130.5 315.3h0M134.4 312.3h0M132.6 314.1h0M134.6 313.1h0M128.4 312.7h0M122.6 311.7h0M129.7 315.1h0M128.9 309.3h0M129.5 312.3h0M127 313.9h0M130.8 313.6h0M137 311.4h0M122.8 315.2h0M131.1 311.4h0M129.1 310.1h0M132.7 305.5h0M133.1 312.2h0M138.5 311.8h0M124.6 314.6h0M129 315.6h0M131.5 312.7h0M131.8 311.3h0M130.3 308.9h0M136.3 313.2h0M118.9 314.2h0M128.9 316.7h0M125.3 309.2h0M135.2 313h0M131.9 311.6h0M125.4 312.8h0M136.2 312.3h0M108.1 326.6h0M116.2 322.8h0M109.2 328.7h0M113.1 323.4h0M119.1 321.4h0M115.7 322.9h0M109.2 327.8h0M122.6 319.5h0M124.9 317h0M125.9 315.2h0M111.7 326.4h0M118.3 320.9h0M108.7 330h0M123.1 316.3h0M110.4 324.5h0M126.3 316h0M110.7 324.8h0M113.2 323.9h0M115.9 322.7h0M107.5 328h0M111.4 325.4h0M110.4 327.7h0M112.6 322.8h0M112.7 323.7h0M126.5 315h0M107.5 329.1h0M108.9 326.9h0M110.7 326.4h0M110.3 324.5h0M112.2 324.5h0M122.5 317.3h0M117.2 320.8h0M121.2 318.7h0M123.7 318h0M120.3 317.2h0M118.8 319.5h0M116.5 322.2h0M106.7 328.2h0M106.6 328.3h0M123.1 317h0M147.8 315h0M150.4 314h0M163.8 318.5h0M146.9 313.5h0M148 314.2h0M168.9 319h0M161.9 317.5h0M173.2 321.8h0M143.3 310h0M176.2 321.6h0M160.1 317.5h0M178.9 321.7h0M162.7 317.7h0M162.4 317.7h0M144.7 312.4h0M152.4 313.9h0M152.8 312.8h0M173.6 321.6h0M142.3 310.7h0M164.8 317.4h0M156.4 316h0M157.1 318.1h0M177.4 322.1h0M161.5 316.9h0M179.6 324.1h0M172.4 321.3h0M164.3 319.3h0M163.9 318h0M148.1 313.1h0M162 317.9h0M141 310.9h0M178.6 322.4h0M152 314.4h0M162.4 317.5h0M179.6 322.9h0M170.7 320.2h0M146 314.1h0M147.4 304.8h0M145.9 305.7h0M188.5 323.7h0M290.9 144.3h0M292.4 142.9h0M286.9 142.4h0M283.4 138.4h0M281.7 135.5h0M291.1 145.8h0M287 142.8h0M281.7 138.9h0M283.8 137.4h0M280.9 137.2h0M282.9 137.8h0M283.8 136.5h0M281.4 136.6h0M289.6 146.5h0M286.7 141.9h0M283.6 139.9h0M283.6 135.8h0M290.3 143.7h0M280.9 136.5h0M286.4 140.3h0M283.6 139.6h0M281.9 137.7h0M282 137.5h0M297.4 150.8h0M300.2 158.9h0M304.4 156.6h0M303.8 155.7h0M300.2 157h0M301.4 152.6h0M298.2 152.1h0M292.1 146.8h0M300.3 153.3h0M304 160h0M299 155.7h0M299.3 155h0M293.2 147.2h0M294.8 152.9h0M291.2 150.6h0M290 147.4h0M302.3 152.8h0M293.7 148h0M292.4 145.7h0M292.6 147.9h0M298.5 153.6h0M297.3 152.3h0M303 159.3h0M295.3 148.4h0M295.2 145.9h0M298.4 154.6h0M299.3 153.8h0M291.9 146.6h0M301.9 152.2h0M302.5 157.7h0M304.9 156.6h0M297.4 155.5h0M303.4 159.1h0M304.2 158.4h0M298 149.4h0M296.4 151.3h0M297.2 149.5h0M302.8 155.2h0M298.2 153.2h0M293.4 147.8h0M300.5 155.5h0M302.1 155.9h0M303.1 159.8h0M303.6 159.7h0M299.3 153.6h0M306 159.6h0M291.7 147.2h0M299.2 155.5h0M311.2 160.5h0M311 162.8h0M300.3 167.1h0M313.9 165.5h0M310.3 169.3h0M316.4 173.6h0M298.6 164.3h0M299.5 165.4h0M305.9 160.7h0M308.7 168.3h0M298.9 137.8h0M306.7 150.3h0M311.3 134.2h0M336 122.6h0M334.4 126h0M341 122.5h0M363.8 112h0M368 113.3h0M369 114h0M380 107.5h0M386.8 104.2h0M386.2 98h0M403.6 110.6h0M409 113.6h0M396.2 107.1h0M390.3 90h0M401.4 111.8h0M392.9 91.2h0M395.3 101.7h0M410.8 116.6h0M396.5 113.1h0M395.8 98.8h0M396.8 102.8h0M387.4 100.1h0M402.9 108.3h0M387.1 97h0M403 109h0M399.5 107.1h0M407.2 110.9h0M398.5 106.1h0M410.7 114.5h0M390.7 89.2h0M386.9 96.7h0M407.7 113.3h0M392 91.6h0M233.3 254.7h0M235 253.7h0M233.8 248.9h0M233.5 252.7h0M234.9 250.8h0M236 252.1h0M236.3 249.2h0M235.1 255.9h0M230.1 254.7h0M231.5 256.7h0M246.2 253.7h0M244.6 258.8h0M240.8 257.1h0M232.1 271h0M239.9 270.1h0M236.9 269.8h0M240.4 271.6h0M239.4 271.6h0M238.5 270.2h0M238.3 268.3h0M237.5 271.9h0M237.7 269.1h0M236.7 268.1h0M241.4 269h0M240.1 272.5h0M233.8 271.7h0M235.8 272.7h0M236.8 270.3h0M236.8 271.5h0M232.4 269.9h0M304.6 297h0M252 286h0M252.4 285.6h0M306.1 308.4h0M289.7 292.4h0M318.4 321.3h0M291.6 292.3h0M271.2 288.9h0M272.6 285.7h0M309.5 307.7h0M295.2 291.2h0M256.4 289.9h0M299.3 292h0M260.5 285.9h0M303.9 294.9h0M274.5 294.2h0M281.8 287.9h0M280.6 287.7h0M295.9 293.7h0M313.3 309h0M317.6 317.8h0M319.7 324.4h0M309 305.5h0M256.7 282.5h0M285 288.4h0M298.1 290.6h0M259.6 284.4h0M292.5 287.7h0M287.5 290.9h0M278.6 287.1h0M267.5 294.1h0M295.8 295.6h0M303.9 306.2h0M318.4 325.3h0M300 293.1h0M259.4 283.5h0M312.8 311.1h0M309.1 311h0M293.3 289h0M300.6 297.3h0M314.3 310.6h0M262 286.8h0M271.1 289.1h0M262.6 287.7h0M314.7 310.9h0M315.9 317.5h0M275.5 289.7h0M281.4 287.8h0M257 288.5h0M271.1 286.1h0M255.7 283.6h0M290.6 287.2h0M294.7 287.7h0M310.8 303.3h0M299.1 294.5h0M293.7 290.7h0M317.9 319.5h0M282 287.8h0M278.4 292.3h0M310.1 320.1h0M299.5 296.4h0M275.6 289.5h0M280.1 293.1h0M260.4 286.7h0M265.1 284.9h0M260.2 283.4h0M263.4 285.4h0M280.2 295.3h0M314.4 313.6h0M256.5 282.8h0M297.8 292.7h0M253.9 284.1h0M282.8 293.5h0M314.9 311h0M309.2 308.7h0M304.7 293.5h0M277.1 285.4h0M279.7 286h0M279.2 285.9h0M265.2 285.4h0M250.1 281.3h0M285.4 286.3h0M315.6 319.9h0M295.5 291.6h0M307.3 314.4h0M312.1 314.6h0M310.4 305h0M310.9 309.9h0M302.1 295.7h0M299.3 292.1h0M302.6 307.4h0M301 316.1h0M306.6 311.1h0M296.1 298.8h0M313.5 322.6h0M300.8 294.1h0M304.1 298.4h0M307.4 302.5h0M298.6 296.4h0M319.7 326.3h0M307.1 301.6h0M314.5 328.7h0M323.6 332.6h0M301.3 309.3h0M305.4 320.3h0M318.5 323.5h0M314.3 316.7h0M322.1 333.9h0M313.7 314h0M312.1 308.4h0M317.3 323.3h0M321.7 334.3h0M311.3 311.6h0M308.4 302.1h0M316.1 311.9h0M304.6 307.6h0M316.3 315.7h0M315.4 322.5h0M307.9 305h0M303.2 315.5h0M310.5 309.8h0M311.2 305.9h0M317 323.3h0M318.1 320.1h0M304.5 295.3h0M320.3 330.4h0M306 301.9h0M322.9 331.2h0M304.2 297.9h0M308.1 313.3h0M301.1 297.9h0M313.2 313h0M307.8 299.5h0M307.2 305.6h0M308.8 315.4h0M306.9 326h0M316.8 329.2h0M305.1 300.7h0M314.6 310.5h0M322.9 329.3h0M303.8 299.1h0M317.3 319.2h0M302.7 294h0M317.6 330.3h0M302.7 312.6h0M321.3 336.7h0M307.9 308h0M312.6 334.4h0M310.3 366.3h0M320.1 363h0M330.5 358.9h0M322.4 355.9h0M329.6 358.2h0M322.5 361h0M310 366.8h0M321.3 359.8h0M314.8 362.4h0M317.6 364.1h0M319.2 364.5h0M333.7 359.3h0M318.1 362.7h0M317.2 364.1h0M328.3 359.7h0M336.6 344h0M319.2 353.3h0M319.8 353.6h0M331.1 352h0M328.2 345.4h0M324.3 348h0M326.7 356.6h0M331.9 353.6h0M323.2 352.6h0M336 354.2h0M350.2 335.3h0M335.4 357h0M326.6 360.1h0M329.9 344.4h0M317.4 356.6h0M329.1 354.4h0M326 358.9h0M323.1 346.9h0M333.5 359.4h0M320.7 358.5h0M320.3 338.4h0M327.7 353.3h0M328 355.2h0M329.3 355.9h0M321.1 354h0M323.7 357.1h0M327.5 342.8h0M324 350.7h0M332 359.9h0M323.9 355.4h0M317.2 347.5h0M327.9 361.2h0M329 349.4h0M328.6 354.3h0M346.2 344.4h0M334.1 342.3h0M336.6 354.8h0M312.7 358.1h0M323.2 355.4h0M324.4 354.4h0M323 363.1h0M314.7 364.3h0M325.2 362.2h0M315.1 361.2h0M316.1 364.3h0M318.8 363.5h0M323.7 361.1h0M311.3 360h0M313.9 360.1h0M313.6 356.5h0M316.9 360.4h0M325.4 354.5h0M314.9 362.5h0M320.7 367.4h0M317.2 363.7h0M314.6 369.8h0M325.2 358.4h0M312.4 361.2h0M316.8 360.2h0M526.4 297.2h0M533.8 340.4h0M544.5 362.1h0M528.4 279.6h0M528.3 278.9h0M539.3 356.7h0M535.8 254h0M526.8 297.4h0M529.1 331h0M543.3 357.3h0M541 354.7h0M534.6 260.1h0M527.6 284.2h0M527.5 305.6h0M527.2 295.2h0M541 356.5h0M545.3 362.1h0M530.1 282.8h0M529.8 333.8h0M531.3 267.2h0M530.6 334.9h0M529.9 278.9h0M526.2 292.7h0M547.9 362.2h0M547.4 372.2h0M530.6 286.8h0M529 266.8h0M541.5 362.2h0M529.9 268.2h0M528.5 289.7h0M545.3 366.1h0M531.3 331.8h0M526.6 305.7h0M527.4 323.9h0M528.9 286.6h0M526.2 318.9h0M528 273.8h0M528.5 287.8h0M534 340.7h0M527.8 300.9h0M530.7 330.9h0M532.7 266.7h0M526.9 294.5h0M533.5 341h0M527.2 290.7h0M538 350.6h0M527.2 284.6h0M531 261.4h0M528.1 268.8h0M529.7 282.1h0M530.7 275.1h0M547.5 370.8h0M527 316.4h0M528.4 280.5h0M531.7 264.8h0M532.2 255.7h0M536.8 349.3h0M526.1 310.1h0M529.3 316.1h0M526.1 297.5h0M526.6 314.6h0M529.9 267.5h0M537.7 346.1h0M397 122.1h0M399.4 118.4h0M400.6 121.9h0M401.2 126.2h0M408.3 116.8h0M404.2 118.6h0M398.6 116.8h0M399.4 123.2h0M392.1 110h0M401.1 121.7h0M395.9 122.5h0M410.4 111.5h0M393.8 123h0M402.2 120.6h0M401.9 117.8h0M402.7 121.6h0M410.8 128.4h0M402.2 124.1h0M392.3 116.8h0M410.4 114.3h0M404.2 121.9h0M395.5 115.5h0M395.7 116.1h0M405.1 121.2h0M384.1 106.5h0M392.1 101.6h0M392.3 107.5h0M388.8 95h0M387.4 100.1h0M385.4 101.3h0M391.2 94.7h0M393.7 101.7h0M388.1 97.4h0M391.4 100.2h0M392.4 100.9h0M393.2 98.7h0M389.8 101.1h0M387 98.8h0M389.7 103.8h0M395.1 100.5h0M391.5 101.2h0M493 164h0M506.1 174.9h0M513 178.5h0M485.2 157h0M493.2 144.8h0M499.7 168.8h0M487.1 147.9h0M488.1 159.2h0M490.8 161.3h0M505 173.1h0M511.8 174.3h0M486.9 150.7h0M492 160.6h0M513.6 182h0M506.4 175.7h0M509.1 174.1h0M496.7 139.9h0M487.4 155.5h0M497.2 167.6h0M498.1 139.2h0M499.3 168.2h0M507.1 175.9h0M490.2 160h0M502.9 135h0M498.7 161.8h0M487.4 147.1h0M503.5 170.1h0M411.7 161.1h0M398.9 146.5h0M404.9 157.7h0M395 170.6h0M403.6 152.3h0M405.9 166.3h0M403.6 157.2h0M397.5 152h0M414.1 157.8h0M408.6 151.1h0M396 152.5h0M405.9 148.7h0M402.4 159.4h0M391.8 160.2h0M403.6 163.3h0M406.7 145.2h0M413.8 158.7h0M394.8 169.1h0M488.9 133.7h0M490.2 132.1h0M482.5 118.6h0M479.7 138.9h0M484.5 124.7h0M490.1 131.5h0M486.6 130.2h0M489 121.1h0M499.1 122.1h0M492.5 125.2h0M494.8 128.9h0M492.3 121.5h0"/>
<path stroke="#5831FA" d="M309.2 436.2h0M294.3 397.7h0M296.6 391.9h0M301 426.9h0M552.3 405.6h0M301.4 427.9h0M296.1 394.7h0M293 409.6h0M317.5 441.6h0M312.2 438h0M315.3 439.5h0M309.1 434.9h0M294.1 396.6h0M294.2 391.5h0M303.5 430.7h0M293.6 415.4h0M293.3 414h0M294.6 394.7h0M302 379.9h0M298.5 387.5h0M311.8 438.6h0M294.1 398.2h0M323.9 445.4h0M295.2 392.9h0M320.9 442.6h0M293.4 405.7h0M300 385h0M301.7 379.7h0M293.2 411h0M309.4 436h0M296.7 423h0M302.4 429.7h0M296.7 389.8h0M297.1 386.8h0M301 381h0M324.7 445.9h0M299.9 384.4h0M294.7 393.2h0M296.3 421h0M298.1 392.5h0M301.5 382.5h0M293.6 400.5h0M299.3 425.8h0M308.9 435.1h0M301 427.6h0M291.7 406.7h0M298.8 384.8h0M293.8 417.9h0M293.8 399.5h0M293.7 418.4h0M310.2 435h0M291.5 405.7h0M293.8 408.1h0M313.3 438.9h0M303.3 430.9h0M300.1 427.1h0M306.7 431.7h0M292.2 404.3h0M306.3 432.1h0M300.8 427.8h0M299.1 428h0M294 396.1h0M301.2 427.4h0M295.6 393.1h0M295 416.5h0M299.2 385.1h0M321.5 441.7h0M302.4 429h0M304.6 429.6h0M305.3 433.2h0M295.9 392.1h0M323.3 444.4h0M318 442.6h0M321.5 441.8h0M296.5 391.8h0M320.3 440.8h0M294.5 414.2h0M293.3 399.5h0M293.4 414.9h0M297.1 383.3h0M293.5 415.9h0M310.9 434.9h0M322 444.7h0M317.6 441.5h0M291.8 407.2h0M304.1 432.9h0M316.1 441h0M298.5 427.8h0M313.5 439.6h0M300.8 378.4h0M300 426.5h0M487.6 302.1h0M333.8 397.5h0M328.6 430.5h0M338.1 442.7h0M322.7 436.6h0M336.4 452.3h0M344.4 396.2h0M350.9 330.6h0M524.8 293.1h0M305.7 425.2h0M309.2 398.7h0M335.9 447.1h0M313.5 394.2h0M353.2 276.3h0M515.8 318h0M313.2 412h0M315.1 400.1h0M317 436.3h0M301.7 408.3h0M316.9 427.9h0M297.3 412.4h0M355.4 436.1h0M341.1 391.2h0M328.8 395.8h0M316.1 420.8h0M493.6 396.2h0M97.9 289.6h0M126.6 315.1h0M154.7 316.3h0M238.3 272.3h0M316.6 325.1h0M316.5 362.3h0M333 358.6h0"/>
<path stroke="#8960F1" d="M532.6 215.1h0M352.4 458h0M318.1 318.2h0M459.9 467.2h0M533.8 220.8h0M536.7 428.1h0M401.9 79.8h0M411.2 470.6h0M410.2 469.9h0M388 466.3h0M511.3 179.8h0M404.4 468.7h0M549 409.1h0M524.8 285h0M444.2 469.7h0M401.8 469.2h0M388.3 132.4h0M333 337.3h0M292.2 196.4h0M290 195h0M427.8 85h0M318 314.7h0M493.3 140.9h0M551.4 382.3h0M309.3 179.1h0M495.7 168.2h0M550.2 407.4h0M452.8 469.6h0M332 336.1h0M527.6 272.7h0M414.3 109.8h0M537.1 358.9h0M496.9 108.7h0M471.1 91.7h0M401.6 104.3h0M268.4 222.8h0M339 360.9h0M484.4 460.5h0M345.6 356.1h0M525.7 283.5h0M482.7 98.8h0M417.1 471.1h0M268.9 284h0M542.3 366.4h0M423 83.1h0M342.4 345.1h0M399 129.4h0M435.8 87.2h0M546.2 414.3h0M523.1 194.7h0M523.7 300h0M404.3 128.1h0M270.9 284.9h0M265.6 282.6h0M409.3 108.1h0M440.8 470.4h0M525.6 437.2h0M532.2 209.2h0M540.5 423.5h0M533.3 214.5h0M483.4 150.7h0M533.8 214.8h0M530.7 252.9h0M270.6 244.7h0M547.2 409.8h0M346.5 153.1h0M531.2 207.5h0M552.5 396h0M340.7 156.2h0M510.5 179.9h0M340.4 342h0M339.7 452.7h0M317.9 313.7h0M308.8 182.4h0M310.6 179.1h0M498.8 111.6h0M292.7 283.9h0M534.6 429.5h0M524.2 303.6h0M531.8 240.3h0M513.7 184.9h0M381.8 132.6h0M505.2 122.4h0M315.9 175.5h0M268.2 228.3h0M531.6 212.5h0M524.8 312.1h0M523.4 311.7h0M486.3 100.5h0M303.3 184.4h0M398.9 83.9h0M351.4 150.9h0M486.7 459.5h0M526.8 274.1h0M268.4 236.5h0M253.2 263.7h0M531.6 250h0M359 460.1h0M416.7 119.8h0M488.7 104.5h0M417.8 120.6h0M372.3 463.8h0M546.6 374.2h0M426.7 470.6h0M412.8 469h0M541.4 421h0M330 167.7h0M461.2 88.5h0M324.8 332.1h0M250.6 279.7h0M348.6 457h0M512.2 181h0M528.3 260h0M538.9 361.4h0M525.1 293.1h0M528.1 266.2h0M275.7 207.3h0M486.8 99.9h0M430.5 86.8h0M487.3 459.9h0M305.5 294.1h0M532.8 209h0M527.6 335.3h0M552.2 405h0M532.4 348.8h0M344.8 347.9h0M547 374h0M262.1 257.5h0M530.4 249.7h0M381 133.3h0M352.7 458.6h0M471.3 463.6h0M414.5 129.5h0M271.9 242.1h0M497.8 136.6h0M525.8 330h0M349.9 456.3h0M520.2 191.2h0M466.4 466.6h0M526.6 267.6h0M541.1 365.3h0M394 89h0M506.6 128.9h0M289.4 284.3h0M537.2 356h0M371.4 137.6h0M484.7 145.5h0M512.3 182.2h0M450.8 470.1h0M267.8 249h0M527.7 330.5h0M392.1 133.3h0M525.4 296.6h0M384.6 133.5h0M262.4 283.7h0M546.9 411.9h0M277.9 284h0M265.3 250.2h0M305.5 185.5h0M330.4 336.8h0M376.6 465h0M482.6 98.2h0M551.5 389.3h0M535.9 429.3h0M529.2 251.5h0M527.9 274.2h0M435.4 86.1h0M414.8 110.3h0M360.1 459.6h0M267.1 228.3h0M548.5 374.9h0M401.1 130h0M514.9 444.3h0M256.1 261h0M401.6 81.5h0M527.3 436.8h0M551.2 377.4h0M408.1 470.9h0M525.3 308.1h0M268.2 228.3h0M477.9 93.4h0M504.4 120h0M486.7 162.6h0M535.9 227.5h0M301.3 191.3h0M532.5 212.2h0M258.2 260.3h0M290 283.5h0M464.6 87.2h0M527.9 336.3h0M415.3 122.8h0M455.6 468.4h0M524.5 441.2h0M527.6 264.6h0M433.8 86.3h0M525.3 299.1h0M303.3 290.4h0M310.6 300.2h0M251.2 265.7h0M349.8 456.5h0M483.8 98.1h0M401.1 466.8h0M369.3 138.8h0M531.3 205.8h0M419.8 468.3h0M525.1 197.5h0M354.3 458.4h0M334.9 450.2h0M329.9 333.9h0M410.2 128.4h0M552.1 400.3h0M333.9 337.1h0M527.9 271.7h0M455.6 466.3h0M275.5 207.2h0M445.2 469.7h0M520.6 192.9h0M267 283.4h0M272.4 216.7h0M492.1 164.7h0M342.8 344.7h0M272.3 237.2h0M484.3 99.2h0M273.4 213.8h0M375.8 464h0M527.2 280.2h0M329.9 365.6h0M410.7 78.7h0M528.3 202.4h0M536.5 235.1h0M402.6 467.4h0M347.4 458.6h0M326.5 367.1h0M500.3 453.6h0M341.1 343.6h0M507 131.5h0M523.4 292.4h0M309.9 180.6h0M421.4 83.2h0M499 112.7h0M416.7 120.2h0M526.1 291.1h0M285.6 201.9h0M532.5 232.3h0M456.5 86.5h0M473.6 462.5h0M532.3 208.6h0M245.7 275.1h0M302.1 290.3h0M266.5 231.3h0M336.6 161.4h0M548.1 414.2h0M526 439.9h0M286.8 198.3h0M364.1 141.8h0M268.2 248h0M311 297.5h0M521 442.2h0M450.3 87.4h0M517.7 446.2h0M529.6 335.8h0M344.6 349.3h0M267.5 250.7h0M375.3 137.3h0M261.4 281.5h0M436.8 87.2h0M545 412.4h0M350.6 152.6h0M316 176.4h0M343.1 157.1h0M496.6 455.1h0M447.9 87.3h0M403.3 104.3h0M311.4 177h0M526.5 197h0M270.4 221h0M416 122.8h0M488.3 164.7h0M484.3 146h0M322.3 327.3h0M527.3 323h0M395.6 466.7h0M486.8 143h0M326.4 332.4h0M305.6 290.8h0M397.4 468h0M317.8 176.6h0M507.1 177h0M524.5 300.6h0M260.4 258.1h0M530.6 340.7h0M355.8 460.2h0M392.1 133.3h0M315.8 309h0M551.8 388.9h0M272.9 215.8h0M497.8 111.8h0M383.1 465.6h0M483.9 154.5h0M530.2 208.4h0M445.2 469.9h0M347 156.3h0M268.4 220.9h0M537.3 428.6h0M416.5 472.5h0M314.1 178.8h0M400.7 104h0M496.8 456.7h0M550.5 379.5h0M311.3 302h0M499.4 114.3h0M263.4 281.1h0M348.2 151.3h0M304.9 184.7h0M403.2 104.4h0M279 202.8h0M356.8 460.3h0M327.1 334.6h0M526.2 199.1h0M529.9 253.2h0M524.6 298.6h0M532.9 237h0M524 314.7h0M353.1 457.6h0M309.7 295.8h0M531.3 344.8h0M468.6 91.4h0M453.2 88.5h0M418.1 116.6h0M521.3 443.5h0M371.2 138.3h0M388.5 467h0M401.1 132.5h0M268 229.7h0M324.3 172.1h0M553.6 393.8h0M313.3 300.6h0M323.7 172h0M527 274.6h0M294.6 193.7h0M315.7 310.6h0M484.3 158.2h0M507.2 450.8h0M535.4 227.5h0M287.9 283.4h0M334.3 339h0M319.5 368.5h0M527.1 260.9h0M554.4 390.9h0M513.4 447.7h0M501.4 454.8h0M448.9 86.5h0M528.9 435.6h0M355.2 460.6h0M523.1 196h0M373.1 464.7h0M307.2 293.8h0M493.2 166.5h0M403.3 469.1h0M313.3 176.9h0M505.7 132.6h0M366.4 462.9h0M405.9 468.7h0M490.9 105.6h0M329.6 335.2h0M360.1 145h0M314.4 305.7h0M507.3 125.5h0M395 90.3h0M527.8 335.8h0M427.7 85.2h0M524.8 318.8h0M499.4 170.6h0M467.4 464.5h0M419.6 471h0M492.9 107.7h0M490.4 103.3h0M544.9 371.8h0M409.1 129.5h0M399.5 129.7h0M532 433.2h0M434.5 470.6h0M523.6 315.3h0M526.3 292.1h0M337.4 361.3h0M528.1 329.4h0M421.8 83.4h0M342.9 454.1h0M402 81.2h0M536.9 353.3h0M524.8 319.8h0M349.8 459.4h0M305.9 292.8h0M493.3 165.6h0M437.8 87.7h0M533.6 216.4h0M488.3 141.4h0M337.2 338.8h0M539.4 361.1h0M550.2 378h0M360.1 145.1h0M327.8 446.5h0M244.8 270h0M356.3 148.5h0M483.5 99.5h0M531.2 246.3h0M529.9 342.6h0M431.1 471.2h0M532.3 345.5h0M338.9 359.1h0M405.8 105.6h0M390.8 464.6h0M372.3 140.2h0M508.4 124.9h0M314.4 176.8h0M319.1 173.2h0M299.8 287.6h0M492.4 457.9h0M519 187.7h0M399 83.4h0M489.8 140.8h0M550.1 402.7h0M480.2 94.5h0M316.6 317.1h0M410.5 108.9h0M533.7 214.4h0M553.5 385.1h0M347.5 457.1h0M269.1 234h0M345.4 456.9h0M519.4 194.6h0M501.5 172h0M551.1 399.5h0M523.5 302.6h0M531.1 341.6h0M544.8 371.3h0M311.4 371h0M541.9 361.4h0M251.6 263.3h0M402.4 468.3h0M450.3 87.5h0M319.6 320.8h0M403.7 81.9h0M304 186.8h0M487.5 161.6h0M552.1 400.3h0M269.1 243.9h0M336.9 161.8h0M481.5 98h0M281.8 202.7h0M413.9 127.9h0M458.8 87.7h0M270 233.8h0M527 319.5h0M275.8 283.6h0M544.4 366.4h0M377.6 137.6h0M341.1 159h0M526.7 281.1h0M326.2 330.8h0M542.1 367.1h0M527.1 306.7h0M268.9 224.2h0M320.3 325.2h0M526.8 267.1h0M398.1 83.7h0M481.5 97.2h0M509.7 449.2h0M395 92.9h0M490.1 163.2h0M314.6 370.4h0M551.1 384h0M430.1 86.2h0M524.8 316.7h0M436.5 470.8h0M384.2 133.7h0M268.5 247.7h0M330.9 336.9h0M409.8 108.1h0M435.5 471.8h0M331.3 336.3h0M483.7 156.7h0M533.2 213.5h0M343.5 456.3h0M344.5 348.1h0M524.7 300.6h0M541.7 366.1h0M294.5 284h0M508.8 177.3h0M324.8 332.1h0M333.2 337h0M243.8 275.6h0M486.2 160h0M466.5 465.2h0M279.7 203h0M255.1 263.8h0M311.3 298.7h0M533.5 430.5h0M388.7 465h0M534.1 217.3h0M529.5 340h0M277.4 284.4h0M553.3 388.6h0M548.2 407.1h0M290.4 284.4h0M273 214.7h0M536.1 355.5h0M526.5 330.4h0M488.8 458.2h0M296.1 286.7h0M414.7 470.6h0M286.9 283.7h0M533.7 235.2h0M439.9 470.4h0M308.1 375.5h0M534.2 233.9h0M527.3 261.9h0M543.6 367.9h0M527.7 335.3h0M500.5 171.7h0M412.2 108.1h0M314 301.5h0M397.7 82.5h0M403.8 127.8h0M552.6 397.5h0M287.4 197.4h0M270.8 243.6h0M279.4 204.1h0M524.6 298.6h0M273.9 285.8h0M350.8 151.8h0M499.6 454.4h0M366 462.4h0M346.2 456.4h0M336.1 452.1h0M279.8 203.1h0M329.4 168.6h0M541.9 370.1h0M422.1 82.8h0M488.6 161.9h0M377.8 136.9h0M264.8 253.1h0M552.2 382.5h0M503.2 451.8h0M303.6 290h0M466.9 90.3h0M340.2 159.5h0M512.7 183.2h0M396.7 99.4h0M391 466.9h0M369.5 141.2h0M503.3 118.9h0M503.3 117.6h0M337.6 361.5h0M476.9 463.4h0M408.5 130.7h0M402.4 82.1h0M252.2 264.6h0M422.5 83.1h0M346.5 152.2h0M297.7 188.7h0M531 347.1h0M269.1 217.9h0M500.7 113.3h0M534 346.4h0M305.2 292.1h0M334.7 362.7h0M430.9 87.3h0M328.8 167.8h0M524.6 296.1h0M419.1 81.2h0M416 81.4h0M302.7 290.4h0M419.8 468.9h0M533.1 238h0M507.7 124.8h0M534.4 233.9h0M353 457.7h0M527.6 274.7h0M341.9 343.5h0M432.6 471.7h0M331.9 165.2h0M429.1 85.9h0M415.8 125.5h0M457.7 88.5h0M316.5 176.4h0M526 322.2h0M440.5 471.9h0M532.1 346.1h0M536.7 230.1h0M343.1 347.3h0M396.6 95.7h0M354.5 457.8h0M511.9 449h0M435.2 87.1h0M390.7 465.4h0M261.7 282.1h0M522.7 195h0M550.8 407.7h0M513.4 183.2h0M346 458.2h0M313 303.5h0M293.4 285.4h0M516.4 187.2h0M318.4 318.1h0M267.6 283.1h0M320 320.6h0M388.5 466.4h0M527.6 269.2h0M526.8 285.7h0M493.8 106.1h0M246.7 275.5h0M382.5 133h0M530.1 344.2h0M506.2 132.4h0M308.1 296.5h0M426.2 471h0M401 467.3h0M509.6 180.1h0M269.2 220.3h0M276.9 284.5h0M316.5 313h0M527.9 335.2h0M532.3 244h0M488.8 162.4h0M381.4 134.4h0M382.5 466.4h0M533.4 346.7h0M539.3 422.6h0M351 152.3h0M406.6 130.1h0M452 468.5h0M538.3 423.7h0M543.6 368.5h0M520.2 442.9h0M307.5 180.9h0M318.2 171.8h0M394.6 86.9h0M404.5 468h0M260.5 258.2h0M268.3 226.9h0M488.2 163.9h0M547.6 377.1h0M407 107.5h0M551.5 402.1h0M356.6 147h0M267.9 222.7h0M530.8 253.9h0M551 383h0M270.3 245.1h0M327.2 169.9h0M293 284.9h0M337.3 161.5h0M309.8 372.7h0M419.7 469.6h0M470.9 92.2h0M496.9 109.4h0M400.8 82h0M515.2 185.6h0M410.3 110.9h0M404.8 130.7h0M314.9 175.8h0M397.1 466.9h0M418.4 80.2h0M394.7 466h0M380.4 134.3h0M489.7 164.5h0M524 283.9h0M504.9 177.3h0M487.5 458.8h0M388.1 466h0M253.8 262.8h0M483.9 157.8h0M526.3 317.1h0M483.5 150.2h0M292.6 197h0M372.6 464.7h0M338.3 359.1h0M278.4 284.2h0M531.3 343.7h0M487.4 458.7h0M527.6 270.2h0M527 292.2h0M500.2 172.8h0M403.7 81.9h0M505.6 123.3h0M553.2 385.7h0M524.5 296h0M526.5 334.6h0M499.8 172.6h0M438.8 468.8h0M484.1 147.1h0M279.6 201.8h0M270.6 244.7h0M304.2 291.8h0M257.7 282.1h0M335.1 338.1h0M272.6 212.4h0M496.6 137.6h0M383.3 132.4h0M405.8 81h0M246.9 271.8h0M447.8 470.4h0M530 343.6h0M369.2 464.2h0M331 364.5h0M264.6 283.1h0M510.4 449.4h0M526.6 329.3h0M525.4 294.6h0M381.7 465.1h0M298.7 288.2h0M458.7 88.7h0M312.7 300.3h0M431.1 471.3h0M333.2 166.2h0M529.1 256.1h0M380.7 135.2h0M271.4 235.6h0M491.4 163.1h0M344.3 350h0M525.7 281h0M526.8 276.6h0M360 144.9h0M528 203.1h0M347.6 153.1h0M342.5 155.2h0M248.8 279.4h0M539 360.2h0M460 89.7h0M525.9 294.6h0M546.4 412.7h0M339.4 160.2h0M390.2 465.6h0M338.6 341.8h0M250.7 278h0M468.8 92.2h0M402 467.7h0M518.5 188.7h0M487 99.7h0M304.8 183.9h0M449.9 87.1h0M478 96.6h0M554.7 394.9h0M531.7 432.2h0M380.5 134.6h0M534.5 236.3h0M531 433.6h0M494.4 166.6h0M553 386.3h0M408 130.7h0M270.6 281.5h0M492.4 140.3h0M528.2 257.9h0M292.2 283.9h0M534.4 222.7h0M376 136.7h0M307 378.4h0M315.3 309.2h0M526.4 277h0M329.5 366h0M394.3 86.7h0M316.4 308.8h0M344.5 456.4h0M303.6 290.1h0M528.5 252.9h0M532.5 343.2h0M500.8 171.4h0M288.3 197.9h0M251.5 280.1h0M511.3 449h0M356.4 460.2h0M283.4 283.3h0M489 142.5h0M488.9 163.9h0M486.5 101h0M250.9 268.7h0M289 283.3h0M411.8 469.7h0M534.7 235.9h0M270.5 217.5h0M456 468.1h0M509.8 125.8h0M534.3 230h0M281.1 203.4h0M253.7 264.2h0M507.4 178.8h0M489.2 163.5h0M279.3 202.4h0M365.5 462.3h0M533.2 234.3h0M529 204.2h0M549.2 377.9h0M523.8 311.2h0M382.8 133.8h0M468.6 91.2h0M527.1 331.2h0M522.2 443.1h0M416.4 117.6h0M545.7 415.7h0M529.8 435.1h0M497.2 168.6h0M521.7 193.2h0M498.6 114.2h0M525.1 326.5h0M543.9 418.6h0M459.4 87.6h0M508.6 127h0M527.1 332.8h0M533.4 345.6h0M443 471.5h0M272 242.7h0M508 176.7h0M257.8 259.8h0M416.7 469.6h0M500.1 454.4h0M426.4 84.2h0M300.8 190h0M523.3 191.9h0M251.3 266.5h0M533.9 430.2h0M544 419.3h0M324.9 330h0M483.2 158.4h0M467.6 465.4h0M526.8 199.9h0M520.6 193.5h0M481.6 153.7h0M503.6 119.3h0M381.7 464.6h0M349.5 151.6h0M546.9 370.1h0M540.2 423.2h0M445.9 86.7h0M451.3 88.2h0M453.3 87.9h0M387.2 131.9h0M402.9 468.6h0M467.2 92.5h0M264.2 282.2h0M415.8 469.4h0M399.2 130.7h0M407.6 129.5h0M289.4 198.6h0M521.6 442.2h0M534.8 234.9h0M366.7 461.6h0M529.9 435.9h0M549.9 405.7h0M406.6 108.2h0M262.7 282.5h0M394.8 88.2h0M454.6 89.7h0M249 269h0M252.3 263.4h0M435.2 87.1h0M416.6 112.1h0M358.4 147.2h0M414.8 126.4h0M501.5 135.1h0M288.9 284.2h0M306.6 182.2h0M407 80h0M269.6 235.7h0M424.2 470.5h0M342.6 357.2h0M317.8 173.9h0M320 172.8h0M369.7 141.6h0M525.1 313.1h0M552.2 384h0M299.2 284.8h0M529.8 206h0M554.3 388.5h0M486.3 141.4h0M533.1 347.9h0M352.6 149h0M359.7 461.1h0M390.2 131.4h0M354 457.7h0M345.9 352.1h0M278.3 202.7h0M419.4 83.1h0M394.1 130.3h0M395.5 93.7h0M472.7 93.1h0M372 139.7h0M317.9 319.3h0M263.3 281.9h0M405.2 107.7h0M483.1 147.2h0M250 278.6h0M327 334.7h0M343.9 346.6h0M441 471.7h0M500.2 172.8h0M524.9 305.6h0M331.5 337.9h0M549.6 378.3h0M313.2 302.9h0M483.5 150.2h0M391.3 131.8h0M344.1 155.3h0M486.8 101.5h0M443.9 86.6h0M363.2 144.4h0M411.4 468.4h0M291.8 283.3h0M294.8 284.6h0M525.8 322.2h0M547.7 408.5h0M551.8 384.2h0M332.4 165.9h0M432.6 471.7h0M421.6 83.9h0M415.7 470h0M321.6 443.5h0M531.3 250.9h0M470.6 464.9h0M536.3 428.4h0M478.1 94.2h0M455 86.7h0M482.4 154.9h0M522.6 441.2h0M393.8 131.2h0M376.2 138.1h0M246.2 274.8h0M328.7 333.9h0M400.2 130.4h0M526.8 438.5h0M537.3 427.3h0M298.9 286.1h0M336.3 359.8h0M390.7 131.2h0M482.9 149.5h0M252.5 262.8h0M490.4 103.3h0M313.2 306.1h0M399.5 467.5h0M505.1 122.5h0M451.1 469.2h0M396.3 85.8h0M530.3 251.7h0M346.8 152.7h0M398.4 128.9h0M356.1 147.1h0M319 442h0M266.8 252.2h0M414.6 78.9h0M501.3 117.2h0M504.2 454.9h0M532.4 249.2h0M523.8 196.1h0M410.7 128.9h0M551.9 394.6h0M515.8 184.5h0M418.2 469.7h0M315.5 311.2h0M409.2 78.7h0M345.1 156.1h0M323.8 170.3h0M505.7 124.4h0M525.7 319.7h0M523.2 195.9h0M404.3 128.9h0M508.1 126h0M506.4 130.9h0M255.3 260.7h0M489.2 105.4h0M413.4 128.2h0M480.9 460.9h0M527.1 332.8h0M319.1 323.1h0M524.3 195.6h0M501.6 121h0M483.8 98.9h0M495.7 455.4h0M375.1 138h0M512.9 449.9h0M525.2 306.6h0M497.1 138.5h0M528.5 336.6h0M275.5 207.7h0M384.9 466.8h0M534.1 230.9h0M334.1 164h0M426.2 469.8h0M400.7 80.7h0M450.8 469.9h0M495 167.4h0M309.9 435.4h0M243.7 273.1h0M525.5 322.8h0M532.8 349.7h0M305.8 185.8h0M324.5 331.7h0M504.3 174.1h0M276.5 206.1h0M466.7 465.6h0M331.3 365.1h0M248.1 278.7h0M526.6 273.1h0M372.6 464.9h0M544.8 418h0M344.8 155.3h0M445.3 470.2h0M320.2 322.6h0M507.7 449.5h0M544.1 420h0M390.8 131.7h0M305.2 290.4h0M405.3 79h0M532.9 212.5h0M246.8 270.3h0M403.4 468.2h0M273.4 212.2h0M526.3 300.1h0M360.1 146h0M549 405.3h0M536 429.4h0M545.7 371.4h0M259.3 281.6h0M276.9 284.9h0M266.2 252.3h0M526.4 281.1h0M300.3 286.8h0M501.9 134.8h0M395.2 87.3h0M517.5 189.5h0M247.3 273h0M527.3 271.2h0M262.7 252.6h0M396.1 466.7h0M541.2 421.6h0M393.4 131.7h0M268.5 230.1h0M421.5 82.9h0M552.8 399h0M317.8 317.3h0M530.5 207.8h0M378.8 464.4h0M481.9 151.5h0M553.7 394.3h0M256.6 282.4h0M243.8 273h0M493.1 106.2h0M516.4 187.9h0M530.6 254.4h0M274.5 207.8h0M553.3 390h0M409.2 129.2h0M430.8 83.8h0M275.8 205.7h0M516.4 186.6h0M533.5 430.5h0M524.6 309.6h0M461.6 468h0M251.5 280.3h0M435.7 87.4h0M546 370h0M554.1 388.5h0M393.7 91.3h0M487.8 141.5h0M500.5 454.1h0M527 267.1h0M374.3 136.6h0M358.8 460.6h0M273.4 283.5h0M509.2 125.6h0M269.4 222.4h0M427.9 84.7h0M532.1 245.5h0M498 109.7h0M339.2 361.2h0M270.9 246.7h0M531.2 246.3h0M525.4 295.1h0M264.7 282.4h0M315.1 309.2h0M309.6 180.3h0M458.8 467.1h0M350.2 149.9h0M525.2 301.6h0M320 368.7h0M497.6 169h0M346 152.5h0M343.8 346.1h0M531.3 247.8h0M529.4 266.3h0M539.3 423.2h0M534.9 222.1h0M490.3 102.7h0M449.3 88.2h0M486.8 459.9h0M532.1 217.7h0M491.1 141.1h0M525.2 320.8h0M527.4 278.7h0M318.1 369.1h0M490.9 162.9h0M501.3 114.1h0M533.6 220.3h0M525.2 296.1h0M414.4 111.1h0M534.8 226.6h0M507.3 131.2h0M408.8 469.5h0M483.3 149.6h0M489.3 160.9h0M440.5 88.6h0M393.5 92.3h0M546 372.3h0M498.9 135.7h0M282.4 282.9h0M553 403.2h0M526.4 277h0M394 93.2h0M471.4 93.7h0M531.4 251h0M493.3 106.7h0M376.9 463.2h0M530.3 252.8h0M283.4 282.8h0M496 109.5h0M275.1 210.2h0M543 421h0M406.9 105.5h0M527.9 333.6h0M493.4 105.9h0M270.7 217.1h0M334.9 362.1h0M508.9 180h0M318.1 316.7h0M315.2 174.5h0M442.9 470.7h0M336.8 162.5h0M296.3 285.3h0M341.8 358.7h0M254.1 279.9h0M496.2 110.6h0M340.9 157.1h0M254 280.3h0M460.4 90.5h0M312.9 177.2h0M275.9 206.9h0M403.4 79.5h0M447.8 88.1h0M525.5 273.9h0M540.2 360.1h0M464.2 90.7h0M317.6 176.3h0M337.3 341.8h0M414.5 109.2h0M435 471.4h0M266.9 284.6h0M524.3 304.6h0M360.4 146.6h0M333.6 336.4h0M329.7 366.5h0M252 265.1h0M242.9 272.5h0M443 88.5h0M529.5 343.3h0M270.9 283.5h0M380.5 134.7h0M471.7 94.2h0M286 200.7h0M354 148.5h0M534.6 221.2h0M320.6 326.1h0M445.8 470.3h0M496.7 137.7h0M535.5 429.6h0M537.5 426.2h0M337 339.8h0M400.9 82.1h0M527.1 200.3h0M525.1 196.3h0M459.4 467.5h0M307.4 292.8h0M491.3 167.3h0M480.1 461.8h0M534.9 227.5h0M502 135h0M527.2 265.6h0M510.4 177.8h0M368.9 141.3h0M288.3 285.1h0M317 315.5h0M311.3 180h0M308.3 181.8h0M316.9 312.9h0M549 376.3h0M487.7 458h0M269.9 244.9h0M534 430.9h0M540 423.1h0M408 467.8h0M525.1 197.5h0M553.1 398.6h0M554.4 390.4h0M420.6 81.3h0M530 251.7h0M361.6 144.7h0M503.2 451.6h0M334.2 164.1h0M449.4 87.1h0M454.3 87.6h0M345.7 348.2h0M552.8 382.8h0M375.5 138.9h0M321.6 444.4h0M374.3 463.7h0M540.3 358.3h0M395.2 87.9h0M494.1 167.9h0M356 148h0M319.8 367.1h0M362.5 462.1h0M527.8 322.9h0M268.1 234.4h0M266.6 251.3h0M482 152h0M531.5 242.3h0M528.5 434.5h0M270.5 282h0M526.4 321.1h0M450.3 87.9h0M274.9 211.2h0M324.9 332h0M518.4 191.4h0M526.1 326.2h0M264.2 282.6h0M538.9 360.2h0M549.5 377.2h0M526 262.8h0M256.4 261.3h0M270.1 223h0M338.2 340.7h0M285.3 200.5h0M397.5 467.3h0M321 327.6h0M367.7 464.1h0M342.2 357.5h0M262.7 282.5h0M493.6 166h0M547.3 376.7h0M448.9 470.7h0M441.5 472.1h0M458.8 91h0M404.8 128.6h0M417 111.6h0M320.6 369.2h0M267.5 225.4h0M298.2 287.2h0M514.4 184.9h0M388.9 467.1h0M415.3 124.8h0M381.4 134.4h0M442.4 470.7h0M484.4 160.5h0M300.1 287.2h0M507.4 450h0M338.5 344.2h0M402.9 106.6h0M547 369.5h0M373.3 136.9h0M429.6 470.8h0M527.2 202.5h0M324.4 328.6h0M413.4 468.3h0M404.8 80.8h0M507.5 130.4h0M383.7 133.8h0M399.3 131.1h0M489.8 460.9h0M488.4 142.4h0M460.8 466.9h0M340.9 357.6h0M287 282.4h0M344.7 347.3h0M530.1 339.3h0M341.6 156.4h0M402.5 104.7h0M504.1 133.7h0M322.5 328.4h0M327.9 333.4h0M460.6 89.3h0M358.9 145h0M331.7 363.6h0M510.4 450.4h0M294.8 283.3h0M486.9 101.3h0M273.1 240.2h0M526.8 202.2h0M456.7 88.3h0M307.7 373.8h0M488.2 459.3h0M507.8 124.1h0M445 85.9h0M289.3 197.6h0M248.4 278.3h0M443.3 470.4h0M340.2 342.3h0M527.5 292.7h0M481.5 149.8h0M333.7 165.1h0M506.2 176.5h0M316.3 313.6h0M310.2 181.1h0M464.8 466.3h0M407.1 129.2h0M497.7 137.5h0M489.3 101.5h0M536.9 425.7h0M293.4 194.6h0M393.5 93.8h0M279.9 202.4h0M389.4 467.2h0M450.9 470.4h0M482.1 459.7h0M249.3 279.1h0M247.5 267.7h0M304.6 185.2h0M333.2 162.8h0M494.2 138.4h0M525 295.6h0M418.7 114.5h0M304.8 185.4h0M315.2 307.6h0M318 174.1h0M448.9 86.9h0M427.1 472.1h0M532.4 243.5h0M399.2 130.5h0M451.3 469.9h0M527.4 334.3h0M503.4 121.4h0M552.8 389.2h0M395.2 89.4h0M549.7 379.3h0M527.6 437.1h0M329.8 335.9h0M267.9 224h0M486.6 161.1h0M367.2 463.7h0M384.3 134.1h0M306 292.7h0M494.1 167.9h0M508 128.2h0M265.7 248.1h0M265 254.6h0M332.5 166h0M404.3 128.5h0M534.4 351.8h0M249.8 268.4h0M486.6 146h0M375.6 137h0M453.4 468h0M418.3 115.9h0M319 368.3h0M301.3 189.8h0M447.7 470h0M524.4 296.5h0M316 312.1h0M456.7 88.6h0M399.9 104.9h0M453.7 88.5h0M264.5 254.9h0M311.7 297.7h0M482.9 157.9h0M500.8 170.5h0M539.4 423.9h0M503.5 120.1h0M335.4 162.3h0M395.4 91.4h0M525.8 297.1h0M389.6 466.2h0M394.8 94.4h0M506.9 124.7h0M259.6 258h0M426.7 82.2h0M377.5 465.8h0M516.4 444.2h0M385.6 465.4h0M395.9 86.2h0M249.5 278.8h0M539.8 360.3h0M313.4 177.9h0M530.1 337.7h0M415.7 110.8h0M426.7 470.2h0M505.3 176h0M267.6 228.3h0M298.7 190.7h0M379.4 463.5h0M338.3 453.3h0M551.3 404.7h0M528.9 330.3h0M345.5 349.6h0M374.1 464.9h0M543.6 369.7h0M395.3 468.5h0M486.4 144.1h0M305.3 293.6h0M505.1 133.5h0M262.2 254.9h0M330.1 167h0M308.2 294.2h0M487 142.4h0M489.5 163.1h0M244.7 272.5h0M278.4 284.2h0M313.9 368.3h0M377.3 135.9h0M405.9 81.5h0M533.9 229.5h0M328.6 333.1h0M268.3 225.1h0M386.7 131.8h0M519.3 191.3h0M334.4 336.2h0M305.2 182.8h0M328.7 365.6h0M507.6 126.6h0M554.4 389.9h0M333.1 336.3h0M551.7 401.2h0M517.7 187.4h0M535.1 231.5h0M531.3 251h0M310.4 297.9h0M470.3 464h0M433.1 472h0M334.7 362.8h0M265.9 284.4h0M251.9 280.5h0M345.8 348.9h0M417.7 113.8h0M364.5 142.5h0M366.8 142.6h0M531.4 208.4h0M448.4 87h0M468 464.8h0M311.8 299.5h0M553 400.6h0M336.2 362.1h0M447.5 468.6h0M363.3 143.5h0M496.9 137.1h0M533.6 348.8h0M440 88.1h0M317.8 322h0M335.7 338.1h0M269.5 228.2h0M400.5 129.3h0M399.4 129.3h0M376.9 137.2h0M523.9 438.1h0M268.5 232.9h0M494.2 167.6h0M377.6 135.5h0M474.8 464.9h0M428.1 82.5h0M338.3 341.4h0M341.9 452.6h0M540.2 423.9h0M307.8 296h0M296.9 190h0M324.1 332.1h0M277.9 284.9h0M443.4 471.3h0M379.9 133.2h0M418.2 82.4h0M253 280.2h0M431.6 471.5h0M525.3 321.8h0M313.5 305h0M340.5 159.1h0M531.7 349.1h0M538 355.6h0M380.4 463.6h0M497.7 168.9h0M499.5 169.7h0M426.2 83.3h0M490.4 164.4h0M505.1 133.4h0M453.9 86.7h0M526.6 329.8h0M432.1 471.8h0M524.5 283.9h0M342.9 345.4h0M491.4 139.6h0M526.8 282.6h0M372.1 461.8h0M498.6 135h0M324.3 331.2h0M452.9 87.2h0M319.4 368h0M492.7 165.5h0M534.1 214.8h0M517.9 444.6h0M314.4 306.2h0M521.4 193.5h0M414.3 111.4h0M503.6 173.5h0M535.6 239.6h0M318.6 320.6h0M526.4 285.6h0M391.4 132.5h0M265.6 282.7h0M262.7 255.3h0M492.8 166.2h0M316.4 177.1h0M292.5 284.5h0M529.9 434.5h0M272.4 284.3h0M347.1 456.7h0M302.5 188.1h0M308.4 297.4h0M497.8 137.7h0M285.9 284.6h0M476.5 461.8h0M348 151.9h0M400.8 83.6h0M341.1 343.6h0M492.7 105.8h0M512 182.5h0M378.5 134.9h0M428.1 471.3h0M522.1 442.1h0M552.4 397.4h0M425.2 470.3h0M388.5 133.6h0M423.4 84.8h0M325.8 366.3h0M255.3 279.4h0M550.4 401.8h0M408.4 79.4h0M330.5 336.6h0M334.8 362.8h0M402.5 129.8h0M301.5 189.2h0M315.1 177.8h0M259.7 282.2h0M270.7 247.1h0M459 89.5h0M272 240.3h0M320.5 322.4h0M475.2 462.8h0M472 93.6h0M498.7 109.8h0M374.8 137.6h0M525.6 278.9h0M395 94.8h0M471.5 92h0M329.9 447.9h0M531 433.6h0M506.4 450.4h0M245.8 277.2h0M534.5 223.2h0M509.1 128.6h0M289.9 197.6h0M528.3 331.4h0M346.4 348.7h0M300.1 289.7h0M418.9 83.4h0M531.4 252.5h0M341.6 344.5h0M340.2 452.7h0M525 198.3h0M428.8 85.4h0M496.6 110.9h0M491.6 165.2h0M525.5 437.8h0M533.9 243.4h0M482.8 155.9h0M336.1 163.3h0M469 91.7h0M318.3 317.7h0M329.7 447.2h0M547.1 372.2h0M290.5 283.7h0M524.7 308.6h0M516 446.2h0M492.9 107.7h0M308.3 294.2h0M450.3 87.4h0M394.6 92.1h0M316.1 314.2h0M409.7 108.4h0M282.4 283.1h0M525.5 310.1h0M501.4 117.8h0M253 265.4h0M527.6 333.7h0M532.1 345.5h0M374.8 138.6h0M550.3 379h0M331.2 367h0M547.2 373.3h0M464 89.7h0M272.6 210.2h0M405.2 104.7h0M340.4 360.3h0M274.9 211.2h0M532.6 244h0M528 270.2h0M533.8 238.2h0M428 86.1h0M414.8 80.2h0M503.9 175.4h0M548.6 407.8h0M481.8 156.3h0M492.3 104.2h0M454.9 87.1h0M505.3 122.9h0M531.3 251.5h0M316.5 303.9h0M387.1 131.4h0M543.9 367.2h0M540 422.5h0M372.2 138h0M527.2 435.3h0M545.8 414.6h0M246.3 271.3h0M524.3 290.5h0M305.7 181.9h0M423 83.1h0M390.3 383.6h0M440.7 280.7h0M272.8 245.5h0M402.1 364.8h0M551.5 392.8h0M342.7 286h0M520.1 441.4h0M394.4 186.9h0M360.7 209.8h0M380.3 252.6h0M359.2 438.5h0M445.1 145.3h0M533.6 378.9h0M370 252.2h0M298.7 244.7h0M429.6 450.1h0M334.7 203.1h0M275.4 228.2h0M451.7 421.9h0M445 147.1h0M340.2 292.8h0M427.9 243.9h0M527.2 383.6h0M481.3 105.2h0M449.1 226.8h0M460.6 114h0M473.6 358.5h0M385.2 308.9h0M446.5 368.3h0M450.1 214.1h0M389.3 464.3h0M481 183.6h0M276.8 284.3h0M505.9 392.2h0M291.4 201.8h0M370.7 436.7h0M549.9 389.2h0M446.6 186.1h0M381 182.3h0M497.1 198.4h0M488.5 355.4h0M473.6 415.5h0M452.9 169.7h0M483.1 453.4h0M295.7 280.1h0M413.9 414.8h0M354.3 170.3h0M406.7 428.9h0M380.2 296h0M450.2 138.5h0M359.9 236.6h0M455.4 148.3h0M435.9 133.2h0M476.9 170.4h0M369.4 175h0M420.7 317.5h0M528 382.9h0M412 280.6h0M350.2 322.2h0M447.7 240h0M379.8 332.3h0M439.9 348.8h0M370 298.7h0M405.2 225h0M338.8 224.9h0M503.7 401.4h0M367 388.1h0M477.7 377.4h0M387.6 401h0M393.7 89.9h0M523.8 205.8h0M506.9 183.3h0M423.8 89.5h0M253.8 264.1h0M521.6 361.1h0M412.2 400.8h0M487 434.4h0M461.4 387.3h0M462.4 209.7h0M455 331.6h0M422.5 289.8h0M444.7 423.4h0M377.8 380.5h0M477.2 112.1h0M448.9 203.5h0M311.5 254.5h0M461.5 197h0M372.5 456.7h0M387.7 287h0M268.6 223.8h0M355.5 372.7h0M385.9 354.4h0M432.6 226.9h0M353.4 184.5h0M448.6 458.6h0M417.1 425.3h0M389.1 325.6h0M401.4 254.6h0M406.1 104.2h0M481.1 154.6h0M394.4 414.7h0M454 306.1h0M359.2 307.2h0M361.9 209h0M452.3 113h0M295.1 228.1h0M380.9 155.9h0M315.3 195.6h0M451 427.6h0M440.7 381.7h0M519.7 393.8h0M393.8 191.6h0M357.3 203.8h0M437.9 196.4h0M535.7 361.8h0M449.4 120.3h0M402.6 316h0M413.5 386.8h0M375.6 175h0M492.4 381.4h0M506.6 328.6h0M412.6 447.7h0M428 446.5h0M477.8 151.4h0M536.2 423.2h0M370.6 365.5h0M299.5 200.9h0M427.6 396.6h0M435.1 182.2h0M305.4 284.1h0M486.4 269.8h0M426.8 217.4h0M272.7 263.1h0M357.1 327.7h0M482.6 361.5h0M346.3 423.9h0M466.6 92.9h0M423.1 313h0M279.3 208.2h0M445.8 323.8h0M488.7 393.9h0M322 236h0M420.5 238.4h0M504.2 240.3h0M340.8 380.9h0M467.7 192.4h0M456.7 273.1h0M456.3 449h0M516.3 374h0M526.1 263.9h0M485.6 255.6h0M383.1 355.3h0M360.1 292.3h0M442.5 459.4h0M423.2 259.2h0M371.6 171.8h0M428.2 299.6h0M397.8 332.8h0M333.1 219.1h0M379.2 385.6h0M450.3 469h0M413.6 270.9h0M487.8 350.2h0M391.8 170.8h0M382.8 323.8h0M488 386.8h0M409.7 328.7h0M428.5 158.8h0M480.5 430.7h0M425.2 295.8h0M376.2 338.1h0M438.7 208.7h0M348.7 429.7h0M477.4 178.2h0M410.5 236.8h0M375.5 207.3h0M320.8 320.9h0M428.5 246.3h0M454.9 443.8h0M358 271.2h0M481.7 439h0M339.3 248.7h0M506.1 181.2h0M492.5 171.4h0M307.7 209.6h0M312.3 181.8h0M445.9 304.1h0M412.8 149.9h0M492.2 180.3h0M344.6 234.1h0M430.4 378.2h0M354.3 381.2h0M381.9 205.6h0M417.3 229.5h0M341.4 231.7h0M484.9 284.6h0M468.2 225.1h0M397.1 87.1h0M366 156.7h0M373.9 447h0M276 212.9h0M330.6 296.3h0M293.9 196.4h0M384.1 313.4h0M486.6 434h0M429 461.4h0M435.2 249h0M361 187.1h0M321.6 309h0M477.2 148.7h0M480.6 227.8h0M534 396.1h0M373.9 232.2h0M467.4 216.9h0M463.8 264.6h0M489.3 317.9h0M504 441.8h0M487.5 354.1h0M353.9 148.6h0M393.2 350.1h0M389.6 297.8h0M515.1 379.6h0M447.7 175.6h0M459.5 130.4h0M403.1 432.9h0M272.4 272.2h0M367.9 401h0M507.5 318.6h0M396.2 272.9h0M512.2 300.3h0M497 417.6h0M413.1 235.3h0M434.5 444.7h0M439.8 90.2h0M423 234.6h0M403 388.2h0M425.1 409.8h0M388.3 439.1h0M503.6 425.2h0M391.9 198.2h0M474.5 192.4h0M446.6 214.7h0M350.7 425.4h0M437.4 276h0M540.2 410.4h0M453.6 142.8h0M353.9 426.4h0M470.1 271.3h0M514.5 397h0M483 97.4h0M376.2 239h0M333 166.2h0M390.3 182.7h0M448.8 418.7h0M498.9 281.4h0M521.6 323h0M488.4 430.6h0M471.2 278.5h0M412.9 211.3h0M348.6 325.7h0M443.3 139.4h0M415.9 254h0M428.3 139.1h0M439.7 341.9h0M482.8 398.5h0M328.8 243.3h0M276.3 215.5h0M352.4 169h0M458.4 152.8h0M457.3 114.8h0M357.6 158.2h0M378.5 135.4h0M357 205.9h0M441.9 234.9h0M499.6 258.4h0M391.2 160.3h0M438.4 281.7h0M373.5 419h0M394.6 139.9h0M448.2 93.9h0M404.7 381.9h0M313.9 260.5h0M407 299.8h0M440.6 256.4h0M346.7 301.3h0M436.2 347.9h0M515.5 335h0M454 122h0M438.5 192.9h0M390.5 428.6h0M491.6 367.4h0M376.1 176.1h0M405.4 276.7h0M268.7 256.4h0M413.5 425.1h0M345.1 209.7h0M464 171.1h0M480.9 220.6h0M356.6 387.3h0M437.7 163h0M415.4 214.6h0M371.6 329.2h0M525 236.9h0M459.5 356.3h0M470.3 180.9h0M439.6 126.8h0M439.6 288.2h0M450.8 390.5h0M403.9 369.4h0M275.4 222.1h0M353.8 198h0M456.5 446h0M405.5 218.3h0M425 377.4h0M469.8 235.7h0M413.4 198.5h0M488.8 327.2h0M375.5 287.3h0M517.7 279.3h0M419.5 262.6h0M452.3 415.1h0M391.9 367.6h0M378.4 265.5h0M427.9 448.5h0M419.5 426h0M477.3 119.7h0M461.5 159.7h0M376.6 163.4h0M277.8 259.1h0M408.8 261.9h0M533.5 397.1h0M525.9 415.3h0M290.2 279.5h0M494.1 428.1h0M465.2 420.9h0M446.3 374.3h0M518.1 332.9h0M499.1 121.7h0M419.3 404.6h0M416.9 376.2h0M469.8 259.1h0M340.9 314.7h0M289.4 283.4h0M532.5 391.3h0M447.7 462.9h0M301 214h0M419.7 354.9h0M390.6 375.7h0M355.4 444h0M482.5 456.4h0M460.5 375.4h0M417.4 427.2h0M464.2 366.3h0M383.2 321.8h0M481.2 353.6h0M512.1 193.7h0M467.9 409.4h0M368.1 313.9h0M270.6 242.9h0M348.2 307.8h0M487.7 253.9h0M425.9 377.4h0M363.6 160.7h0M382.8 204.3h0M394.8 217.5h0M397 365.9h0M303.8 241.3h0M525.1 274.7h0M443.8 222.7h0M475.1 323.3h0M535 367.6h0M370 376h0M455.9 264.7h0M528 430.3h0M479.7 318h0M390.7 246.1h0M412.4 375.2h0M386.4 369.7h0M492.6 330.1h0M358 326h0M404.3 379h0M396.3 428.1h0M365.9 291h0M374.9 418.2h0M444.9 429.8h0M368 184.9h0M463.2 228.2h0M489.4 220.5h0M372.2 446.9h0M268.8 234.5h0M370.3 340.6h0M509.3 305.8h0M386.9 326h0M523.1 406.7h0M411.3 210.1h0M355.8 335.8h0M413.8 251.5h0M402.2 222.8h0M386.3 429.6h0M310.5 297.3h0M431.7 140.7h0M537.9 381.3h0M372.2 429h0M379.4 438.3h0M392.5 244.7h0M383 395.3h0M522.2 368.1h0M336.7 173.9h0M340.7 258.2h0M516.3 394.7h0M391.9 170.7h0M485.6 274.7h0M363.4 341.3h0M378.8 171.7h0M379 349.8h0M500.9 331.6h0M402.3 336.7h0M413.7 213.6h0M476.9 237.9h0M525.8 317.4h0M407.6 270.8h0M475.2 170.4h0M310.1 225.4h0M478.6 279.1h0M397.3 306.2h0M332.1 272.2h0M367.5 386.2h0M480.1 251.7h0M464.1 421.5h0M414.6 291.9h0M287.5 284.1h0M525.3 430.6h0M508.3 272.8h0M486.9 218.2h0M464.3 100.1h0M279.7 266.2h0M475.1 309.1h0M460.3 216h0M317.3 240.3h0M528 422.8h0M401.3 92.7h0M520.8 252h0M490.5 117.3h0M341.7 252.7h0M295.4 270.3h0M317.5 392.3h0M464.8 111.8h0M329.6 365.6h0M456.2 357.9h0M393.6 430.5h0M388.3 416.6h0M476.8 298.1h0M309.6 216.1h0M358.5 217.9h0M450.7 100h0M438.6 353.5h0M413.9 383.9h0M460.5 210.9h0M401.9 301.8h0M503.7 449.8h0M394.2 138.5h0M388.6 305.6h0M375.5 439.6h0M506.7 315.8h0M492.6 400.1h0M425.9 194.3h0M295.7 229.8h0M382.1 270.9h0M294.9 209h0M498.8 348.6h0M301.7 221.8h0M433.6 226.4h0M362.4 148.3h0M485.9 165.1h0M388.1 233.1h0M515.5 352.4h0M412.9 158h0M405.8 202.2h0M474.3 428.5h0M373.6 367h0M438.1 371.3h0M397.7 158.8h0M390.6 442.2h0M400.3 217h0M385.9 252.5h0M524.1 389.9h0M421.6 471.2h0M452.1 94.4h0M421.8 249.2h0M477.2 441.4h0M463.6 269.9h0M462.8 382.7h0M429.7 465.4h0M405.2 459.7h0M377.6 441h0M372 380.2h0M326 276.9h0M358.3 248.5h0M309.7 381.3h0M529.7 230.3h0M381.8 232.6h0M483.1 99.9h0M371 273.7h0M363.1 159.5h0M460 273.7h0M345.3 354h0M355.1 314.6h0M445.6 98.8h0M311.8 297.1h0M441.6 251.9h0M369 196.3h0M452.5 306h0M429.2 380.3h0M482.9 112.5h0M434 317.1h0M347.7 309.8h0M517.8 241.3h0M514.8 448.8h0M477.4 173.4h0M432.3 382.7h0M344.6 177.2h0M380.4 334.6h0M431.4 471.5h0M338.6 250.6h0M506.5 127.6h0M522 259.4h0M453.5 389.8h0M484.3 428.1h0M397 193.8h0M536.6 398.3h0M497 364.5h0M372.1 374.5h0M461 426.2h0M446.2 125.5h0M361.8 206.6h0M313.6 196.6h0M462.7 438h0M457.7 169h0M446.4 350.2h0M504.4 321.4h0M416.3 119.6h0M406 355.7h0M496.7 333h0M517.3 347.5h0M336.8 360h0M496.9 241h0M400.5 187.3h0M476.8 372.4h0M422.1 180.3h0M494.9 332.8h0M348.8 451.3h0M331.5 381.8h0M385.6 203.4h0M314.8 196.5h0M535.7 226.1h0M404.1 137.2h0M286.6 224h0M344.7 282h0M406.5 171.8h0M520.2 348.6h0M435.5 296.4h0M343.1 250.9h0M514.2 402.5h0M518.7 267.5h0M371.3 351h0M424.9 333.7h0M490.5 307h0M415.3 247.7h0M530.9 377.9h0M503.7 366.1h0M282.5 273.1h0M404.7 314.5h0M440.2 223.1h0M400.3 426.8h0M394.3 144.4h0M450.4 384.2h0M462.7 131.3h0M278.8 256.9h0M395 140.8h0M444.2 285.4h0M342.8 324.3h0M372.7 382.4h0M311.5 285.1h0M391.2 368.7h0M500.2 338.5h0M394.7 178.8h0M480.7 386.5h0M475.4 426.5h0M378.4 437.1h0M490.6 419.8h0M395.6 366.8h0M437.2 142.6h0M320.6 314.2h0M355.4 459h0M353.6 211.4h0M428.9 211.7h0M530.9 370.9h0M331.5 252.7h0M413.1 177h0M416.6 243.2h0M478.1 280h0M317.4 179.5h0M450.9 234.8h0M313.8 184.6h0M339.8 274.8h0M462 261.2h0M341.9 288h0M469.4 410.1h0M380.3 245.2h0M371.4 287.3h0M509.4 443.8h0M441.6 210.4h0M432.6 207.8h0M479.6 331.2h0M497.5 276.1h0M318 191h0M343.1 319.5h0M426.3 402h0M462.3 151.1h0M468.7 456.4h0M414.5 299.5h0M288.2 259.6h0M422 464.2h0M382.5 297.8h0M366.9 284.4h0M357.7 270.8h0M476.4 93.8h0M367 372.2h0M292.5 209.1h0M524.9 304h0M379.9 330.8h0M474.2 275h0M358.5 156.6h0M518.1 413.1h0M503.3 330.5h0M411.9 359.3h0M310.6 189.6h0M356.3 300.9h0M541.8 418.6h0M489.5 372.5h0M529 351.9h0M428.8 167.4h0M422.7 375.4h0M507.3 393h0M438.1 100.1h0M460.2 318.8h0M469.7 209.9h0M325.1 297.2h0M464.1 251.6h0M510.5 368.2h0M367.8 233.1h0M454.1 372.2h0M385.6 205.4h0M442.6 326.7h0M397.7 273.9h0M415 192.3h0M337.9 256.2h0M536.2 412h0M378.2 459.3h0M352 193.8h0M417.6 175.1h0M505.5 347.2h0M368.6 199.5h0M299.8 268.5h0M432.9 178h0M467.3 460.9h0M498.7 223.9h0M403.4 308.2h0M390.1 257.7h0M345.4 443.2h0M496 172.5h0M339 343.4h0M350 420.6h0M333.4 262.1h0M500.6 257.7h0M374.1 206.3h0M393.5 187.4h0M365.1 320.9h0M341.3 359.5h0M465.1 278.9h0M402.9 356.2h0M367 219.1h0M481.8 310.4h0M414.4 384.4h0M380 280.9h0M328.5 324.8h0M346.2 166.2h0M407 215.4h0M312.1 198.1h0M429.7 318.1h0M270.2 280h0M517.6 386.1h0M372.8 301.7h0M454.4 262h0M505 238.7h0M290 226.4h0M409.4 83.2h0M471.8 171.6h0M407 342h0M540.6 371.6h0M444.7 298.1h0M256.7 273.2h0M249.6 269.6h0M368.4 462.8h0M460.9 189.9h0M372.2 268.3h0M378.7 332.4h0M445.6 117.2h0M486.5 271.6h0M275.8 240.1h0M499.7 126.5h0M533 394.6h0M426.5 235.2h0M430.8 311.3h0M372 462.7h0M465.9 176.4h0M353.5 202.3h0M411.3 249.1h0M358.4 163.5h0M525.8 200.3h0M426.4 339.8h0M472.1 454h0M394 319.9h0M526.6 386.3h0M479.3 354.1h0M532.6 355.3h0M426.6 150.4h0M413.6 98.1h0M410.1 371.3h0M493.6 426.6h0M365.4 434h0M487.1 277.6h0M409.3 390.8h0M446.1 214h0M435 106.3h0M390.4 214.7h0M420 218.9h0M402 431h0M369 204.8h0M476.2 274.6h0M477.5 359.6h0M412.3 210.2h0M509 361.9h0M473 364.9h0M360.6 426.8h0M450.6 193.4h0M501.2 321.7h0M482.2 161.9h0M346.6 427.8h0M357 197.9h0M387 211h0M447.6 459.4h0M478.9 210.3h0M527.4 355.5h0M297.1 236.6h0M390.5 179.9h0M511.2 302.6h0M457.6 176.3h0M387.8 156.5h0M469.9 440.3h0M395.7 384.4h0M323.3 418.2h0M420.2 238.1h0M491.2 212.9h0M468.3 300.3h0M338.5 375.8h0M357.1 345.5h0M384.6 139.3h0M401 352.8h0M341.2 433.9h0M439.8 162.7h0M309.6 218.4h0M515.6 266.6h0M270.1 265.6h0M472.3 307.2h0M471 225.3h0M297.3 278.3h0M487.6 247.6h0M448.6 251.2h0M487.6 437.4h0M497.8 215.7h0M428.4 180.4h0M327.6 274.5h0M510.7 229.3h0M491.2 231.2h0M343.5 283.8h0M372.9 433.6h0M306.7 201.7h0M352.4 264.2h0M519.2 199.6h0M411.4 96.4h0M375.4 349.8h0M542.5 398.1h0M454.1 160.1h0M537.1 413.5h0M309.3 372.5h0M378.9 414.8h0M433.4 110.6h0M425 405.7h0M534.3 425.7h0M492 201.9h0M436.7 101.9h0M289.8 206.1h0M349.1 274h0M481.7 363.2h0M477.8 341.9h0M327.6 268.8h0M389.1 327.4h0M435.4 403.5h0M489.9 291.8h0M368.6 204.6h0M474.9 154.4h0M417.9 379.4h0M493.7 355.3h0M519.8 368.1h0M400.4 162.6h0M535.4 394.3h0M353.3 304.8h0M476.9 305.1h0M97.5 290.6h0M92 288.2h0M99 287.8h0M95.8 288.2h0M98.6 289h0M97.6 288.6h0M99.7 289.9h0M96.5 290.2h0M96.4 286.1h0M92.2 286h0M98.9 289.3h0M95.7 288.5h0M101.4 291.1h0M95.1 286.6h0M97.3 287.4h0M96.4 288.4h0M102.9 291.3h0M97.7 288h0M96.8 289.3h0M101.7 291.9h0M100.4 289.8h0M103.2 290.8h0M91.3 287.9h0M94.6 288.1h0M102.2 291.4h0M94.6 287h0M92.2 287.6h0M101 289h0M94.5 288.3h0M98.4 290.9h0M98.1 287.5h0M95 286.2h0M94 287h0M92.5 286.7h0M99 289.8h0M100.5 291.5h0M96.9 289.2h0M91.8 286.3h0M101.1 290h0M108.2 292.6h0M103.4 293.4h0M109.6 295.5h0M107.4 294.2h0M104.4 293.7h0M105.6 293.7h0M109.1 296.2h0M103.7 293.1h0M105.8 293h0M110.2 295.8h0M107.8 294.5h0M110.3 295.7h0M110.8 297h0M111 296.7h0M119.6 301.8h0M117.9 303.2h0M122.3 307.5h0M120.2 306.2h0M119.8 306h0M120.9 304.4h0M124.1 309.8h0M122.3 309.3h0M126.6 315.9h0M125.9 317.7h0M126.3 313h0M128.9 315.5h0M129.5 316.9h0M137.8 309h0M123.8 313.2h0M126.2 311.9h0M132.8 308.5h0M134.2 312.6h0M127.9 310.9h0M126 316.8h0M126.8 317.9h0M126.5 317.1h0M121.3 316.8h0M127.1 314.2h0M133.9 306.7h0M124.3 315.4h0M129.9 313.8h0M123.9 313.2h0M129.2 311.7h0M136.9 310.2h0M129.5 313.3h0M122.8 313.3h0M130 318.4h0M125.1 311.9h0M125.4 317h0M123.7 314.6h0M130.7 311.2h0M130.1 311.8h0M133.1 311h0M131.7 310.5h0M129 314.6h0M127.6 310.2h0M131.3 311.7h0M134.7 310.6h0M131 309.5h0M134.6 310.9h0M127.7 313.1h0M129.6 313h0M125.7 315.5h0M130 314.6h0M128.5 310.2h0M130.7 313.5h0M126 314.4h0M127.9 308.3h0M107.8 329.6h0M111.2 325.2h0M120.2 318.7h0M116.9 321.4h0M124.6 316.6h0M119.5 320.6h0M118.7 319.8h0M108.8 327.3h0M122.6 317.3h0M110.6 326.3h0M110.4 325.5h0M121 318.9h0M114.6 323.2h0M115.7 323.5h0M122 317.4h0M117.5 320.6h0M118 320.5h0M120.3 321.1h0M109.8 326.2h0M109 325.8h0M123.4 314.2h0M118.2 319.5h0M117.6 324.4h0M107.1 324.9h0M115.6 324.5h0M117.4 321.4h0M112.2 323.6h0M119 317.5h0M106.7 325.7h0M173.9 321.9h0M148.6 313.3h0M173.2 320h0M159.1 316.9h0M164.1 318.6h0M139.4 312.2h0M165.5 318.1h0M141.1 312.8h0M155.8 316.8h0M179.9 323h0M180.6 323.4h0M146.1 313.6h0M176.1 321.6h0M171.2 320.3h0M143 312.5h0M145.2 312.6h0M151.2 315.6h0M155.8 315.4h0M172.8 321.4h0M139.8 311.1h0M164 319.1h0M175.9 321.5h0M138.8 311.7h0M171.3 320.8h0M171.3 321.4h0M156 316.1h0M139.6 310.8h0M138.9 310.1h0M171 320.3h0M138.3 309.8h0M173.7 321.6h0M152.7 315.7h0M160.3 317.5h0M166.5 319.8h0M114.3 287.6h0M280.1 136.7h0M289.1 143.1h0M287.9 145.8h0M286 142.8h0M286.3 142.4h0M286 142.1h0M286 141h0M288.5 143.4h0M288.8 144.1h0M281.9 137h0M280.9 135.7h0M286 140.9h0M284.5 140.6h0M284 140.8h0M286.6 140.2h0M284.1 139.9h0M283.7 140.4h0M289.1 144.9h0M281.7 137.4h0M283.6 138.4h0M299.1 151.3h0M300.3 158.1h0M304.5 155.9h0M300.5 155.3h0M293.5 150.6h0M296.8 152.5h0M302.3 154.4h0M300.9 155.8h0M301.4 153.9h0M298.2 153.7h0M299.5 154.7h0M305.2 155.6h0M301.5 153.2h0M306.4 156.4h0M302.1 150.9h0M298.7 153.7h0M304.8 154.1h0M295.7 152.4h0M293.7 146h0M296.9 150.5h0M300 163.1h0M301.4 157.5h0M299.7 153.8h0M295.7 151.3h0M298 156.2h0M294.9 149h0M296.7 151.9h0M303.7 154.5h0M293.4 146.3h0M306.2 155.4h0M293.7 146.6h0M294.5 148.6h0M292.4 144.8h0M294.2 148.3h0M303.6 159h0M300.3 160.2h0M303.1 161.4h0M302.7 159.5h0M297.8 154.7h0M298.5 147h0M302.9 157.9h0M306.7 159.2h0M303.9 156.5h0M296.8 150.6h0M301.7 153.7h0M301.6 153.9h0M303.7 155.5h0M294.1 148.4h0M296.9 147.9h0M313.7 164.1h0M307.7 169h0M311.9 162h0M301.5 157.6h0M306.1 165.2h0M306.7 163.7h0M311.6 168.5h0M309.6 166.2h0M300.8 164.3h0M299.7 138.3h0M329.7 124.2h0M341.3 120.8h0M365 113h0M378 106.7h0M390.7 100.6h0M387.1 100.6h0M399.8 110.9h0M398.6 114.1h0M393.2 92.4h0M392.4 93.2h0M399.4 110.1h0M398.2 104.5h0M392.8 101.1h0M393.2 93h0M412.4 117.2h0M399.9 108h0M408.4 113.8h0M392.5 101.8h0M396.2 101.3h0M406.8 115.5h0M410.3 118h0M236.4 255.7h0M235.5 253h0M236.6 252h0M236.8 255h0M234 270.4h0M234.7 271.5h0M235.4 272h0M240.6 270.6h0M239.5 267.1h0M235.6 271.8h0M238.8 268.4h0M237.2 270.5h0M237 269.5h0M308.4 301.4h0M307.7 299.7h0M251.9 286.1h0M295.7 288h0M304.7 299.9h0M289.1 288.8h0M313.1 319.1h0M289.5 286.3h0M280.3 288h0M288.8 287.3h0M315.7 315.3h0M291.8 288.4h0M274.4 287.7h0M298.9 300.4h0M297.8 290.9h0M269.4 287.3h0M316 312h0M298.7 290.1h0M258.8 286.9h0M289 288.9h0M288.4 288h0M265.4 286.1h0M290.1 295.1h0M303.2 294.8h0M318.6 322.8h0M255.3 281.9h0M279.3 289h0M315.1 312.4h0M280.9 291.3h0M287.6 288.1h0M301.1 291.9h0M257.1 288h0M304.5 298.2h0M275.4 289.2h0M305.6 296.4h0M303.5 295.8h0M308 308.9h0M312.9 311.1h0M272.3 287.5h0M279.3 288.5h0M279.3 291.1h0M304.5 304.8h0M289.5 287.5h0M304.8 309.4h0M266.5 285.4h0M262.6 293.3h0M307.2 299.7h0M252.3 284h0M303 304h0M295.4 290.5h0M310.9 304.6h0M291.1 292.5h0M254.6 284h0M311.2 306.6h0M255.8 282.9h0M311.3 322h0M304.9 295.5h0M261 289.3h0M311.1 309.8h0M281 286.8h0M260.9 284h0M257.9 289.7h0M314.5 317.8h0M307.9 313.1h0M275.1 287.3h0M314.2 311.7h0M251.4 281.3h0M315.7 316.4h0M291 289.1h0M254.9 285.2h0M280.9 301.5h0M301.9 296.4h0M308.3 308.4h0M313.6 319.2h0M307 303.2h0M298.8 292.3h0M307.4 314.8h0M301.2 308.8h0M299.1 296.7h0M304.1 300.4h0M297.8 292.3h0M311.9 325.6h0M310.5 306.4h0M298.4 302.4h0M284.3 292.3h0M310.1 308.3h0M308.2 316.2h0M298.9 296.5h0M311.5 316.4h0M313.1 316.5h0M301.6 316.1h0M309.5 322.2h0M322.6 331.5h0M304.9 300.6h0M301.8 309.6h0M316.6 324.1h0M316.6 324.4h0M309.2 310.7h0M303.6 300.1h0M311.7 312.9h0M320.4 325.6h0M311.1 308.5h0M320.9 329.5h0M311.5 309.2h0M323.3 335.2h0M305.8 303.1h0M307.2 325.1h0M306.8 298.1h0M318.9 335.2h0M313.3 308.6h0M310.5 315.8h0M308.6 321.7h0M308.6 299.3h0M312.6 335.3h0M304 304.1h0M310.7 302.7h0M313.1 321.1h0M311.2 321.3h0M307.1 322.2h0M322.5 332.4h0M313.7 315.2h0M309.3 312.2h0M323.2 331.5h0M317.7 320.5h0M305.7 297.3h0M320.4 330.2h0M316.4 314.1h0M299.6 304h0M302.6 305h0M315.3 313.1h0M319.1 361h0M316.2 367h0M319 361.8h0M330.3 362.2h0M332.4 354.6h0M327.9 359h0M319.1 361h0M312.7 359.4h0M316.6 362.6h0M327.7 365.1h0M310 361.3h0M322 364.6h0M311.8 366.7h0M322.7 363.4h0M325.8 339.3h0M317.5 351.4h0M329.5 348.4h0M328.2 342.1h0M328.5 347.6h0M312.7 351.7h0M327.3 350.8h0M327.2 349.5h0M339.5 349.7h0M322.3 346.4h0M339.4 355.8h0M324.9 335h0M325 359.5h0M334.3 364.6h0M335.8 341h0M310.8 361.6h0M318.6 348.2h0M312 354.9h0M339.6 354.5h0M342.9 352.5h0M328.9 345.8h0M328.2 347.6h0M304 368h0M333.4 352h0M346.2 346.8h0M321.2 352.5h0M324.9 352.7h0M315 363.4h0M324.6 360.7h0M315.9 358.3h0M321.9 352.5h0M326.4 357.8h0M316.4 354.2h0M530.6 332.9h0M530.1 332.8h0M529 327h0M529.6 290.3h0M531.2 255.6h0M531.3 285.4h0M532.3 260h0M538.1 350.2h0M528.1 275.8h0M533.4 331.7h0M526.5 301.3h0M544.5 363.3h0M530.5 331.9h0M530.3 263.4h0M528.3 327.4h0M528.5 273.6h0M528 327.5h0M534.3 337.3h0M530 275.9h0M527.9 295.9h0M531.5 290.7h0M529.1 272.5h0M526.1 292.7h0M542.9 362.5h0M548.5 372.8h0M543.2 363h0M527.3 323.8h0M546.9 370.4h0M546.7 365.6h0M532.4 263.5h0M529.2 269.5h0M525.8 299.3h0M529.5 270.6h0M528.5 305.4h0M543.3 361.9h0M534.2 337.7h0M525.8 296.8h0M527.3 306.3h0M528.3 281.5h0M527.2 318.8h0M543.1 362.6h0M532.6 342.8h0M539.1 353.8h0M528 277.1h0M531.4 335.6h0M530.1 259.6h0M548.1 368.2h0M534.4 340.3h0M526.2 292.7h0M531.5 324h0M539.5 355.5h0M533.6 339.8h0M530.1 334.9h0M542.6 363.9h0M526.7 311h0M531.5 333.9h0M529.5 281.7h0M532.8 263.4h0M529.1 265.3h0M548.3 369h0M534.9 341.5h0M529.6 293.1h0M533.4 338.5h0M527.4 294h0M544.6 366h0M537.5 343.6h0M530.9 268.5h0M529.5 269.7h0M526.4 311.6h0M527.5 307.3h0M530.3 291.7h0M537.4 349.9h0M539.4 356.6h0M532.1 336.8h0M530.3 268.2h0M529 328.5h0M526.9 311.8h0M400.5 127h0M403.7 117.1h0M397 114.8h0M411.4 125.7h0M400 119h0M411.1 112.9h0M394.7 120.6h0M408.2 125.8h0M394.7 118.7h0M390 101.4h0M393.3 104.1h0M390 107.8h0M390.1 98.7h0M384.6 95.6h0M389.5 99.7h0M392.4 99.5h0M485.6 157.5h0M506.7 177.1h0M490.9 142.6h0M488 149.8h0M491.4 158.5h0M502.3 172.1h0M502.5 170.8h0M490.6 150.6h0M489.1 145.9h0M490.3 143.9h0M498.6 167.9h0M493.1 144.2h0M488.6 159.3h0M486.3 151.8h0M493.2 144.7h0M490.6 148.7h0M494.3 163.2h0M507.3 175.4h0M495.5 140.9h0M507.9 176.3h0M409.5 142.9h0M398.6 145.9h0M390.2 144.4h0M400.4 148.3h0M403 162h0M401.1 153.4h0M410.2 149.7h0M406.1 160.2h0M390.8 156.3h0M400.4 168.2h0M398.8 161h0M401.9 145.5h0M394.3 149.3h0M402.9 151.5h0M410.5 152.9h0M409.1 164.7h0M387.4 145.2h0M412.7 161.1h0M397 145.7h0M419.7 152.2h0M401.9 160.7h0M403.7 146.5h0M400.9 151.7h0M413.1 160.5h0M399.2 137.9h0M399.1 159h0M407.7 159h0M404.4 143.5h0M400.8 158.3h0M397.1 143.7h0M484.7 129.5h0M486.7 135h0M487.4 125.4h0M489.9 126h0M487.3 123.1h0M483.8 117.3h0M490.7 125.1h0"/>
<path stroke="#744AF5" d="M488.5 102.5h0M500.1 135.6h0M320.7 369.6h0M414.3 80.4h0M548.6 411.6h0M255.5 262.7h0M545.4 372.1h0M269.6 238.1h0M308.4 373.2h0M395.5 95.7h0M318.1 369.2h0M452.9 87.4h0M506 122.4h0M449.2 88.4h0M519.1 443h0M385.8 134.4h0M275.7 207.4h0M337.5 340h0M337.6 454.8h0M553.9 388.1h0M307.6 181.8h0M305.1 376.1h0M346.1 154.2h0M308.2 370.7h0M416.1 471.3h0M267.8 228.8h0M325.1 446.3h0M304.7 380.1h0M296.7 388.7h0M326.3 448.3h0M492 103.7h0M336.4 452.6h0M413.3 80.1h0M490.5 104.6h0M526.9 329.2h0M523.4 312.7h0M300.5 381.3h0M496.5 168h0M535.5 230h0M328.6 446.2h0M416.6 121.5h0M331.3 365.2h0M453.2 88.5h0M504.3 133h0M358.3 462.5h0M549.7 409.4h0M491 104.1h0M344.4 348.9h0M366.5 140h0M328.1 448.2h0M303.9 288.9h0M322.5 329.5h0M541.2 420.3h0M336.1 452.2h0M530.5 340.8h0M329.1 447.3h0M367.6 141h0M255.7 261.2h0M504.2 132.1h0M485.1 145.1h0M311 370.2h0M362.6 144.4h0M524.2 295.5h0M536.4 354.7h0M336.1 162.4h0M354 459.3h0M489.5 141.4h0M337.6 452.6h0M277.6 208h0M416.9 121.1h0M526.8 437h0M341.3 453.9h0M540.1 364.7h0M307.9 374h0M305.7 375.3h0M306 374.9h0M267.7 250.9h0M533.8 347.1h0M535.2 228h0M260 283.3h0M293.3 413.5h0M391.3 131.8h0M301.3 382.4h0M412.3 77.7h0M508.3 129.2h0M533.2 209.9h0M307.1 182.8h0M412.8 468.9h0M396.7 84.2h0M517.1 187.9h0M467.1 91.3h0M308.1 372.9h0M508.6 123h0M329.5 449.6h0M271.1 239.2h0M520 192.7h0M298.9 386h0M317 318.6h0M296 388.4h0M324 367.8h0M317.3 369.8h0M314.6 368.7h0M323.1 368.8h0M547.3 379.5h0M551.2 381.9h0M526.5 280.6h0M542.4 365.2h0M329.3 367.1h0M544.3 370.4h0M248.7 278.6h0M294.6 395.3h0M482.7 146.3h0M271.2 240.9h0M552.5 402h0M269 236.1h0M349.8 459.3h0M412.7 111.5h0M285.4 283h0M300.5 188.1h0M527.4 260.4h0M328.9 449.8h0M415.9 123.9h0M441.8 470.2h0M341.3 359.8h0M415 127.1h0M314.8 306.7h0M324.8 368.7h0M267 231.3h0M404.9 107.2h0M297.9 387.7h0M375.6 465.1h0M306.2 373.7h0M332.2 451h0M247.4 278.2h0M333.4 449.9h0M267 251.6h0M331.8 363.8h0M319.8 322.7h0M361 145.6h0M345.8 455.9h0M529 205.8h0M329 367.7h0M489.2 104h0M488.2 103.6h0M518.1 444.9h0M500.4 112.9h0M260.7 282.4h0M528.1 255.9h0M499 455.7h0M531.4 211h0M325.8 446h0M322.6 328.9h0M486.1 461h0M250.2 266.1h0M533.9 232.9h0M300.6 383.1h0M326.7 367.9h0M522.8 442.2h0M328.4 448.7h0M312.3 300.5h0M523.9 293.5h0M324.1 446h0M436.9 86.9h0M373.9 463h0M542.3 420.5h0M313.5 370.3h0M266.5 227.8h0M409.2 109.6h0M331.6 450h0M367.7 464.1h0M273.9 284h0M524.3 303.6h0M410.2 79.4h0M300 383.9h0M248.8 270.7h0M540.2 423.3h0M342.8 358.2h0M330.1 447.6h0M411.6 79.5h0M271.5 240.9h0M348.8 456.4h0M294.8 393.3h0M328.8 447.8h0M475.8 461.4h0M528.1 203.1h0M532.2 346.1h0M418 117.2h0M550.6 380.5h0M529.5 435.5h0M305.3 377.5h0M455.7 88.7h0M254.7 262.5h0M388.2 131.6h0M331.2 449.7h0M244.4 273.8h0M524.5 294.5h0M553.8 387.6h0M302.3 379.5h0M528 198.4h0M310.7 372.4h0M496.1 168.5h0M504.8 133.1h0M317.8 316.3h0M498.2 170.7h0M301.8 289.1h0M512.5 182.7h0M540.5 362.2h0M245 273.2h0M322.4 443h0M428.7 84h0M326.6 446.8h0M543.1 418.1h0M294.6 191.2h0M494.4 456.1h0M398.8 131.2h0M531.3 343.7h0M339 450.8h0M305.9 376.2h0M316.1 369.3h0M253.9 278.8h0M463.7 467.9h0M407.6 129.9h0M525.7 289.1h0M306.5 374h0M389 466.8h0M429.6 472h0M496.6 453.6h0M481 97.1h0M296.2 389.6h0M323.4 445.3h0M314 438.9h0M459.6 468.1h0M271.4 282.9h0M380.1 465.7h0M397.1 96h0M299.6 384.2h0M397.5 467.2h0M300.3 428.9h0M303.9 379.5h0M475.8 463.1h0M470.3 463.9h0M298.8 384.3h0M298.6 389.1h0M310.7 370.6h0M427.2 85h0M542.1 419.1h0M437.9 470.3h0M305.1 376.8h0M368.6 464.7h0M464.3 466.3h0M507 450.4h0M534.3 431.9h0M485.3 146.7h0M271.5 245.1h0M304.6 185.2h0M507.7 449.7h0M292.3 406.2h0M277.9 284.1h0M287.9 284.2h0M535.1 225.6h0M366.8 141.5h0M466.5 91.5h0M326.3 447.3h0M269.9 243.8h0M298.4 387.9h0M437.8 88.3h0M338.3 359.9h0M326.7 170.9h0M338 452.8h0M396.4 97.9h0M492.3 107h0M527.4 269.7h0M385.1 465.4h0M397.8 469h0M530.7 346.1h0M409.4 80.3h0M361.9 145.1h0M350.9 457.8h0M347.2 151.7h0M249.7 266.3h0M457 468h0M341.5 454.7h0M553.5 385.1h0M398.5 100.4h0M403.1 105.5h0M329.6 365.2h0M409.4 80.4h0M340.1 357.4h0M281.9 202.8h0M534.1 347.5h0M376.6 465.2h0M320.1 369.1h0M494.9 137.6h0M338.7 340.2h0M328.3 448.8h0M502.2 134.3h0M500.6 455.6h0M305.9 375.5h0M487.9 100.9h0M406.1 129.2h0M267.9 248.5h0M408 109.7h0M536.9 355.6h0M271.9 241.5h0M371.5 465.1h0M294.9 393.8h0M308 372.8h0M529.8 342.6h0M292.3 406.7h0M252.9 280.8h0M271.4 283.1h0M314.8 305h0M319.3 173.4h0M327.4 446.4h0M477.2 95h0M497 456h0M481.2 462h0M249 268.9h0M301.9 379.2h0M311.6 302.5h0M336.3 452.8h0M417.2 120.7h0M413.6 126.5h0M506.9 133.4h0M330.7 365h0M278.8 205.8h0M345.8 348.9h0M301 382.2h0M304.5 377.5h0M333.1 362.2h0M545.7 414.5h0M294.8 393.8h0M542.2 420.4h0M314.3 371.1h0M526.6 328.2h0M537.2 353.7h0M299.8 381.4h0M322.1 368.6h0M308 373.4h0M314 438.9h0M290.6 282.8h0M270.1 217.3h0M292.3 397.2h0M246.9 268.5h0M462.7 88.9h0M308.5 374h0M272.1 242.1h0M321.5 441.7h0M373.9 139.1h0M526.6 293.7h0M304.3 378.6h0M323.3 443.5h0M551.6 382.7h0M395.8 89.6h0M387.2 131.7h0M497.5 457.2h0M395.2 87.4h0M525.9 326.8h0M534.4 426.8h0M425.8 114.4h0M340.2 424h0M431.2 380.6h0M509.7 289.7h0M322.2 276.4h0M288.9 223.6h0M481.2 237.7h0M325.7 438.2h0M452.4 304.4h0M506 223.4h0M506.8 442.7h0M416.4 400h0M485.2 188.7h0M277.7 252.9h0M350 330.9h0M313.3 192.7h0M400.4 457.6h0M349.4 404.1h0M333.6 388.2h0M330.4 307.3h0M470.4 157.6h0M384.9 217h0M448.3 394.2h0M498.9 198h0M384.3 317.2h0M465.1 412.6h0M415.1 390.8h0M518 205.3h0M385.5 233.9h0M404.8 350.8h0M449.9 466.2h0M423.2 350.6h0M428.5 224.1h0M511.5 342.1h0M432.7 359.6h0M513.7 254.9h0M474.4 359.7h0M484.2 283.1h0M379.2 374.5h0M545.6 405.1h0M450 469.2h0M312.1 264.1h0M429.5 460.1h0M285.5 233.9h0M377.2 299.8h0M364.7 182.5h0M412.1 376.1h0M447.9 339.1h0M333.6 413.5h0M474.6 334.5h0M380 209.4h0M457.3 224.6h0M517.6 311.3h0M497.3 252h0M444.4 307.8h0M297.9 271.1h0M314.2 378.6h0M483 379.4h0M480.2 154.8h0M392.1 135.9h0M546.2 410.4h0M360.2 239.2h0M297.5 228.3h0M430.1 99.5h0M322.4 418h0M309.2 381h0M372.5 296.1h0M320 369.9h0M468.2 170.9h0M361.2 394.4h0M374.4 344.9h0M355.9 331.1h0M479.7 107.9h0M407 410.7h0M376.3 253.6h0M416.1 164h0M487.4 329.3h0M421.5 453.4h0M420.5 312.8h0M483.7 381.4h0M433.3 368.1h0M403.1 468.9h0M451.6 240.3h0M476.2 151.2h0M287.9 225.5h0M499.1 441.1h0M412.3 293.6h0M372.3 213.1h0M498.7 241.1h0M434.9 463.5h0M326.5 399h0M345 252.2h0M491.5 215.3h0M489.6 355.1h0M348.8 401.7h0M275.4 270.9h0M412.2 188h0M423.7 360.4h0M349.6 234.9h0M542.9 417.9h0M357.5 449.1h0M446.1 185.5h0M355.2 425.2h0M397.8 190.2h0M479.4 122h0M547.3 415.2h0M334.1 231h0M524.8 238.3h0M414.3 298h0M472.2 274.4h0M337 340.9h0M433.2 289.7h0M492 426.5h0M359.1 276.5h0M467 146.4h0M517.7 309.1h0M419.9 445h0M382.8 435.8h0M317.1 240.2h0M424.2 385.7h0M436.4 410.7h0M428 101.6h0M532.5 387.4h0M502.4 302.5h0M403 250.4h0M349.6 381.2h0M444.2 111.2h0M353.5 375.6h0M339.3 321.7h0M510.2 386.5h0M428.5 444.7h0M502.2 297.8h0M485.7 434.3h0M312 188h0M445.7 356.9h0M505.4 221.3h0M408.3 200.2h0M328.4 304h0M460.7 468.9h0M412.9 204.6h0M405.4 383.3h0M407.7 184.7h0M539 383.3h0M423.1 115.2h0M345.4 280.1h0M462.4 349.7h0M324.9 396.7h0M404.2 401.6h0M408.2 346.2h0M471.9 323.8h0M487.1 276.4h0M382.6 342.6h0M405.9 244h0M419.1 80.6h0M528.3 223.7h0M396.2 446h0M456.2 371.9h0M368.3 221.2h0M521.4 382.9h0M469.6 251.2h0M432.5 278.3h0M374.5 207.8h0M365.5 268h0M412.4 410.1h0M367 313.1h0M403.6 263.4h0M336.5 376.9h0M346.4 383.8h0M491.5 305.1h0M424.7 372.8h0M315.2 180.7h0M329.5 443.2h0M517.1 326.5h0M520.2 197.3h0M441.1 370.3h0M372.1 382.9h0M299.4 193.2h0M370.8 444.5h0M419 127.3h0M432.4 424.1h0M487.9 289.6h0M346.3 426.7h0M344.2 402.4h0M516.7 344.3h0M373.5 393.4h0M290.4 212.3h0M367.2 222.4h0M337 374.6h0M513.8 292.4h0M469.3 186.6h0M373.2 142.6h0M290.9 279.8h0M474.1 306.3h0M379.4 457.9h0M357.7 431.3h0M509.2 306.6h0M478.8 220.5h0M515.5 429h0M291.7 196.7h0M522.3 253.4h0M504.2 435.1h0M412.8 172.5h0M445.3 361h0M455.2 422.9h0M531 361.5h0M496.4 422.5h0M498.2 328.2h0M430.1 200.3h0M437 248.9h0M368.4 342.2h0M496 233h0M301.4 260.4h0M398.1 438.5h0M476.8 182.9h0M373.3 165.4h0M375.9 156.6h0M371.5 288h0M467 403.5h0M462.6 445.7h0M362.3 165.5h0M303.1 383.3h0M498 205.5h0M362.6 206.5h0M435.8 108.3h0M457.9 272.8h0M474.4 435.1h0M310.5 374.2h0M415.2 461.5h0M289.4 252.2h0M446.7 298.7h0M292.8 223.2h0M475.3 255.6h0M492.3 402.9h0M307.7 394.3h0M378.1 278.8h0M354.5 413.6h0M447.3 103.3h0M437.9 353.5h0M512.4 306.9h0M482.7 123.6h0M431.4 124.4h0M287.4 211.3h0M488 312.5h0M483.7 271.7h0M392.8 280.2h0M480.7 185.3h0M344.3 243.5h0M400.4 241.6h0M509.3 286.8h0M427.9 291.7h0M419.4 104.8h0M517.8 329.1h0M364.8 358.9h0M401.3 432h0M441.9 231.5h0M428.9 199.4h0M362.9 435.1h0M389.9 178.5h0M507.2 334h0M406.5 203.9h0M471.2 195.7h0M452.9 463.4h0M393.5 316.5h0M418.9 201.2h0M483.2 363.2h0M314 381h0M485.2 196h0M371.5 271.2h0M475.1 336.5h0M434.4 176.6h0M355.8 171.6h0M453.8 207.2h0M439.2 116.4h0M416.7 430.8h0M343 423h0M310.2 410.4h0M485.7 322.8h0M484.2 231.2h0M459.7 301.6h0M350.5 433h0M486 357.1h0M356.5 390.4h0M287.9 256.5h0M408.7 103.4h0M508.7 434.9h0M352.8 439h0M425.5 227.8h0M406.5 272.5h0M382.9 162.6h0M419.9 271.7h0M328.3 419.4h0M413.5 278.6h0M393 262.3h0M99.8 290.4h0M100.3 291.5h0M93 287.7h0M96.2 287.7h0M101.1 291.5h0M95.2 288.9h0M102.1 290.6h0M94.5 288.7h0M102.6 292.1h0M102.2 292.9h0M101.7 291.2h0M96.3 288.7h0M96.5 286.7h0M93.2 285h0M96.1 286.5h0M97.6 289.6h0M95 287.6h0M102.6 291.7h0M91 287.7h0M100.6 290.4h0M95.2 288.7h0M96.1 289.7h0M93.7 289.8h0M96.6 286.8h0M99.9 287.7h0M92.2 285.6h0M93.1 288.7h0M96.7 286.6h0M96.3 288.8h0M95 289.8h0M98.9 289.6h0M102.3 291.4h0M93.6 287.8h0M97.7 288.7h0M92.9 285.8h0M101.6 290h0M98.6 290.9h0M102.2 290.2h0M101.6 292h0M93.1 288.2h0M106.1 294.3h0M113 297.5h0M109.3 296.4h0M110.8 296h0M112.8 297.2h0M104.4 293.5h0M108.1 293h0M107.6 294h0M112 297.7h0M120.1 302.6h0M117.8 301.9h0M116.2 302.5h0M117.3 299.9h0M118.2 301.9h0M119 303.5h0M116 301.4h0M121 304.5h0M132.9 309.4h0M138.2 310.5h0M127.4 311.9h0M125.9 312.8h0M124.9 312.3h0M128.1 312.8h0M128.7 310.9h0M128.2 313.6h0M129.8 313.4h0M129.4 315.1h0M126.5 311.5h0M136.4 310h0M134.9 311.5h0M131.4 314.9h0M131.3 314.2h0M126.1 311.5h0M129.1 311.6h0M131.7 309.7h0M128.9 315.6h0M125.5 316.3h0M128.3 314.1h0M131.7 314.3h0M127.9 315.1h0M132.3 313.1h0M135.6 312.7h0M127.3 310.9h0M127.5 312.2h0M127 312.9h0M131.8 314.3h0M130.7 314.2h0M129.2 311.6h0M125.9 311.1h0M127.4 309.4h0M131 313.7h0M106.9 327.5h0M123 317h0M123.3 315.8h0M109.6 326.5h0M118.7 319.1h0M124.7 316.5h0M124.6 316.5h0M112.8 326.2h0M121.7 316.3h0M118.4 318.1h0M121.1 317.4h0M121.7 318.3h0M119 321.3h0M123.2 317.9h0M111.6 324.2h0M120.9 317.1h0M117.4 318.6h0M117.5 320.5h0M124.5 314.1h0M126.3 316.7h0M112.9 324.4h0M118.8 320.5h0M109.7 327.6h0M122.3 317.9h0M109.1 327.5h0M124.2 314.9h0M117.4 320.2h0M165.5 317.7h0M141.6 313.7h0M141.4 311.3h0M139.4 312.2h0M148.1 313.7h0M142.5 311.2h0M169.5 318.4h0M145 312.3h0M149.8 313.8h0M149.5 313.7h0M177.5 322.4h0M156.8 317.2h0M148.7 313.5h0M147.2 311.8h0M179.7 322.5h0M141.8 311.7h0M161.5 317.5h0M162.5 317.3h0M173.8 321.1h0M181.2 323.9h0M147.9 313.1h0M148.8 313.1h0M158.2 316.9h0M148.9 313.9h0M165 319.9h0M148.1 313.3h0M166.4 318.4h0M114.1 288h0M287.4 141.8h0M290.6 145h0M283.7 141h0M280.3 136.4h0M286.5 140.1h0M287.6 144.2h0M282.3 135.9h0M302.8 156.9h0M302.9 159.2h0M302.6 157.5h0M302.5 162.8h0M302.8 157.2h0M295.5 149.7h0M298.5 150.1h0M301.1 158.1h0M293.8 147.8h0M291.2 149h0M292.7 146.9h0M301.1 154.7h0M296.8 153.9h0M305.9 155.1h0M305.7 158h0M305.8 162.7h0M305.6 148.8h0M304.8 147.4h0M319.7 131.7h0M324.7 125.8h0M344.7 119.7h0M358.8 114.7h0M374.5 111.5h0M387.7 97.8h0M393.3 98.5h0M387.8 97h0M390.5 96.8h0M395.9 105.2h0M409.2 114.4h0M391.5 97.2h0M397.2 105.3h0M404.3 109.5h0M406.5 114.1h0M391.5 89.4h0M395.2 99.9h0M231.3 251.4h0M233 253.8h0M234.9 253.8h0M232.8 253.8h0M230.9 256.9h0M253.5 256.1h0M245.3 256.4h0M242.2 256.1h0M236.6 274.7h0M237.1 266.7h0M232.9 268h0M231 271.8h0M239.2 268.7h0M231.3 272.6h0M235.5 271h0M238.6 270.3h0M304.9 300.3h0M297 289.9h0M274.5 288.6h0M314.3 321.7h0M308.4 306.5h0M298.5 298.6h0M301.4 298.1h0M287.1 285.9h0M305.8 313.1h0M263.3 288.8h0M269.3 293.3h0M314.8 316.7h0M267.1 289.9h0M262.2 289.2h0M290.9 287.4h0M310.5 320.6h0M285.6 286.7h0M254.1 283.1h0M283.8 288.9h0M316.9 317.3h0M296.1 293h0M317.3 324.6h0M291.9 287.7h0M270.3 287.6h0M295 291.3h0M289.7 290.3h0M315.2 322.4h0M312.9 314.7h0M302 294.2h0M310.2 306.3h0M310.9 314.4h0M295.7 292.9h0M304.1 293.7h0M300.2 297.7h0M302.6 312.1h0M315 322.2h0M318.6 326.3h0M309.5 307.4h0M305 302.3h0M314.4 317.6h0M313.9 310.3h0M306.1 301.9h0M302.3 294.9h0M309.8 313.9h0M317.8 366.2h0M323.6 361.2h0M324.1 363.1h0M315 366.1h0M327.7 361.1h0M327.5 356.2h0M308 365.4h0M311 362.5h0M319.8 359.6h0M321.6 364.8h0M334.6 350.6h0M323 360.8h0M323.6 356.5h0M303.2 369.4h0M330 354.4h0M332.1 347.4h0M325.8 359.9h0M335.4 345.3h0M342.8 352.9h0M330.4 345.6h0M346.5 337.5h0M333.2 343.3h0M334.5 348.7h0M333 345.1h0M321.9 346.3h0M332.1 360.2h0M329.4 351.3h0M342.6 350.1h0M324.5 357.8h0M324.7 356h0M323.9 342.9h0M322.4 352.8h0M345.9 359.8h0M325.9 344.2h0M332.8 354.7h0M332.2 353.5h0M336.1 350h0M338.6 346.9h0M332.6 365.7h0M326.1 351.4h0M313.9 344.8h0M334.8 348.3h0M313.2 347.5h0M324 336.5h0M332.7 329.7h0M312.9 356.1h0M318.4 354.3h0M323.2 366.5h0M334.7 348.7h0M330.7 355.4h0M322.8 350.3h0M322 340.3h0M331.5 347.7h0M317.6 348.8h0M317.4 348.5h0M318.1 356.5h0M317.8 362.3h0M320.7 365.2h0M319.4 362h0M320.5 364.6h0M314.4 361.8h0M318.3 363.2h0M317.9 354.3h0M319.8 364.1h0M309.5 369h0M309.5 357.5h0M304.6 371.1h0M320.2 357h0M322.4 359.7h0M321.6 365.9h0M315.3 362h0M532.1 339.6h0M529.9 301.4h0M531.1 337.9h0M531.9 270.7h0M548.1 371.2h0M547.8 364.9h0M529 292.3h0M531.3 265.4h0M530.1 264.3h0M533.7 344.8h0M530.3 280.4h0M532 342.6h0M531.4 271.1h0M534.9 257.8h0M526 298.8h0M527.5 324.5h0M540.4 350.4h0M526.9 283.9h0M529.9 265h0M532.2 271.8h0M392.2 123.6h0M401.4 120.9h0M403.6 121.4h0M404.9 124.9h0M406.6 118.9h0M407.5 115.8h0M389.8 123.4h0M398.4 120.8h0M403.2 120.7h0M398.1 119.9h0M413.8 126.6h0M405.7 116.6h0M403.2 125.5h0M387.7 101.9h0M387.3 99.9h0M383.1 100.6h0M389 103.5h0M391.4 92.3h0M388.4 92.6h0M393.3 107.4h0M391 98.8h0M391 107.2h0M390 103.3h0M385.7 97.1h0M395.1 101.8h0M395 100.4h0M393.2 105.7h0M386.8 102.7h0M387.5 94.6h0M389.7 98.9h0M393.3 99.8h0M496.2 141.7h0M509.5 176.4h0M490 146.4h0M496.3 164.8h0M488.4 159.1h0M401.1 144.5h0M396.4 154.5h0M405.2 162.9h0M399.1 155.3h0M411.1 175.9h0M403.6 160.9h0M410.1 158.2h0M493.6 130.8h0M485.4 136.4h0M494 120.5h0M479.8 123h0M492.1 126.2h0M489.6 123.3h0M494.4 123.6h0M486.7 128.1h0M501.5 129h0M491.8 127.6h0M500.4 129.4h0M487.2 120.3h0M497.9 129.1h0"/>
<path stroke="#4523FC" d="M293.7 417.4h0M307.3 434.6h0M293.9 418.4h0M292.4 401.8h0M302.2 381.8h0M313.1 438.4h0M295.2 422.7h0M295 415h0M292.8 411.6h0M293.6 399h0M301.5 381.4h0M302.4 429.7h0M294.2 407.6h0M293.6 411.9h0M295.1 417.4h0M291.7 411.2h0M314.7 439.6h0M291.8 407.2h0M301.8 429.6h0M307.9 433.9h0M296.8 421.7h0M295.7 413h0M292.5 402.3h0M293.8 416.4h0M293.5 407.6h0M302.4 427.7h0M321.1 443.3h0M294 412.8h0M295.3 422.6h0M293 412h0M292.9 399.9h0M294.8 416.6h0M292.8 406.7h0M296.5 391.8h0M295.2 389.7h0M293.9 415.3h0M293 410.5h0M308.2 432.9h0M304.2 430.7h0M291.5 411.2h0M310.6 436.9h0M294.6 398.3h0M293.9 415.8h0M293.7 412.4h0M292.3 399.8h0M293.6 404.4h0M292.2 410.2h0M292.9 401.4h0M307.3 433.1h0M303.9 430.3h0M297.5 385.8h0M291.9 404.2h0M292.5 408.2h0M295.4 420.9h0M294.4 396.2h0M317.9 441h0M293.5 398.5h0M292.9 410.1h0M295.2 418.4h0M294.1 417.8h0M293.7 412.9h0M299.4 426.4h0M301.5 427.8h0M290.8 399.5h0M310.8 435.8h0M295.3 418.4h0M297.6 422.4h0M310.2 434.3h0M292.6 408.1h0M308 434.6h0M293.4 409.6h0M293.6 410h0M309 435.7h0M292.4 401.8h0M294.7 409.9h0M294.2 409.9h0M291.9 410.7h0M308 436.1h0M296.7 392.9h0M307.7 433.5h0M297.9 425.1h0M294.8 419.6h0M311.5 439.8h0M293.5 415.9h0M292.5 401.3h0M305.3 417.1h0M301.3 411.2h0M319.2 418.2h0M353.7 302.5h0M467.3 128.7h0M300.8 395.6h0M318.1 410.6h0M318.5 427.6h0M306.5 421.4h0M292.7 405.5h0M295 415.9h0M321.4 417.1h0M309.5 418.9h0M317.7 424.4h0"/>
<path stroke="#AA8AE7" d="M278.5 204.5h0M527.2 266.1h0M527.3 330.7h0M400.7 81.9h0M314.1 301.4h0M313.5 176.4h0M315.9 312.1h0M365.1 141.6h0M503.6 174.2h0M403 81.2h0M316.5 310.4h0M384.5 133h0M408 109.9h0M536.9 353.9h0M543.1 419.9h0M296.4 286.1h0M272 242.7h0M507.8 126.2h0M479.3 462.5h0M399.5 129.6h0M275.4 209.8h0M267.6 228.8h0M540.4 424.7h0M249.9 268.4h0M319.4 324h0M535.3 429.5h0M330.9 166.4h0M364.5 197.2h0M457.3 204.5h0M452.8 178.6h0M331.2 182.8h0M461.5 114.2h0M418.5 217.7h0M327.1 291.5h0M277.7 203.7h0M462.1 417.4h0M402.9 103.5h0M507.8 404.9h0M415.5 456.8h0M516.1 439.4h0M470.7 308.9h0M419.5 439.1h0M470.7 199.2h0M392.3 360.6h0M352.2 374.5h0M461.1 105.6h0M395.8 430.7h0M485.8 451.6h0M433.5 302.7h0M462.4 106h0M438.1 187.3h0M396.3 286.4h0M437.6 277.4h0M371.2 235.8h0M390.6 138.5h0M400 153.7h0M349.9 245.1h0M437.5 206.8h0M343.6 195.1h0M402.5 105.7h0M535.7 399.2h0M490.2 426.3h0M347.5 189.3h0M481.4 141.6h0M388.1 422.7h0M324.2 214.2h0M463.5 403.7h0M263.2 266.8h0M285.5 262.8h0M504 357h0M314.1 303.9h0M520.9 249.7h0M440 396.1h0M349.9 320.9h0M478.4 106.6h0M497.4 180.5h0M365.6 317.8h0M508.4 340.1h0M464.3 355.3h0M477.7 303.5h0M427.3 144.4h0M452.1 470.1h0M458.5 403.5h0M488.1 394.1h0M438.8 301.2h0M413.6 307.7h0M347.3 412.1h0M445.4 312.9h0M459 270.3h0M301.9 231h0M482.4 263.7h0M387.1 451.1h0M317.8 292.4h0M437.8 319.9h0M310 217.8h0M299.3 245.8h0M491.4 451.1h0M327 242h0M331.6 379h0M524.2 318.7h0M346.7 314.5h0M356 333.4h0M469.2 311.8h0M427.9 384.8h0M471.6 430.5h0M418.4 363.2h0M379.6 292.5h0M532.4 388.3h0M455.5 450.9h0M462.1 350.6h0M399.2 247.3h0M503.8 180.2h0M468.7 437.5h0M542.3 421.8h0M342.3 408.9h0M488 440.9h0M487.1 364.5h0M362.8 393.9h0M413.8 87.3h0M503.6 121.7h0M364.1 329.1h0M459.1 442.3h0M466.1 463.2h0M451.8 368.7h0M391.5 465.2h0M506.3 437h0M382.7 407.5h0M379.6 436.9h0M488.8 396.3h0M327.5 366.3h0M382.6 375.2h0M418.7 97.5h0M443.5 318.9h0M387.5 351.1h0M340.9 403.7h0M513.2 413.1h0M430.8 336.5h0M312.3 186.1h0M454 125.6h0M535.8 375.1h0M487.6 202.6h0M379.1 197.8h0M506.6 354.4h0M401 297.4h0M484.8 123.9h0M375.7 373.4h0M340.8 190h0M310.3 373.6h0M478.1 326.3h0M529.7 392.5h0M443.8 263.5h0M362.6 146.3h0M301 242.4h0M473.7 433.1h0M503.2 350.6h0M315.8 304.2h0M513.7 226.9h0M451.8 427.2h0M502.6 430.8h0M448.7 388.6h0M465.8 388.3h0M350.4 344.6h0M460 112.3h0M455.1 323.9h0M467.9 301.3h0M354.7 334.5h0M454.3 209.7h0M436.2 428.6h0M336.1 329.7h0M528 430.6h0M356.7 328.8h0M474.6 125h0M444.8 451.5h0M525.9 397.9h0M395.4 441.6h0M318.9 225.5h0M493.8 240.9h0M466.9 145.9h0M354.6 371.8h0M326.4 380.9h0M473.5 331.3h0M331.6 308.2h0M470.2 394.1h0M419.5 215.7h0M447.2 368.7h0M532.8 362.7h0M531 359h0M370.6 358.5h0M518.6 406h0M334.8 323h0M519 409.7h0M521 394.5h0M466.8 314h0M393.8 268.3h0M427.1 223.7h0M328.9 235.8h0M353.2 437.5h0M395.9 408.1h0M523.7 382.6h0M508.4 384.2h0M385.7 388.8h0M429 121.5h0M459.6 456h0M459.1 426.6h0M420.1 327.9h0M442.5 128h0M544.2 417.6h0M537 422h0M419.6 161.3h0M395.8 463.6h0M532.6 350.8h0M336.8 364.7h0M411 397.7h0M337.7 449h0M383.3 437.8h0M281.1 257h0M549.3 383.1h0M399.8 397.9h0M504.4 263.3h0M338.7 318.8h0M440.8 442.8h0M477.2 256h0M321.7 212.2h0M436.4 101.9h0M363.8 411h0M453.6 177.8h0M508.4 395.8h0M510.3 336.4h0M418.9 123.4h0M390.6 373.8h0M395.7 350.1h0M507.3 274.1h0M379.4 430.3h0M335.1 241.6h0M359.8 311.9h0M370.6 342.5h0M461.8 299.4h0M461.4 222.3h0M510.1 204.7h0M351.5 321.2h0M464.4 447.2h0M370.5 196.3h0M431.4 336.6h0M290.8 216h0M294.5 225.7h0M504.5 453.4h0M540.9 373.4h0M360.2 242.7h0M413.8 457.5h0M498.4 394.4h0M505.5 289.7h0M511.3 221.6h0M429.1 185.9h0M440.2 113.7h0M265.7 253h0M399.1 403h0M418.9 268.9h0M387 342.1h0M470.7 451.5h0M406.7 313.4h0M526.7 351.6h0M305.3 251.5h0M377.1 321.1h0M529.3 245.4h0M358.1 459h0M415.8 420.9h0M483.7 204h0M456.4 393.1h0M302.1 258.6h0M338.7 380.9h0M375.1 327h0M488.5 305.4h0M397.5 368.6h0M287.9 256.6h0M506.6 402.9h0M405.3 311.8h0M405.5 263.5h0M430.7 463.7h0M512.1 410.4h0M405.4 323.5h0M391.6 159.5h0M473.6 295h0M425.3 115.5h0M478.1 420.2h0M425.7 433.6h0M488 454.8h0M295.3 236.5h0M499.8 454.9h0M448.8 390.7h0M299.7 284h0M335.9 385.8h0M393.3 161.2h0M340.1 364.9h0M354.7 324.5h0M393.2 401.4h0M485 311.2h0M374.4 429.6h0M431.5 333.7h0M369 288.9h0M382.9 170.1h0M473.8 378.3h0M335.1 311.5h0M389.1 368.6h0M514.6 391.5h0M503.9 438h0M511.3 216.2h0M332 292.1h0M381.1 457.1h0M356 392h0M514.5 428.8h0M450.6 392.9h0M359.6 312.8h0M470.7 369.1h0M508.4 299.1h0M268.8 274.8h0M427.8 276.9h0M481.5 110.1h0M481.1 341.8h0M538.9 377.5h0M497 418.7h0M351.7 232.3h0M494 295.4h0M342.8 430.1h0M489.6 397.3h0M395.7 378.2h0M374.9 403.9h0M500 173.2h0M423.8 375.9h0M350.7 458.6h0M388.8 251h0M354.5 422.9h0M383 156.8h0M417.1 275.2h0M416.5 236h0M311.7 282.9h0M384.3 168.6h0M416.6 327.5h0M548.7 401.5h0M497.2 281.8h0M370.2 443.2h0M486.8 393h0M473.2 249.2h0M405.4 378.2h0M415.5 301.5h0M445 401.8h0M388.1 267.8h0M472.1 384.4h0M453.7 216.4h0M350 372.7h0M371.5 391.3h0M329.6 323.1h0M484.8 396.4h0M308.3 267.6h0M482.6 157.5h0M520.3 320.3h0M475.1 307.9h0M317.9 310.3h0M337.2 360.5h0M322.1 259.1h0M515.3 385.9h0M533.9 380.1h0M480.1 289.9h0M535.3 232.9h0M288.1 283.9h0M455 401.6h0M368 332.5h0M351.6 345.7h0M376.2 177.9h0M347.2 252h0M339 310.6h0M426.4 418.8h0M464.4 251.2h0M511.7 432.8h0M361.1 443.6h0M380.4 420.3h0M413.3 315.6h0M362.2 242.5h0M339.6 301.6h0M457.3 128.7h0M372.3 420.2h0M400.6 315.7h0M402.8 416.4h0M312.8 184.4h0M362.8 335.5h0M371.2 144.9h0M477 324.8h0M362.3 384.8h0M373.9 335.1h0M283.9 250.3h0M425.5 358.9h0M453.4 154.5h0M424.9 453.5h0M388 356.6h0M297.1 272.8h0M490.2 404.7h0M475.1 153h0M375.6 239.4h0M511.3 432.8h0M428.6 287.9h0M312.2 208.3h0M253.1 265.1h0M337.4 386.3h0M346.7 373h0M431.7 105.8h0M524.7 391.7h0M511.1 225.8h0M480.1 294.7h0M484.1 249.7h0M409.2 459.4h0M359.8 228.2h0M530 347.6h0M427.7 318.8h0M531.7 426h0M494.3 448.5h0M421.3 243.2h0M517.1 356.9h0M345 447.2h0M354.9 196.1h0M418.1 220h0M507.1 251.5h0M409.6 349h0M456.7 453.3h0M524.8 398h0M412.1 462.4h0M363.8 463.6h0M379.1 367.6h0M363.3 299h0M449.1 427h0M524.7 338.9h0M454.3 458.4h0M423.2 367.2h0M278.5 271h0M463.7 138.7h0M382.4 393.3h0M477.9 308.8h0M347.2 322.4h0M506.9 352.9h0M343.8 376.4h0M383.5 152.5h0M365.5 446h0M418.6 278.4h0M470.1 457.8h0M386.6 467.9h0M474.6 226.8h0M399.1 442.1h0M412 193.5h0M403.2 428h0M400.6 311.5h0M336.8 206.3h0M461.5 104.3h0M344.8 420.2h0M534.6 377.5h0M373.5 261.4h0M122.1 316.9h0M123.4 315.6h0M123.3 317.2h0M321.8 334.7h0M402.9 167.7h0"/>
</g>
<g stroke="#000" stroke-width="1.5" fill="none"><path d="M65.15 45.2V513.75M64.4 513.0H598.6"/><path d="M119.6 513.0V518"/><path d="M270.9 513.0V518"/><path d="M422.2 513.0V518"/><path d="M573.5 513.0V518"/><path d="M60.3 89.3H65.15"/><path d="M60.3 201.3H65.15"/><path d="M60.3 313.3H65.15"/><path d="M60.3 425.3H65.15"/></g>
<g font-size="16" fill="#000"><text x="119.6" y="534" text-anchor="middle">-10</text><text x="270.9" y="534" text-anchor="middle">-5</text><text x="422.2" y="534" text-anchor="middle">0</text><text x="573.5" y="534" text-anchor="middle">5</text><text x="56" y="95.0" text-anchor="end">10</text><text x="56" y="207.0" text-anchor="end">5</text><text x="56" y="319.0" text-anchor="end">0</text><text x="56" y="431.0" text-anchor="end">-5</text></g>
<text x="330.4" y="555" font-size="18.67" text-anchor="middle" textLength="70.3" lengthAdjust="spacingAndGlyphs">UMAP_1</text>
<text transform="translate(30.3 279.8) rotate(-90)" font-size="18.67" text-anchor="middle" textLength="70.5" lengthAdjust="spacingAndGlyphs">UMAP_2</text>
<text x="331.2" y="32" font-size="21.33" font-weight="bold" text-anchor="middle" textLength="83.8" lengthAdjust="spacingAndGlyphs">MALAT1</text>
<rect x="616.3" y="228.2" width="20.7" height="102" fill="url(#lg)"/>
<g stroke="#fff" stroke-width="0.9" stroke-opacity="0.85"><path d="M616.3 307.0h4.4M637 307.0h-4.4"/><path d="M616.3 283.45h4.4M637 283.45h-4.4"/><path d="M616.3 260.5h4.4M637 260.5h-4.4"/><path d="M616.3 236.4h4.4M637 236.4h-4.4"/></g>
<g font-size="16"><text x="646.3" y="336.0">0</text><text x="646.3" y="313.3">2</text><text x="646.3" y="290.3">4</text><text x="646.3" y="266.3">6</text><text x="646.3" y="242.7">8</text></g>
</svg>
</body></html>
